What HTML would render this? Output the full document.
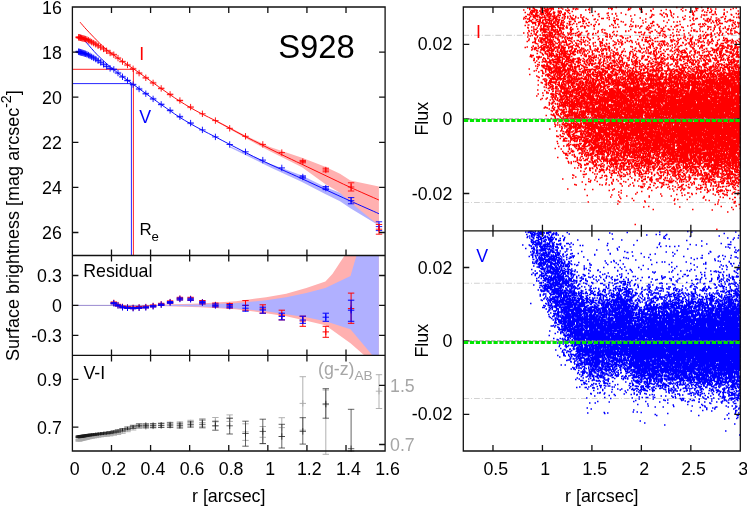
<!DOCTYPE html>
<html><head><meta charset="utf-8"><title>S928</title>
<style>html,body{margin:0;padding:0;background:#fff}svg{display:block;will-change:transform}text{font-family:"Liberation Sans",sans-serif}</style></head>
<body>
<svg width="747" height="506" viewBox="0 0 747 506">
<rect width="747" height="506" fill="#fff"/>
<path d="M463.3 35.35H740.3" stroke="#d2d2d2" stroke-width="1.1" stroke-dasharray="5.8 2 0.9 2" fill="none"/>
<path d="M463.3 202.45H740.3" stroke="#d2d2d2" stroke-width="1.1" stroke-dasharray="5.8 2 0.9 2" fill="none"/>
<path d="M463.3 283.28H740.3" stroke="#d2d2d2" stroke-width="1.1" stroke-dasharray="5.8 2 0.9 2" fill="none"/>
<path d="M463.3 398.52H740.3" stroke="#d2d2d2" stroke-width="1.1" stroke-dasharray="5.8 2 0.9 2" fill="none"/>
<g transform="scale(0.5)"><path d="M1065 15h3m12 0h3m148 0h3m118 0h3m47 0h3M1054 16h3m1 0h3m21 0h3m3 0h3m2 0h3m4 0h8m13 0h3m10 0h3m41 0h3m39 0h3m37 0h3m101 0h3m23 0h3m21 0h4m53 0h3M1058 17h3m4 0h5m11 0h6m1 0h3m7 0h9m9 0h3m26 0h4m2 0h3m62 0h3m4 0h3m30 0h3m19 0h3m110 0h6m17 0h3m48 0h3M1096 18h3m25 0h3m18 0h3m6 0h3m148 0h3m112 0h3m7 0h3M1058 19h3m7 0h3m20 0h5m9 0h3m42 0h3m23 0h3m43 0h3m33 0h3m18 0h3m49 0h3m27 0h3m83 0h3m10 0h3M1046 20h3m19 0h6m7 0h3m6 0h3m2 0h3m3 0h3m26 0h3m3 0h3m31 0h3m5 0h3m74 0h3m24 0h3m85 0h3m18 0h3m11 0h3m39 0h3M1062 21h6m5 0h3m8 0h3m1 0h3m1 0h3m39 0h6m160 0h3m18 0h3m15 0h3m50 0h3m19 0h3m5 0h3M1068 22h3m1 0h3m3 0h4m5 0h3m1 0h3m21 0h3m1 0h3m11 0h3m165 0h3m60 0h3m16 0h3m17 0h3m69 0h3M1060 23h3m27 0h3m1 0h3m2 0h3m15 0h3m1 0h3m19 0h3m43 0h3m196 0h3m38 0h3M1064 24h6m10 0h6m7 0h3m10 0h3m6 0h3m3 0h3m159 0h3m54 0h3m35 0h3m27 0h3m10 0h3m29 0h3M1049 25h3m10 0h3m6 0h6m4 0h6m4 0h3m3 0h3m8 0h3m10 0h3m11 0h3m40 0h3m203 0h3m25 0h3m3 0h3M1059 26h7m16 0h7m16 0h4m8 0h3m8 0h4m83 0h3m23 0h3m82 0h3m12 0h3m85 0h3m15 0h3M1062 27h3m25 0h3m1 0h6m7 0h3m9 0h3m16 0h3m72 0h3m14 0h3m152 0h3m83 0h3m2 0h3M1070 28h5m4 0h6m14 0h5m2 0h3m20 0h3m64 0h3m24 0h3m4 0h3m58 0h3m25 0h3m8 0h4m12 0h3M1054 29h3m1 0h3m1 0h3m5 0h3m12 0h3m10 0h3m14 0h3m6 0h6m65 0h3m52 0h3m50 0h3m16 0h3m59 0h3m36 0h6m2 0h3m12 0h4m11 0h3m11 0h3M1057 30h4m4 0h3m14 0h3m7 0h6m62 0h4m104 0h3m35 0h3m24 0h3m5 0h3m42 0h3m13 0h3m1 0h5m1 0h3m47 0h3M1068 31h11m9 0h3m2 0h3m4 0h3m5 0h3m5 0h6m23 0h3m36 0h3m28 0h3m105 0h3m60 0h3m19 0h3M1072 32h3m13 0h3m2 0h3m3 0h3m3 0h4m5 0h3m10 0h3m9 0h3m90 0h3m25 0h3m39 0h3m37 0h3m24 0h3M1050 33h4m6 0h3m2 0h9m23 0h3m3 0h3m1 0h3m1 0h3m15 0h3m2 0h3m13 0h3m44 0h3m133 0h3m114 0h3M1068 34h3m3 0h3m1 0h3m3 0h3m8 0h6m5 0h3m3 0h3m25 0h3m17 0h3m3 0h3m132 0h3m23 0h3m24 0h3m21 0h3m20 0h3m17 0h3m20 0h3m19 0h3m7 0h3M1047 35h3m8 0h3m5 0h3m9 0h8m1 0h6m16 0h3m5 0h3m4 0h3m23 0h3m64 0h3m79 0h3m43 0h3m16 0h3m74 0h3m28 0h3M1079 36h6m4 0h3m18 0h3m10 0h3m2 0h3m3 0h3m6 0h3m9 0h3m5 0h3m47 0h3m11 0h3m49 0h3m103 0h3m43 0h4m42 0h3M1050 37h3m16 0h3m7 0h3m7 0h3m5 0h6m2 0h6m1 0h3m27 0h3m19 0h3m4 0h3m28 0h6m184 0h4m19 0h3m31 0h3M1046 38h3m5 0h6m45 0h3m2 0h5m12 0h3m8 0h3m4 0h6m38 0h3m40 0h3m27 0h3m25 0h3m75 0h3m13 0h3m3 0h3m13 0h3m4 0h4m3 0h3m13 0h3m9 0h3M1064 39h3m5 0h5m12 0h11m5 0h3m4 0h5m1 0h3m22 0h5m16 0h3m7 0h3m10 0h3m27 0h3m15 0h3m128 0h3m49 0h5m36 0h3M1078 40h4m3 0h4m5 0h3m6 0h4m9 0h4m45 0h3m26 0h3m139 0h3m74 0h3m16 0h5m20 0h3M1058 41h6m7 0h3m10 0h3m9 0h8m6 0h3m9 0h6m98 0h6m52 0h3m92 0h3m4 0h3m20 0h3m18 0h3m5 0h3m21 0h6M1059 42h3m28 0h3m9 0h3m4 0h5m2 0h3m29 0h3m17 0h3m90 0h3m62 0h3m82 0h6m1 0h3m3 0h3m27 0h3m2 0h3M1051 43h3m2 0h3m15 0h8m2 0h3m11 0h3m13 0h5m3 0h3m12 0h6m6 0h3m12 0h6m71 0h3m61 0h3m50 0h3m63 0h3m4 0h3m2 0h3m10 0h3M1062 44h3m12 0h3m13 0h3m10 0h5m16 0h3m29 0h3m29 0h3m34 0h3m14 0h3m17 0h3m22 0h3m11 0h5m37 0h3m4 0h3m59 0h3m34 0h3m14 0h3M1051 45h5m9 0h8m4 0h3m1 0h3m7 0h5m5 0h3m9 0h6m2 0h4m13 0h3m15 0h3m17 0h4m153 0h3m90 0h3m36 0h3m6 0h3M1066 46h3m14 0h6m7 0h4m1 0h3m4 0h4m9 0h3m1 0h3m157 0h3m133 0h3m8 0h3m3 0h3m35 0h4M1064 47h3m2 0h3m4 0h5m9 0h5m4 0h3m4 0h3m5 0h4m15 0h3m10 0h3m16 0h3m3 0h3m55 0h3m68 0h6m102 0h3m27 0h8m21 0h3m5 0h3M1077 48h3m5 0h6m5 0h3m1 0h6m14 0h3m14 0h3m12 0h3m42 0h3m184 0h6m9 0h3m2 0h3m69 0h3M1077 49h3m20 0h3m8 0h3m8 0h3m14 0h3m1 0h3m35 0h3m5 0h3m4 0h3m23 0h3m9 0h3m13 0h3m7 0h3m50 0h3m43 0h3m21 0h3m10 0h3m6 0h3m2 0h3m22 0h3m25 0h3m3 0h3M1055 50h4m11 0h3m3 0h3m8 0h3m12 0h3m5 0h6m9 0h3m9 0h3m109 0h3m62 0h3m116 0h3M1049 51h3m29 0h3m6 0h3m12 0h3m8 0h3m1 0h3m1 0h4m45 0h3m10 0h3m36 0h3m42 0h3m23 0h3m7 0h3m42 0h6m23 0h3m45 0h3m32 0h3M1075 52h3m8 0h3m1 0h8m7 0h5m17 0h3m2 0h3m28 0h3m10 0h3m39 0h3m43 0h3m8 0h3m4 0h3m17 0h3m25 0h3m19 0h3m19 0h3m30 0h3m47 0h3m4 0h3m9 0h3M1087 53h5m5 0h9m1 0h3m4 0h3m35 0h3m5 0h3m4 0h3m17 0h3m68 0h3m1 0h3m5 0h3m7 0h3m34 0h3m21 0h3m55 0h3m1 0h3m8 0h3m22 0h3m29 0h3M1062 54h3m1 0h3m11 0h3m10 0h3m8 0h6m5 0h3m51 0h3m64 0h3m31 0h3m20 0h3m20 0h3m29 0h3m11 0h3m35 0h3m14 0h6m6 0h3m17 0h3m23 0h3M1054 55h3m29 0h3m4 0h3m6 0h5m2 0h3m4 0h6m3 0h3m3 0h5m4 0h4m82 0h3m1 0h3m61 0h3m1 0h3m25 0h3m36 0h3M1055 56h3m15 0h3m19 0h4m3 0h3m17 0h3m7 0h4m32 0h3m107 0h3m19 0h3m79 0h3m42 0h3m7 0h3m9 0h3m17 0h3M1082 57h3m1 0h3m14 0h3m13 0h3m169 0h3m27 0h3m91 0h3m20 0h3m4 0h3m8 0h3m3 0h3m1 0h3M1066 58h3m10 0h14m25 0h3m2 0h6m10 0h3m2 0h3m7 0h3m30 0h3m106 0h3m25 0h3m8 0h3m60 0h3m37 0h3m13 0h3M1069 59h5m13 0h8m1 0h3m2 0h7m1 0h3m1 0h3m25 0h6m57 0h3m53 0h3m30 0h3m40 0h3m6 0h3m5 0h3m58 0h3m3 0h3m4 0h3m23 0h5M1083 60h3m9 0h4m3 0h3m5 0h3m6 0h3m80 0h3m3 0h3m85 0h3m10 0h3m26 0h3m18 0h3m24 0h5m63 0h3m3 0h3M1056 61h3m3 0h3m15 0h3m3 0h7m8 0h3m1 0h8m5 0h3m19 0h3m180 0h3m40 0h3m12 0h3m2 0h3m49 0h3m21 0h3M1066 62h3m5 0h3m3 0h3m23 0h3m1 0h3m1 0h3m4 0h3m17 0h3m29 0h3m19 0h3m52 0h3m3 0h3m62 0h3m57 0h3m3 0h3m9 0h3m23 0h3m12 0h3m17 0h3m5 0h3M1057 63h3m28 0h5m5 0h3m15 0h3m2 0h3m17 0h3m12 0h3m12 0h3m52 0h3m4 0h3m14 0h3m48 0h5m6 0h3m10 0h6m21 0h3m36 0h5m8 0h3M1067 64h3m3 0h3m9 0h6m1 0h3m12 0h3m1 0h5m87 0h3m62 0h3m10 0h3m72 0h3m81 0h3m8 0h3m16 0h4M1072 65h3m13 0h4m5 0h8m9 0h4m7 0h3m11 0h4m10 0h3m6 0h3m29 0h3m27 0h3m43 0h3m3 0h5m7 0h3m6 0h3m19 0h3m88 0h3m60 0h3m3 0h3M1046 66h3m5 0h3m26 0h3m9 0h6m2 0h3m4 0h3m8 0h3m10 0h3m70 0h6m86 0h3m13 0h3m26 0h3m29 0h3m42 0h3m9 0h3m2 0h3m19 0h3m5 0h3M1061 67h3m34 0h5m7 0h3m2 0h3m27 0h4m1 0h3m6 0h3m13 0h4m6 0h3m2 0h3m94 0h3m28 0h3m123 0h3m7 0h3m19 0h3M1067 68h6m26 0h3m16 0h5m1 0h3m9 0h5m1 0h3m15 0h3m48 0h5m109 0h3m39 0h3m58 0h3m25 0h3m2 0h5m12 0h3M1071 69h3m13 0h3m2 0h3m8 0h3m2 0h4m1 0h3m9 0h3m29 0h3m24 0h3m31 0h3m6 0h3m52 0h3m43 0h3m76 0h3m4 0h3m2 0h5m12 0h3M1055 70h3m12 0h4m5 0h3m2 0h8m2 0h7m2 0h3m1 0h3m6 0h4m7 0h3m5 0h3m2 0h3m12 0h3m1 0h3m12 0h3m55 0h3m51 0h3m51 0h3m9 0h3m2 0h3m19 0h3m17 0h3m10 0h6m25 0h3M1063 71h3m19 0h6m2 0h3m4 0h3m47 0h3m1 0h3m161 0h3m8 0h3m14 0h3m3 0h3m24 0h3m31 0h3m6 0h3m12 0h3M1059 72h3m12 0h3m8 0h7m7 0h5m3 0h3m10 0h3m32 0h4m54 0h3m3 0h3m9 0h3m5 0h6m79 0h3m40 0h3m35 0h3m2 0h3M1097 73h3m2 0h3m1 0h3m10 0h3m8 0h3m62 0h3m12 0h4m9 0h3m33 0h3m16 0h3m17 0h3m30 0h3m11 0h3m48 0h3m23 0h3M1054 74h3m35 0h5m4 0h6m3 0h3m2 0h3m5 0h5m1 0h3m24 0h3m14 0h3m37 0h3m2 0h3m22 0h3m13 0h3m107 0h3m12 0h3m13 0h3m17 0h3m7 0h3M1073 75h3m14 0h3m11 0h5m24 0h3m1 0h3m3 0h3m15 0h3m2 0h4m4 0h3m68 0h3m37 0h3m2 0h6m1 0h3m14 0h3m11 0h3m8 0h3m68 0h3m33 0h3M1068 76h3m7 0h8m13 0h3m8 0h3m10 0h3m2 0h3m10 0h3m41 0h3m56 0h3m7 0h3m53 0h3m53 0h3m14 0h3m24 0h3M1087 77h3m2 0h5m16 0h3m20 0h6m34 0h3m18 0h3m21 0h3m26 0h3m47 0h3m5 0h3m43 0h3m3 0h3m11 0h3m3 0h3m14 0h6m3 0h5m35 0h3m1 0h5M1057 78h3m8 0h5m8 0h3m1 0h7m23 0h3m15 0h3m6 0h3m59 0h3m175 0h3m38 0h3m51 0h3M1070 79h3m9 0h4m11 0h5m3 0h3m6 0h3m12 0h3m29 0h3m15 0h3m13 0h3m76 0h3m6 0h3m3 0h5m51 0h3m9 0h3m9 0h3m7 0h3m40 0h3m12 0h3m13 0h3m7 0h3M1076 80h3m1 0h5m2 0h3m4 0h3m4 0h3m11 0h5m45 0h3m10 0h3m31 0h3m19 0h3m3 0h3m60 0h3m34 0h4m46 0h3m1 0h3m18 0h3m30 0h3M1056 81h3m21 0h3m3 0h3m8 0h4m16 0h3m16 0h5m12 0h5m12 0h3m31 0h3m46 0h3m4 0h3m20 0h3m4 0h3m5 0h3m3 0h3m41 0h3m4 0h3m13 0h3m7 0h3m13 0h3m23 0h3m8 0h3m8 0h6m3 0h3m2 0h3m1 0h3m7 0h3M1069 82h3m4 0h3m1 0h3m6 0h3m12 0h3m18 0h3m2 0h4m6 0h3m4 0h3m75 0h3m25 0h3m6 0h3m30 0h3m1 0h3m21 0h3m1 0h3m14 0h3m33 0h3m14 0h3m5 0h3m6 0h3m8 0h3m24 0h3m1 0h3m6 0h3M1053 83h3m13 0h3m9 0h3m8 0h3m2 0h3m1 0h4m3 0h3m6 0h3m3 0h3m3 0h3m10 0h3m13 0h5m3 0h3m5 0h3m21 0h3m34 0h3m5 0h3m11 0h3m29 0h9m11 0h4m1 0h3m2 0h6m1 0h5m10 0h4m7 0h3m24 0h3m39 0h3m29 0h3m13 0h3m4 0h3M1067 84h3m9 0h3m2 0h3m2 0h7m3 0h3m16 0h3m3 0h3m39 0h5m28 0h5m24 0h3m7 0h3m29 0h3m55 0h3m11 0h3m37 0h3m10 0h3m1 0h6m12 0h3m34 0h3m5 0h3M1064 85h3m17 0h3m2 0h3m4 0h3m3 0h5m9 0h3m8 0h7m28 0h3m24 0h3m11 0h3m36 0h3m4 0h3m11 0h3m28 0h3m28 0h3m27 0h3m6 0h3m20 0h3m5 0h3m9 0h3m9 0h3m11 0h3m13 0h3m19 0h3m4 0h3M1069 86h3m10 0h3m6 0h3m1 0h3m1 0h3m8 0h3m8 0h3m19 0h3m4 0h3m8 0h3m13 0h3m5 0h3m12 0h3m28 0h3m7 0h3m32 0h3m24 0h3m27 0h3m29 0h3m7 0h5m2 0h3m28 0h3m1 0h3m31 0h4m6 0h3m1 0h3m3 0h3M1071 87h3m26 0h3m10 0h3m16 0h3m4 0h3m10 0h3m48 0h3m5 0h3m3 0h3m22 0h3m60 0h3m9 0h3m34 0h3m66 0h3m15 0h7M1074 88h3m14 0h3m6 0h3m1 0h5m9 0h3m16 0h3m16 0h3m26 0h3m11 0h3m10 0h3m21 0h3m5 0h3m25 0h3m22 0h3m21 0h3m2 0h4m5 0h3m10 0h3m20 0h3m3 0h3m7 0h3m1 0h3m40 0h3m42 0h3M1086 89h6m5 0h8m32 0h3m21 0h3m4 0h3m41 0h3m12 0h6m43 0h3m23 0h3m17 0h3m6 0h3m19 0h3m27 0h3m30 0h3m12 0h5m35 0h3M1106 90h5m6 0h6m4 0h3m1 0h6m9 0h3m3 0h3m19 0h3m30 0h3m32 0h3m41 0h3m15 0h3m8 0h4m24 0h3m23 0h3m8 0h3m19 0h3m10 0h3m14 0h3m4 0h3m12 0h5M1083 91h4m4 0h3m22 0h3m15 0h3m16 0h3m14 0h3m26 0h3m1 0h3m1 0h3m15 0h3m71 0h3m21 0h3m2 0h3m12 0h3m14 0h5m38 0h3m1 0h3m20 0h3m8 0h6m14 0h4m4 0h5M1065 92h3m7 0h3m3 0h3m9 0h5m1 0h3m1 0h3m16 0h3m18 0h3m4 0h3m1 0h4m20 0h3m5 0h3m1 0h3m15 0h3m67 0h3m38 0h3m12 0h3m2 0h3m8 0h3m26 0h3m5 0h3m5 0h3m3 0h6m24 0h3m4 0h3m5 0h3m5 0h6m10 0h3M1065 93h3m20 0h3m3 0h4m7 0h3m8 0h3m5 0h3m13 0h3m11 0h3m22 0h3m18 0h3m7 0h3m2 0h5m40 0h3m36 0h3m3 0h3m49 0h3m42 0h3m38 0h5m12 0h3M1053 94h3m24 0h3m3 0h6m7 0h3m8 0h10m1 0h7m8 0h10m93 0h3m21 0h3m30 0h3m56 0h3m23 0h3m16 0h3m40 0h3m3 0h3m11 0h3m3 0h3m2 0h6M1049 95h3m10 0h3m5 0h3m4 0h3m1 0h3m7 0h6m4 0h3m3 0h5m4 0h3m3 0h3m1 0h6m25 0h3m68 0h3m48 0h3m10 0h3m16 0h3m7 0h3m24 0h3m33 0h3m48 0h4m13 0h3m13 0h3m1 0h3M1068 96h6m10 0h3m5 0h4m1 0h4m9 0h5m1 0h4m4 0h3m16 0h4m15 0h3m14 0h3m12 0h3m18 0h6m7 0h3m39 0h3m26 0h3m11 0h3m27 0h3m38 0h4m10 0h3m2 0h3m15 0h3m23 0h3m5 0h3m3 0h3m10 0h3M1070 97h3m2 0h3m9 0h3m9 0h3m5 0h3m26 0h3m4 0h3m5 0h3m8 0h3m1 0h3m33 0h3m4 0h3m57 0h3m10 0h3m2 0h3m17 0h3m9 0h3m49 0h3m24 0h3m10 0h4m9 0h3m6 0h4m5 0h6m5 0h3m13 0h3M1064 98h3m2 0h3m10 0h5m1 0h3m6 0h3m2 0h3m2 0h3m11 0h3m3 0h4m17 0h6m8 0h7m10 0h3m7 0h3m3 0h3m8 0h8m3 0h3m13 0h3m11 0h3m32 0h3m7 0h3m24 0h3m13 0h3m15 0h5m14 0h3m10 0h5m22 0h3m20 0h3m1 0h3m18 0h3m3 0h3m4 0h3M1068 99h3m12 0h3m18 0h3m7 0h3m3 0h3m2 0h3m14 0h3m4 0h3m7 0h3m18 0h3m9 0h3m17 0h3m49 0h3m44 0h3m18 0h3m16 0h6m50 0h3m14 0h7m1 0h3m8 0h3m13 0h3m2 0h3m7 0h3M1062 100h3m15 0h5m2 0h3m4 0h5m6 0h3m5 0h3m12 0h3m29 0h3m6 0h3m2 0h3m16 0h3m4 0h3m1 0h3m15 0h3m7 0h3m60 0h3m12 0h3m13 0h3m12 0h3m23 0h3m60 0h6m7 0h3m17 0h3M1072 101h3m11 0h4m6 0h8m1 0h4m5 0h3m4 0h3m3 0h3m10 0h3m5 0h3m3 0h3m30 0h3m15 0h3m3 0h3m3 0h3m48 0h3m5 0h3m30 0h3m36 0h3m6 0h3m4 0h3m23 0h3m10 0h4m16 0h3m8 0h3m5 0h3m5 0h4m11 0h3M1074 102h3m15 0h6m5 0h5m11 0h8m7 0h3m1 0h6m3 0h3m7 0h3m1 0h3m1 0h5m1 0h3m9 0h3m4 0h3m25 0h3m24 0h3m31 0h3m8 0h3m2 0h3m8 0h3m30 0h3m11 0h3m6 0h3m3 0h4m9 0h3m3 0h3m24 0h3m10 0h3m9 0h3m11 0h3m10 0h4m3 0h3M1089 103h3m2 0h4m4 0h4m4 0h3m7 0h3m6 0h6m3 0h3m5 0h6m25 0h3m14 0h3m5 0h3m20 0h3m15 0h3m3 0h3m8 0h4m8 0h3m2 0h3m27 0h3m6 0h3m1 0h3m6 0h3m11 0h4m13 0h3m6 0h3m7 0h3m29 0h3m5 0h3m9 0h3m4 0h6m9 0h3m16 0h3M1079 104h3m7 0h3m10 0h3m9 0h3m10 0h3m3 0h3m8 0h6m3 0h3m2 0h3m5 0h4m7 0h3m17 0h3m27 0h3m13 0h3m18 0h3m12 0h3m4 0h3m12 0h3m7 0h3m42 0h3m29 0h4m2 0h6m7 0h3m6 0h3m20 0h6m6 0h13m8 0h6M1080 105h3m14 0h3m1 0h3m13 0h3m3 0h3m19 0h3m35 0h3m48 0h3m5 0h3m13 0h3m39 0h3m3 0h3m7 0h3m30 0h3m4 0h3m3 0h8m1 0h3m52 0h4m1 0h3m37 0h3M1090 106h3m29 0h5m2 0h3m8 0h3m11 0h3m2 0h3m1 0h3m46 0h3m5 0h3m7 0h4m24 0h3m22 0h3m5 0h3m1 0h5m61 0h3m5 0h3m6 0h3m8 0h3m1 0h3m1 0h3m4 0h3m31 0h4m23 0h3M1073 107h3m7 0h3m3 0h3m9 0h7m14 0h12m8 0h3m29 0h3m25 0h6m17 0h3m31 0h3m35 0h3m12 0h3m8 0h6m88 0h3m13 0h3m5 0h3m15 0h5m9 0h3M1091 108h6m1 0h6m1 0h3m3 0h3m4 0h5m3 0h4m4 0h3m8 0h4m15 0h3m1 0h3m13 0h5m41 0h3m2 0h3m27 0h3m2 0h3m27 0h3m2 0h5m37 0h3m23 0h3m70 0h3m15 0h3m2 0h3M1084 109h3m6 0h3m4 0h3m2 0h3m4 0h4m1 0h3m1 0h3m2 0h5m4 0h7m3 0h7m51 0h3m6 0h3m11 0h3m4 0h3m5 0h3m64 0h3m1 0h3m5 0h3m11 0h3m16 0h6m4 0h3m21 0h4m25 0h3m1 0h3m15 0h3m6 0h5m12 0h3m5 0h7M1060 110h3m22 0h3m12 0h4m9 0h3m6 0h3m5 0h3m14 0h3m21 0h3m9 0h3m11 0h4m2 0h4m12 0h3m12 0h3m21 0h3m8 0h3m49 0h3m12 0h3m4 0h3m36 0h3m12 0h3m14 0h3m6 0h3m14 0h3m2 0h3m19 0h3m3 0h6M1062 111h6m26 0h3m1 0h4m2 0h6m16 0h6m6 0h3m20 0h3m3 0h3m21 0h3m3 0h3m28 0h3m7 0h3m5 0h3m17 0h5m16 0h3m17 0h6m8 0h3m2 0h3m25 0h3m16 0h3m24 0h6m1 0h7m7 0h3m5 0h3m2 0h3m6 0h4m5 0h3m2 0h3m5 0h3M1094 112h3m7 0h3m3 0h6m2 0h3m10 0h3m36 0h3m3 0h6m5 0h3m18 0h3m12 0h5m11 0h3m8 0h3m12 0h3m15 0h3m21 0h6m46 0h5m8 0h3m2 0h4m5 0h3m18 0h4m4 0h3m45 0h3M1059 113h3m15 0h3m17 0h3m1 0h3m8 0h5m8 0h4m4 0h5m4 0h3m24 0h5m4 0h5m17 0h3m5 0h3m1 0h9m50 0h3m12 0h3m5 0h5m19 0h3m7 0h3m10 0h3m1 0h3m14 0h3m2 0h5m40 0h3m15 0h3m6 0h3m2 0h3m14 0h3m8 0h6M1062 114h3m7 0h8m1 0h3m17 0h3m4 0h4m1 0h5m3 0h3m5 0h6m2 0h4m50 0h3m10 0h3m12 0h3m4 0h3m12 0h3m13 0h3m4 0h3m16 0h3m53 0h3m11 0h3m4 0h3m2 0h3m4 0h5m2 0h3m11 0h3m5 0h3m3 0h3m7 0h3m20 0h3m12 0h3m4 0h5m4 0h3m3 0h3M1078 115h3m33 0h12m4 0h8m39 0h3m1 0h12m20 0h3m21 0h3m34 0h3m18 0h3m12 0h3m4 0h3m14 0h3m15 0h3m9 0h7m4 0h3m9 0h3m11 0h3m33 0h3m2 0h3m12 0h3m15 0h3M1086 116h3m5 0h3m17 0h5m13 0h8m15 0h5m35 0h3m13 0h3m2 0h3m1 0h3m5 0h3m11 0h3m8 0h3m1 0h3m7 0h3m14 0h3m13 0h3m11 0h3m4 0h7m17 0h3m62 0h3m11 0h3m4 0h3m21 0h3M1067 117h3m5 0h3m9 0h3m4 0h5m14 0h6m5 0h3m6 0h7m5 0h3m5 0h5m7 0h3m8 0h3m7 0h3m18 0h3m10 0h3m13 0h3m5 0h3m7 0h3m15 0h3m7 0h3m22 0h4m4 0h3m22 0h3m1 0h5m9 0h3m20 0h3m14 0h5m1 0h3m18 0h8m8 0h3m2 0h3m4 0h3m10 0h3M1075 118h3m11 0h3m12 0h3m3 0h3m3 0h4m6 0h4m2 0h3m13 0h4m3 0h3m22 0h3m17 0h3m33 0h3m33 0h3m7 0h3m26 0h3m13 0h3m1 0h6m4 0h3m15 0h3m3 0h3m7 0h3m22 0h3m15 0h3m11 0h3m20 0h3M1084 119h3m21 0h6m3 0h4m12 0h3m4 0h3m1 0h3m10 0h6m4 0h3m4 0h3m5 0h3m22 0h3m26 0h3m23 0h3m25 0h6m7 0h3m3 0h3m9 0h5m18 0h3m3 0h3m1 0h3m11 0h3m9 0h3m23 0h4m2 0h3m4 0h3m23 0h3m6 0h3m6 0h3m1 0h4M1067 120h3m14 0h3m11 0h3m1 0h6m5 0h5m5 0h3m5 0h3m2 0h3m5 0h5m24 0h3m2 0h3m9 0h3m4 0h3m7 0h3m3 0h3m2 0h3m6 0h3m2 0h3m8 0h3m11 0h3m10 0h3m16 0h6m16 0h3m15 0h3m14 0h6m6 0h5m10 0h6m5 0h3m1 0h3m3 0h3m18 0h3m10 0h3m1 0h3m5 0h8m1 0h3m5 0h3m1 0h3m1 0h5M1066 121h3m21 0h3m5 0h5m1 0h3m6 0h9m13 0h6m2 0h5m7 0h3m1 0h3m9 0h4m7 0h6m11 0h3m4 0h4m13 0h8m9 0h3m12 0h3m4 0h3m5 0h4m3 0h3m72 0h3m6 0h3m13 0h3m3 0h5m8 0h3m7 0h6m18 0h3m21 0h3m9 0h3m6 0h3M1072 122h3m16 0h3m4 0h3m4 0h3m9 0h4m2 0h3m4 0h3m8 0h5m18 0h3m10 0h3m18 0h3m6 0h4m27 0h3m2 0h3m21 0h3m9 0h3m16 0h3m19 0h3m3 0h3m17 0h3m41 0h3m8 0h3m12 0h7m11 0h4m1 0h3m18 0h4m4 0h9M1086 123h6m7 0h4m4 0h5m2 0h7m2 0h3m5 0h5m7 0h6m3 0h3m1 0h3m8 0h3m10 0h3m2 0h3m38 0h5m2 0h3m26 0h3m4 0h3m1 0h3m20 0h4m5 0h3m12 0h5m21 0h3m5 0h3m9 0h3m5 0h3m2 0h3m10 0h3m21 0h7m45 0h3m3 0h4M1083 124h3m3 0h9m12 0h5m13 0h3m5 0h3m4 0h3m5 0h5m12 0h3m1 0h3m22 0h3m5 0h3m5 0h4m8 0h3m1 0h3m7 0h3m1 0h3m18 0h3m3 0h6m33 0h8m6 0h3m27 0h4m28 0h3m9 0h3m9 0h3m23 0h3m18 0h3m1 0h10m5 0h3M1069 125h3m5 0h3m15 0h8m2 0h5m2 0h14m11 0h6m16 0h3m12 0h3m2 0h3m14 0h3m2 0h3m16 0h3m13 0h3m5 0h3m1 0h3m13 0h3m10 0h3m29 0h6m3 0h9m27 0h3m21 0h6m6 0h3m40 0h5m9 0h3m6 0h6m1 0h3m1 0h3m3 0h3M1101 126h3m6 0h3m8 0h3m21 0h3m8 0h3m15 0h3m12 0h3m28 0h3m4 0h4m21 0h3m13 0h7m24 0h5m12 0h4m8 0h3m4 0h3m12 0h3m1 0h3m14 0h3m10 0h3m8 0h3m12 0h6m10 0h3m36 0h3M1114 127h3m8 0h5m2 0h4m19 0h3m9 0h3m8 0h8m4 0h3m2 0h7m4 0h3m1 0h3m5 0h7m7 0h3m12 0h3m20 0h5m8 0h3m9 0h3m6 0h3m10 0h3m3 0h7m20 0h3m16 0h3m1 0h3m8 0h3m9 0h3m32 0h3m28 0h3M1092 128h4m3 0h3m10 0h3m7 0h9m3 0h3m4 0h3m4 0h3m19 0h3m10 0h7m47 0h3m6 0h3m16 0h3m2 0h6m2 0h3m20 0h3m9 0h6m8 0h3m3 0h4m6 0h3m5 0h5m11 0h3m12 0h8m16 0h12m20 0h6m7 0h3m3 0h3m11 0h4M1074 129h3m26 0h6m7 0h3m8 0h3m2 0h3m7 0h3m4 0h3m8 0h3m7 0h3m3 0h4m36 0h3m22 0h5m6 0h3m8 0h3m13 0h3m4 0h3m4 0h5m3 0h3m5 0h3m4 0h8m17 0h3m6 0h3m7 0h3m20 0h3m1 0h4m3 0h3m7 0h5m1 0h3m21 0h6m3 0h3m5 0h6m1 0h4m6 0h3M1077 130h3m7 0h3m20 0h3m8 0h3m1 0h3m3 0h3m5 0h4m28 0h4m7 0h3m13 0h3m3 0h4m5 0h3m12 0h3m2 0h3m4 0h3m1 0h3m5 0h8m9 0h3m38 0h3m18 0h3m5 0h3m19 0h6m18 0h3m18 0h3m16 0h3m1 0h3m10 0h3m2 0h3m3 0h5m4 0h3m2 0h3m6 0h3M1082 131h6m5 0h4m14 0h4m9 0h9m3 0h3m15 0h6m2 0h5m10 0h3m3 0h3m31 0h3m2 0h11m34 0h3m13 0h5m28 0h3m3 0h3m7 0h3m35 0h3m1 0h3m18 0h3m7 0h8m29 0h3m1 0h3m21 0h7M1070 132h3m11 0h15m7 0h7m11 0h3m1 0h3m6 0h3m2 0h3m19 0h3m24 0h5m6 0h3m10 0h3m17 0h3m7 0h3m2 0h3m1 0h3m24 0h3m5 0h3m12 0h6m4 0h3m18 0h3m9 0h3m2 0h5m6 0h3m29 0h6m23 0h4m3 0h3m2 0h3m29 0h3m1 0h3M1074 133h3m6 0h6m2 0h3m4 0h3m6 0h3m1 0h3m4 0h3m3 0h5m1 0h3m6 0h3m1 0h3m2 0h5m2 0h3m8 0h3m22 0h3m2 0h3m7 0h5m6 0h3m8 0h3m10 0h3m1 0h3m5 0h3m14 0h6m1 0h3m8 0h3m3 0h4m3 0h3m17 0h3m4 0h3m4 0h3m16 0h5m22 0h3m6 0h3m2 0h6m6 0h3m10 0h6m22 0h8m1 0h3m7 0h3m4 0h3m2 0h3M1093 134h9m11 0h8m3 0h7m10 0h6m1 0h7m2 0h3m6 0h7m14 0h4m2 0h3m2 0h3m12 0h13m10 0h3m1 0h3m27 0h3m5 0h3m1 0h3m5 0h3m6 0h3m10 0h3m36 0h3m9 0h5m9 0h3m11 0h3m7 0h3m13 0h6m3 0h5m3 0h3m14 0h4m3 0h9m2 0h3m3 0h3M1085 135h3m8 0h3m13 0h6m3 0h3m1 0h3m16 0h3m21 0h3m1 0h4m45 0h3m9 0h3m2 0h6m12 0h3m7 0h3m9 0h3m8 0h3m11 0h4m10 0h7m43 0h7m2 0h3m8 0h3m2 0h3m1 0h3m9 0h6m3 0h8m5 0h3m6 0h6m2 0h9m7 0h3m3 0h3m1 0h3m2 0h4M1087 136h3m11 0h11m5 0h3m1 0h3m10 0h3m2 0h3m2 0h3m2 0h4m38 0h3m3 0h3m10 0h3m25 0h3m8 0h3m8 0h3m3 0h3m20 0h6m16 0h4m2 0h3m3 0h3m9 0h4m18 0h3m3 0h3m29 0h3m3 0h3m17 0h3m10 0h3m19 0h4m2 0h3m5 0h3m3 0h3M1073 137h3m13 0h5m4 0h4m8 0h3m6 0h4m2 0h6m3 0h6m8 0h4m10 0h3m26 0h4m1 0h4m1 0h3m7 0h7m4 0h3m1 0h3m11 0h3m22 0h3m22 0h5m10 0h3m5 0h3m5 0h3m10 0h3m28 0h6m8 0h3m1 0h3m27 0h3m15 0h4m4 0h3m2 0h3m7 0h3m5 0h6m2 0h3m4 0h3M1057 138h3m30 0h8m14 0h5m2 0h3m3 0h3m12 0h3m1 0h3m3 0h3m4 0h3m7 0h3m13 0h3m8 0h3m6 0h6m9 0h3m4 0h6m22 0h3m7 0h3m4 0h3m4 0h3m5 0h3m7 0h4m12 0h3m2 0h3m4 0h3m12 0h3m5 0h3m9 0h6m10 0h3m6 0h4m4 0h3m24 0h5m4 0h3m16 0h3m6 0h5m6 0h3M1097 139h3m2 0h3m6 0h3m1 0h6m6 0h5m8 0h3m1 0h3m3 0h3m4 0h5m5 0h18m1 0h6m9 0h3m12 0h4m7 0h5m5 0h8m25 0h3m8 0h3m3 0h3m4 0h3m9 0h3m3 0h3m1 0h3m16 0h3m6 0h3m5 0h3m2 0h3m7 0h3m17 0h3m3 0h6m8 0h4m3 0h6m9 0h3m13 0h5m7 0h3m11 0h3m1 0h4M1095 140h3m1 0h4m4 0h7m3 0h3m4 0h4m4 0h12m2 0h3m31 0h3m4 0h6m38 0h3m23 0h3m20 0h3m4 0h3m4 0h3m3 0h6m1 0h3m14 0h3m10 0h3m1 0h3m6 0h6m3 0h3m19 0h3m9 0h3m1 0h3m1 0h3m5 0h3m14 0h3m6 0h3m1 0h3m3 0h3m1 0h3m3 0h6m5 0h3m7 0h3M1071 141h3m7 0h5m4 0h3m8 0h3m15 0h3m3 0h9m7 0h3m1 0h3m24 0h3m13 0h4m12 0h8m12 0h5m5 0h3m6 0h5m1 0h3m7 0h3m2 0h3m4 0h3m7 0h3m2 0h3m15 0h9m2 0h5m1 0h4m9 0h3m4 0h4m3 0h4m8 0h10m23 0h4m3 0h6m4 0h3m5 0h3m2 0h3m6 0h9m21 0h3m11 0h3M1067 142h3m27 0h3m6 0h3m1 0h11m1 0h3m4 0h3m13 0h8m11 0h8m5 0h5m14 0h3m9 0h3m2 0h3m8 0h3m10 0h6m2 0h3m6 0h3m1 0h5m2 0h3m4 0h3m23 0h3m4 0h5m2 0h3m3 0h4m6 0h8m4 0h3m20 0h3m10 0h3m5 0h5m9 0h7m1 0h6m1 0h4m2 0h6m6 0h3m1 0h6m3 0h3m9 0h6m2 0h6m6 0h3M1102 143h12m2 0h3m3 0h5m2 0h6m1 0h3m5 0h11m3 0h3m8 0h3m2 0h3m1 0h3m8 0h3m6 0h3m3 0h3m4 0h3m8 0h6m21 0h3m4 0h3m10 0h3m7 0h3m12 0h3m3 0h3m6 0h3m4 0h3m20 0h4m2 0h6m1 0h6m11 0h3m3 0h5m6 0h3m3 0h5m5 0h4m1 0h4m8 0h3m5 0h5m3 0h4m31 0h10M1076 144h3m5 0h3m3 0h3m14 0h3m4 0h3m1 0h8m12 0h3m9 0h4m7 0h7m10 0h4m3 0h3m6 0h3m2 0h3m1 0h5m12 0h3m6 0h4m9 0h3m1 0h3m15 0h3m1 0h3m1 0h7m13 0h3m46 0h3m13 0h3m2 0h6m12 0h3m6 0h7m25 0h3m22 0h5m7 0h3m3 0h4m1 0h4m3 0h3M1098 145h7m7 0h6m1 0h3m6 0h5m2 0h3m9 0h3m3 0h4m6 0h4m2 0h3m2 0h3m7 0h3m2 0h5m5 0h8m2 0h7m14 0h3m4 0h3m2 0h4m1 0h3m1 0h5m6 0h5m4 0h8m8 0h9m8 0h3m9 0h3m3 0h3m6 0h3m21 0h3m1 0h6m4 0h4m16 0h3m2 0h3m2 0h9m1 0h3m9 0h3m2 0h3m4 0h3m5 0h3m5 0h4m10 0h3m1 0h10M1105 146h3m3 0h8m17 0h3m27 0h3m1 0h3m12 0h3m9 0h3m9 0h3m10 0h4m5 0h3m13 0h3m4 0h3m1 0h7m15 0h3m1 0h3m2 0h3m2 0h5m12 0h4m25 0h5m3 0h3m13 0h3m6 0h3m13 0h3m4 0h7m14 0h5m17 0h3m3 0h3m8 0h10m4 0h11M1084 147h5m12 0h3m5 0h3m2 0h3m3 0h3m4 0h3m4 0h4m6 0h7m4 0h4m16 0h3m16 0h3m1 0h4m6 0h5m11 0h3m2 0h3m2 0h3m6 0h3m2 0h3m16 0h3m6 0h3m3 0h3m1 0h3m23 0h3m6 0h8m1 0h3m4 0h5m5 0h3m7 0h8m10 0h3m5 0h3m3 0h5m1 0h4m11 0h4m1 0h6m1 0h6m20 0h3m1 0h5m1 0h3m6 0h14M1095 148h3m21 0h11m3 0h3m1 0h3m11 0h6m4 0h3m2 0h3m12 0h6m12 0h6m4 0h3m4 0h3m13 0h4m10 0h3m4 0h3m4 0h10m7 0h6m13 0h9m9 0h3m8 0h3m3 0h3m9 0h5m8 0h3m1 0h3m3 0h3m7 0h3m4 0h5m7 0h3m2 0h6m7 0h3m5 0h3m3 0h3m3 0h6m2 0h6m9 0h3m1 0h9m5 0h3m1 0h3M1058 149h3m30 0h6m1 0h3m8 0h3m2 0h3m1 0h3m2 0h3m1 0h3m2 0h3m3 0h3m2 0h3m1 0h3m3 0h8m11 0h9m4 0h12m1 0h8m9 0h7m6 0h5m1 0h3m2 0h3m4 0h4m8 0h3m4 0h3m2 0h3m2 0h5m4 0h3m8 0h7m2 0h3m3 0h6m6 0h3m8 0h3m16 0h6m2 0h4m1 0h5m2 0h3m4 0h4m12 0h3m9 0h3m2 0h6m3 0h6m1 0h3m3 0h7m5 0h3m4 0h5m4 0h11m2 0h3M1094 150h3m9 0h3m4 0h6m4 0h3m2 0h3m28 0h5m12 0h6m2 0h3m5 0h3m7 0h8m5 0h9m1 0h3m1 0h7m9 0h3m1 0h3m4 0h4m1 0h5m13 0h3m18 0h3m1 0h5m4 0h4m3 0h3m14 0h6m7 0h3m2 0h3m9 0h5m5 0h15m3 0h3m18 0h3m1 0h3m6 0h3m1 0h3m2 0h3m4 0h3m5 0h3m1 0h3M1090 151h3m4 0h3m7 0h3m7 0h3m2 0h3m10 0h7m16 0h3m11 0h6m16 0h3m1 0h5m11 0h4m1 0h3m5 0h3m1 0h3m20 0h3m8 0h3m4 0h5m5 0h3m1 0h3m5 0h3m5 0h3m3 0h5m10 0h4m13 0h6m3 0h4m4 0h6m4 0h3m3 0h3m10 0h3m5 0h3m3 0h4m2 0h3m16 0h3m9 0h13m1 0h14m2 0h3m1 0h10M1072 152h3m8 0h3m8 0h3m3 0h3m5 0h3m8 0h5m6 0h3m9 0h3m7 0h5m8 0h3m10 0h3m5 0h3m4 0h5m1 0h3m14 0h3m4 0h3m27 0h3m2 0h3m2 0h3m3 0h3m8 0h6m3 0h3m4 0h11m1 0h9m3 0h3m1 0h3m4 0h3m9 0h3m2 0h4m3 0h3m8 0h3m7 0h3m9 0h3m3 0h3m4 0h4m4 0h3m2 0h4m2 0h3m1 0h3m2 0h5m7 0h3m6 0h3m5 0h3m1 0h3m5 0h4M1095 153h3m5 0h3m6 0h3m12 0h6m3 0h6m4 0h3m20 0h4m6 0h4m6 0h9m3 0h4m4 0h3m3 0h5m1 0h3m19 0h3m5 0h3m3 0h6m6 0h3m8 0h3m3 0h3m12 0h3m3 0h5m8 0h5m12 0h5m1 0h6m1 0h4m6 0h3m7 0h3m2 0h7m1 0h5m8 0h7m1 0h3m1 0h4m9 0h5m2 0h3m5 0h8m1 0h4m1 0h4m11 0h3m7 0h3M1075 154h3m25 0h4m1 0h3m2 0h3m2 0h3m5 0h3m5 0h3m1 0h3m6 0h7m21 0h3m21 0h7m14 0h4m7 0h3m2 0h3m1 0h7m8 0h3m7 0h6m1 0h3m3 0h4m13 0h3m7 0h3m5 0h7m4 0h10m15 0h6m1 0h4m2 0h3m4 0h5m1 0h3m1 0h7m3 0h3m1 0h6m1 0h3m3 0h7m2 0h4m3 0h13m10 0h8m4 0h11m2 0h5m1 0h3M1077 155h3m23 0h6m7 0h6m14 0h3m1 0h5m2 0h3m12 0h3m6 0h3m18 0h3m19 0h9m9 0h3m14 0h3m6 0h3m16 0h6m12 0h5m1 0h3m12 0h3m6 0h3m10 0h3m17 0h9m3 0h4m1 0h3m1 0h6m1 0h3m7 0h4m5 0h3m5 0h3m1 0h3m12 0h3m5 0h3m1 0h10m2 0h3m8 0h7m2 0h3M1097 156h3m7 0h3m9 0h3m6 0h3m2 0h6m3 0h4m1 0h3m2 0h3m1 0h3m2 0h3m4 0h6m2 0h3m1 0h4m9 0h3m6 0h6m2 0h4m2 0h3m12 0h3m5 0h3m3 0h7m3 0h3m1 0h5m3 0h8m6 0h7m3 0h6m8 0h3m3 0h3m6 0h3m7 0h3m2 0h14m4 0h6m3 0h3m2 0h5m3 0h5m5 0h3m1 0h3m2 0h11m3 0h3m7 0h5m16 0h8m1 0h3m2 0h5m3 0h7m6 0h8M1100 157h12m2 0h3m5 0h8m13 0h4m1 0h3m1 0h3m2 0h10m1 0h3m5 0h3m4 0h5m3 0h3m6 0h5m1 0h3m2 0h3m9 0h4m4 0h3m1 0h3m1 0h3m7 0h3m2 0h14m2 0h4m3 0h8m1 0h3m7 0h5m14 0h11m12 0h3m7 0h11m9 0h3m7 0h13m1 0h3m2 0h5m6 0h3m1 0h3m3 0h3m4 0h3m7 0h11m4 0h3m2 0h3m4 0h3m2 0h3m5 0h3M1087 158h6m7 0h5m1 0h3m1 0h3m4 0h3m7 0h5m5 0h3m1 0h7m1 0h9m2 0h3m4 0h3m1 0h3m1 0h3m5 0h3m7 0h3m7 0h3m4 0h3m2 0h7m20 0h3m2 0h3m5 0h3m7 0h3m4 0h6m5 0h3m8 0h3m3 0h6m1 0h3m4 0h4m5 0h3m3 0h5m5 0h6m6 0h3m6 0h4m10 0h7m5 0h3m5 0h3m5 0h3m12 0h3m8 0h6m4 0h3m3 0h6m11 0h7m3 0h7M1085 159h4m16 0h3m1 0h3m1 0h3m3 0h6m1 0h6m19 0h9m6 0h10m9 0h6m6 0h3m6 0h3m1 0h3m2 0h3m4 0h3m13 0h3m4 0h3m2 0h3m3 0h3m3 0h7m1 0h3m1 0h7m1 0h3m5 0h3m2 0h3m4 0h11m4 0h6m4 0h3m4 0h5m8 0h5m2 0h3m6 0h3m17 0h3m1 0h6m3 0h3m2 0h5m5 0h7m2 0h9m6 0h14m1 0h8m2 0h3m1 0h3m4 0h4m1 0h5M1092 160h3m6 0h3m7 0h6m2 0h3m12 0h3m7 0h3m1 0h5m26 0h3m4 0h3m5 0h5m2 0h3m9 0h3m7 0h3m1 0h10m5 0h3m8 0h4m3 0h4m4 0h8m2 0h3m1 0h4m4 0h14m1 0h6m1 0h6m10 0h3m8 0h5m9 0h9m1 0h6m7 0h3m24 0h3m5 0h5m8 0h8m3 0h4m7 0h3m1 0h3m4 0h3m3 0h4m1 0h6m3 0h3M1075 161h3m20 0h3m32 0h11m10 0h3m15 0h6m5 0h5m2 0h9m1 0h3m6 0h3m2 0h3m4 0h8m5 0h6m38 0h3m10 0h3m8 0h6m4 0h3m2 0h3m7 0h7m2 0h6m5 0h4m2 0h4m1 0h3m3 0h3m1 0h5m5 0h5m6 0h4m13 0h3m1 0h3m1 0h6m1 0h4m3 0h3m2 0h3m7 0h8m2 0h3m3 0h5m1 0h6m2 0h3M1088 162h6m4 0h6m20 0h4m4 0h3m1 0h6m4 0h3m11 0h5m14 0h3m30 0h7m2 0h3m1 0h6m7 0h3m7 0h4m10 0h8m2 0h3m6 0h6m5 0h6m4 0h6m2 0h3m4 0h3m19 0h3m1 0h3m6 0h3m3 0h4m15 0h3m2 0h3m2 0h3m7 0h3m3 0h18m2 0h5m4 0h4m2 0h4m3 0h3m1 0h4m1 0h14m6 0h3M1090 163h3m6 0h3m9 0h3m12 0h7m1 0h3m1 0h6m1 0h3m3 0h6m2 0h3m1 0h3m4 0h6m1 0h3m3 0h6m1 0h4m8 0h7m2 0h3m9 0h4m2 0h4m1 0h6m6 0h4m4 0h6m15 0h3m2 0h3m9 0h3m5 0h4m1 0h3m1 0h5m6 0h3m7 0h5m7 0h6m5 0h3m4 0h3m11 0h3m4 0h7m2 0h9m4 0h5m1 0h6m4 0h7m2 0h3m9 0h3m1 0h5m1 0h12m5 0h3m4 0h5M1099 164h3m2 0h10m3 0h3m4 0h4m2 0h3m7 0h3m5 0h3m7 0h3m9 0h6m2 0h3m2 0h5m9 0h3m3 0h6m3 0h6m3 0h6m4 0h6m1 0h5m3 0h4m1 0h3m7 0h4m1 0h5m5 0h3m2 0h4m2 0h3m10 0h3m8 0h4m11 0h3m9 0h3m4 0h9m3 0h3m6 0h5m2 0h3m2 0h4m5 0h3m3 0h3m3 0h3m10 0h3m6 0h3m2 0h9m3 0h6m8 0h5m3 0h3m4 0h3m3 0h3M1081 165h3m12 0h3m3 0h7m6 0h3m17 0h3m1 0h3m2 0h3m19 0h3m1 0h6m4 0h3m3 0h3m17 0h4m1 0h3m3 0h3m3 0h6m1 0h3m4 0h9m15 0h5m2 0h8m5 0h3m22 0h3m3 0h10m5 0h4m2 0h7m1 0h11m12 0h3m1 0h3m4 0h3m4 0h4m2 0h3m4 0h3m2 0h3m1 0h24m3 0h5m1 0h3m5 0h14m6 0h7m4 0h4M1083 166h3m5 0h3m1 0h7m5 0h4m6 0h3m2 0h3m7 0h3m2 0h3m1 0h3m2 0h3m8 0h12m1 0h9m1 0h4m3 0h6m5 0h3m1 0h3m2 0h3m11 0h3m9 0h5m3 0h6m1 0h4m6 0h11m6 0h3m5 0h3m3 0h3m2 0h3m6 0h3m5 0h9m2 0h5m3 0h5m1 0h7m9 0h4m3 0h6m4 0h4m2 0h3m7 0h13m1 0h3m2 0h6m3 0h4m2 0h3m9 0h17m1 0h3m5 0h10m3 0h5m1 0h3M1095 167h4m11 0h3m4 0h3m6 0h3m16 0h5m1 0h3m25 0h6m3 0h3m6 0h6m2 0h4m7 0h6m4 0h6m2 0h5m12 0h3m3 0h7m3 0h5m2 0h4m3 0h12m6 0h7m2 0h6m3 0h4m2 0h3m4 0h9m3 0h3m2 0h7m1 0h6m2 0h3m2 0h8m1 0h3m6 0h3m1 0h3m2 0h7m4 0h3m6 0h12m1 0h7m6 0h3m2 0h7m3 0h6m2 0h4m1 0h3M1127 168h5m3 0h3m5 0h6m5 0h3m3 0h3m1 0h5m2 0h3m2 0h3m6 0h6m4 0h4m6 0h4m10 0h3m2 0h3m5 0h8m5 0h3m3 0h6m2 0h3m1 0h6m1 0h3m6 0h9m1 0h11m5 0h14m1 0h10m3 0h7m7 0h3m1 0h3m7 0h8m2 0h7m3 0h4m1 0h6m10 0h7m3 0h3m7 0h10m3 0h5m1 0h3m1 0h3m2 0h6m2 0h3m1 0h11m4 0h3M1089 169h5m1 0h3m2 0h3m7 0h3m1 0h5m3 0h5m2 0h4m2 0h3m3 0h6m4 0h8m1 0h3m3 0h3m3 0h3m6 0h3m1 0h3m1 0h3m2 0h3m2 0h3m6 0h3m4 0h4m6 0h3m8 0h6m1 0h9m1 0h3m3 0h4m2 0h3m7 0h3m8 0h7m3 0h8m11 0h8m8 0h3m2 0h3m7 0h3m1 0h9m1 0h6m3 0h3m3 0h4m4 0h15m3 0h3m4 0h6m14 0h8m3 0h3m1 0h3m1 0h3m1 0h8m2 0h3m3 0h3m6 0h3M1075 170h3m25 0h3m12 0h3m7 0h4m20 0h3m2 0h3m5 0h3m1 0h6m6 0h4m2 0h4m3 0h4m10 0h3m1 0h3m6 0h4m4 0h3m2 0h3m4 0h3m1 0h6m2 0h4m2 0h3m10 0h3m2 0h4m1 0h3m3 0h4m4 0h3m1 0h3m3 0h3m7 0h5m2 0h6m2 0h3m4 0h10m7 0h3m8 0h3m4 0h3m2 0h10m8 0h9m1 0h3m1 0h4m3 0h6m1 0h3m4 0h7m5 0h4m3 0h3m5 0h8m2 0h9M1091 171h3m3 0h3m3 0h3m10 0h5m3 0h3m15 0h4m9 0h5m3 0h3m7 0h3m1 0h4m5 0h5m2 0h3m1 0h4m6 0h3m1 0h3m14 0h9m1 0h3m1 0h3m4 0h4m13 0h3m3 0h3m1 0h3m19 0h18m3 0h5m14 0h8m5 0h7m6 0h3m3 0h6m5 0h11m1 0h3m9 0h3m1 0h7m6 0h5m6 0h8m3 0h5m4 0h3m1 0h5m6 0h3m1 0h8M1103 172h5m10 0h9m2 0h4m3 0h3m5 0h5m7 0h3m2 0h3m5 0h3m6 0h3m2 0h8m1 0h4m5 0h3m6 0h3m15 0h10m5 0h5m6 0h3m10 0h6m1 0h6m5 0h3m10 0h5m9 0h3m3 0h5m10 0h3m6 0h5m3 0h3m2 0h3m2 0h8m3 0h9m23 0h3m3 0h4m1 0h8m2 0h3m1 0h3m1 0h7m2 0h6m6 0h7m1 0h3m1 0h3m2 0h3m3 0h6M1100 173h4m7 0h3m8 0h6m11 0h3m7 0h3m3 0h4m9 0h5m2 0h5m2 0h6m7 0h4m1 0h3m2 0h3m6 0h6m6 0h3m5 0h4m7 0h6m7 0h3m5 0h3m7 0h3m7 0h3m4 0h16m1 0h3m4 0h3m2 0h6m1 0h3m4 0h5m5 0h8m11 0h13m6 0h4m5 0h3m1 0h3m10 0h20m6 0h3m1 0h4m2 0h4m1 0h14m2 0h15M1087 174h3m9 0h4m7 0h6m3 0h3m4 0h4m6 0h3m8 0h3m9 0h6m4 0h3m10 0h3m5 0h8m2 0h11m3 0h4m16 0h3m9 0h8m2 0h6m3 0h13m13 0h3m1 0h3m3 0h8m1 0h3m1 0h4m5 0h3m14 0h4m2 0h5m3 0h4m8 0h6m5 0h3m7 0h8m3 0h5m5 0h4m1 0h6m6 0h17m4 0h3m2 0h3m4 0h21M1091 175h3m5 0h3m2 0h3m4 0h3m6 0h6m1 0h4m5 0h3m5 0h3m7 0h8m3 0h6m1 0h3m1 0h10m1 0h3m3 0h3m5 0h3m3 0h3m4 0h3m28 0h3m1 0h15m4 0h9m9 0h5m6 0h7m14 0h3m7 0h6m8 0h3m2 0h3m11 0h7m2 0h7m6 0h6m1 0h3m4 0h8m1 0h4m1 0h3m2 0h3m13 0h16m4 0h5m5 0h7m3 0h10M1097 176h4m9 0h3m7 0h5m2 0h11m2 0h3m11 0h6m1 0h8m11 0h3m1 0h9m20 0h3m11 0h11m11 0h4m3 0h3m2 0h7m5 0h3m2 0h5m1 0h10m1 0h11m1 0h3m4 0h4m6 0h4m1 0h4m9 0h3m8 0h4m1 0h3m2 0h4m1 0h3m1 0h6m6 0h16m1 0h4m1 0h3m3 0h3m3 0h8m5 0h6m5 0h5m4 0h8m6 0h5m1 0h3m2 0h3M1095 177h3m5 0h6m1 0h3m13 0h6m4 0h3m10 0h4m3 0h6m6 0h3m1 0h3m4 0h5m2 0h6m2 0h3m2 0h3m4 0h3m13 0h5m3 0h8m2 0h3m7 0h8m1 0h5m1 0h8m2 0h4m2 0h19m4 0h3m8 0h8m5 0h3m6 0h6m2 0h4m4 0h8m3 0h3m3 0h3m1 0h6m3 0h5m5 0h6m8 0h3m2 0h7m10 0h4m3 0h9m1 0h12m3 0h11m1 0h6M1105 178h3m3 0h7m3 0h15m1 0h4m5 0h6m1 0h7m4 0h5m3 0h7m9 0h5m16 0h3m5 0h8m6 0h3m1 0h3m1 0h3m8 0h3m1 0h5m2 0h6m4 0h25m9 0h3m2 0h6m1 0h4m1 0h8m9 0h5m6 0h8m1 0h3m1 0h5m6 0h4m4 0h3m3 0h3m4 0h29m2 0h3m6 0h3m1 0h3m8 0h6m1 0h3m1 0h15m3 0h3M1102 179h3m51 0h5m3 0h6m1 0h3m1 0h3m1 0h5m2 0h3m4 0h3m1 0h3m16 0h7m1 0h3m5 0h4m1 0h4m13 0h3m1 0h4m3 0h11m1 0h3m4 0h5m2 0h4m23 0h4m3 0h7m10 0h14m3 0h4m2 0h3m8 0h3m8 0h3m4 0h10m1 0h3m4 0h7m1 0h6m6 0h6m5 0h9m11 0h6m8 0h5M1074 180h3m44 0h3m4 0h3m1 0h3m8 0h5m4 0h4m5 0h4m4 0h3m5 0h12m1 0h3m4 0h4m1 0h6m12 0h9m3 0h5m2 0h3m3 0h12m11 0h4m3 0h3m2 0h3m1 0h8m3 0h3m11 0h3m2 0h10m3 0h3m5 0h3m1 0h11m2 0h3m7 0h3m2 0h3m13 0h5m10 0h6m1 0h4m2 0h3m2 0h7m2 0h3m5 0h3m1 0h3m3 0h3m4 0h3m4 0h3m2 0h9m1 0h9M1088 181h3m6 0h3m27 0h4m1 0h5m5 0h10m2 0h4m3 0h10m12 0h7m1 0h3m6 0h4m6 0h5m5 0h10m14 0h7m4 0h3m1 0h6m8 0h3m7 0h6m2 0h6m1 0h4m8 0h3m11 0h4m1 0h3m1 0h7m1 0h5m4 0h5m3 0h3m5 0h7m2 0h3m3 0h3m1 0h7m1 0h3m6 0h9m3 0h3m1 0h9m6 0h10m5 0h7m1 0h4m3 0h6m1 0h10M1105 182h3m2 0h12m7 0h4m1 0h6m3 0h7m2 0h5m10 0h5m1 0h9m2 0h7m1 0h4m3 0h6m4 0h3m1 0h3m2 0h9m3 0h3m3 0h6m6 0h5m1 0h7m3 0h11m1 0h3m3 0h14m4 0h5m2 0h6m2 0h15m1 0h9m2 0h11m2 0h5m1 0h8m3 0h6m1 0h6m2 0h6m3 0h3m1 0h3m2 0h8m2 0h6m4 0h7m2 0h4m2 0h13m5 0h3m2 0h4m1 0h3m4 0h3M1104 183h3m3 0h3m8 0h3m7 0h3m5 0h3m3 0h3m3 0h3m4 0h3m1 0h3m2 0h3m10 0h3m9 0h3m2 0h5m5 0h3m1 0h3m4 0h3m3 0h3m1 0h3m3 0h3m2 0h3m1 0h8m8 0h5m1 0h3m3 0h3m7 0h13m9 0h4m2 0h3m7 0h3m3 0h8m3 0h8m1 0h12m3 0h3m5 0h7m6 0h7m2 0h3m2 0h22m5 0h8m13 0h3m2 0h7m3 0h3m1 0h19M1092 184h3m25 0h4m3 0h6m1 0h4m3 0h8m2 0h4m3 0h7m12 0h10m1 0h3m5 0h3m3 0h5m5 0h3m4 0h9m3 0h3m2 0h3m1 0h3m10 0h5m3 0h3m5 0h5m3 0h9m11 0h6m3 0h7m2 0h7m4 0h3m1 0h3m3 0h7m1 0h5m2 0h10m1 0h3m2 0h3m4 0h3m2 0h6m1 0h8m5 0h4m2 0h4m2 0h3m3 0h3m8 0h10m5 0h3m1 0h17m1 0h9m1 0h5M1124 185h3m2 0h3m5 0h3m12 0h3m1 0h4m7 0h7m6 0h8m1 0h5m1 0h6m6 0h12m1 0h6m2 0h3m2 0h3m3 0h3m3 0h3m2 0h6m2 0h7m3 0h13m4 0h6m5 0h3m5 0h4m1 0h3m1 0h3m1 0h8m1 0h3m5 0h6m5 0h6m6 0h7m4 0h3m11 0h8m4 0h12m2 0h20m1 0h3m1 0h6m4 0h4m2 0h3m2 0h3m2 0h22M1084 186h3m5 0h6m12 0h3m4 0h3m7 0h3m1 0h6m3 0h3m5 0h8m1 0h3m1 0h4m2 0h3m5 0h3m10 0h8m9 0h16m1 0h6m1 0h3m4 0h8m4 0h5m4 0h9m3 0h3m13 0h6m2 0h16m5 0h4m7 0h3m1 0h3m2 0h7m2 0h4m6 0h4m6 0h6m3 0h3m1 0h3m1 0h10m2 0h8m2 0h3m2 0h7m5 0h3m1 0h6m5 0h3m2 0h6m1 0h5m1 0h3m7 0h3m4 0h3m4 0h4M1102 187h3m6 0h5m8 0h3m2 0h10m5 0h3m8 0h4m7 0h17m2 0h3m3 0h3m3 0h3m5 0h3m1 0h3m1 0h6m1 0h3m1 0h6m1 0h5m4 0h7m19 0h3m1 0h3m3 0h3m1 0h3m10 0h9m9 0h3m1 0h4m2 0h3m1 0h5m2 0h8m1 0h3m2 0h4m1 0h3m2 0h3m1 0h8m1 0h8m4 0h3m1 0h10m1 0h8m4 0h9m6 0h3m1 0h3m1 0h5m1 0h8m1 0h4m1 0h9m5 0h5m4 0h7M1075 188h3m22 0h9m10 0h3m14 0h3m14 0h3m7 0h9m1 0h5m9 0h3m1 0h3m1 0h3m8 0h5m2 0h12m1 0h3m2 0h9m4 0h3m4 0h4m10 0h3m2 0h5m1 0h9m10 0h4m14 0h3m2 0h5m3 0h5m1 0h4m4 0h6m1 0h7m6 0h5m5 0h11m6 0h4m2 0h8m3 0h3m2 0h6m3 0h4m2 0h4m1 0h3m1 0h11m1 0h21m8 0h3M1102 189h3m11 0h3m8 0h3m2 0h3m3 0h8m5 0h3m1 0h5m2 0h6m5 0h8m3 0h3m13 0h15m2 0h3m3 0h3m5 0h3m6 0h5m1 0h3m2 0h3m3 0h12m6 0h3m1 0h6m2 0h3m1 0h4m4 0h3m5 0h4m2 0h12m23 0h3m3 0h6m3 0h3m4 0h8m1 0h17m1 0h6m2 0h3m6 0h6m1 0h3m1 0h6m1 0h3m1 0h3m2 0h10m5 0h4m2 0h8M1103 190h3m3 0h3m8 0h3m5 0h3m44 0h7m9 0h3m16 0h5m1 0h22m1 0h8m1 0h3m2 0h7m1 0h5m3 0h6m4 0h6m2 0h15m2 0h3m1 0h3m6 0h4m1 0h10m10 0h5m6 0h3m3 0h8m7 0h15m1 0h5m1 0h7m3 0h5m1 0h9m3 0h10m7 0h8m1 0h6m2 0h3m1 0h6m1 0h4m1 0h5M1085 191h3m15 0h5m2 0h4m5 0h3m4 0h8m4 0h3m3 0h3m8 0h18m5 0h5m1 0h3m4 0h7m5 0h3m1 0h3m8 0h9m6 0h3m6 0h10m2 0h8m2 0h7m2 0h5m1 0h4m2 0h3m2 0h4m2 0h7m1 0h6m2 0h6m1 0h3m4 0h3m3 0h3m1 0h5m1 0h3m3 0h6m3 0h3m9 0h4m1 0h3m1 0h5m2 0h3m2 0h6m2 0h18m15 0h3m2 0h3m2 0h6m6 0h4m12 0h10M1072 192h3m34 0h3m10 0h6m3 0h3m6 0h13m7 0h3m6 0h19m1 0h4m2 0h6m14 0h16m2 0h10m11 0h11m1 0h3m1 0h3m2 0h6m6 0h4m1 0h8m3 0h10m2 0h3m2 0h10m1 0h6m1 0h4m3 0h10m4 0h6m2 0h4m2 0h8m1 0h9m1 0h11m1 0h3m1 0h13m1 0h3m8 0h3m6 0h6m3 0h3m4 0h16m1 0h3M1120 193h3m3 0h3m1 0h6m2 0h8m4 0h7m3 0h7m6 0h9m11 0h7m5 0h3m5 0h3m5 0h3m2 0h8m3 0h3m2 0h10m1 0h3m3 0h12m3 0h5m6 0h4m1 0h3m2 0h3m1 0h6m6 0h3m3 0h6m4 0h4m1 0h5m3 0h3m5 0h4m3 0h19m4 0h17m2 0h5m7 0h6m1 0h6m5 0h7m6 0h4m1 0h3m1 0h11m4 0h3m2 0h3m5 0h5M1101 194h4m1 0h3m2 0h3m5 0h7m4 0h8m4 0h3m5 0h4m11 0h3m3 0h4m2 0h10m6 0h3m5 0h3m1 0h5m5 0h3m1 0h4m1 0h13m5 0h3m1 0h7m5 0h3m1 0h4m1 0h3m3 0h8m3 0h3m12 0h3m2 0h7m4 0h12m5 0h6m2 0h15m1 0h3m8 0h5m1 0h4m2 0h3m4 0h13m1 0h11m5 0h4m1 0h3m3 0h3m4 0h12m1 0h6m6 0h6m4 0h8m1 0h4M1104 195h3m41 0h3m6 0h3m7 0h3m4 0h6m3 0h5m9 0h5m1 0h9m1 0h3m1 0h3m1 0h12m1 0h8m2 0h4m13 0h3m22 0h6m5 0h10m2 0h4m1 0h6m3 0h6m3 0h9m6 0h3m3 0h3m1 0h3m3 0h17m3 0h4m2 0h16m1 0h3m1 0h6m2 0h11m7 0h8m2 0h3m2 0h5m2 0h3m2 0h3m4 0h10M1093 196h3m12 0h4m2 0h3m5 0h3m2 0h3m3 0h4m1 0h3m5 0h3m11 0h10m5 0h3m3 0h3m14 0h5m3 0h3m1 0h6m8 0h3m7 0h11m1 0h8m5 0h3m4 0h5m1 0h6m5 0h3m4 0h6m1 0h3m1 0h4m8 0h3m1 0h6m1 0h4m1 0h4m1 0h17m7 0h3m2 0h3m2 0h3m3 0h3m4 0h18m1 0h3m1 0h11m11 0h10m1 0h3m3 0h12m3 0h8m1 0h6m1 0h6M1083 197h3m23 0h3m9 0h3m4 0h3m1 0h3m11 0h11m1 0h3m1 0h4m9 0h3m1 0h3m3 0h6m2 0h3m3 0h7m1 0h5m2 0h4m1 0h4m1 0h9m9 0h16m4 0h11m3 0h3m3 0h13m12 0h3m4 0h11m1 0h5m5 0h3m1 0h3m4 0h5m5 0h3m2 0h3m2 0h3m4 0h3m3 0h12m3 0h3m10 0h8m7 0h3m4 0h3m1 0h32m3 0h9m1 0h3M1091 198h3m9 0h3m8 0h3m3 0h7m7 0h3m4 0h3m6 0h3m1 0h3m1 0h3m6 0h6m1 0h17m1 0h4m6 0h10m1 0h3m5 0h6m4 0h6m2 0h3m2 0h10m6 0h4m12 0h3m5 0h3m3 0h6m6 0h5m1 0h21m2 0h3m1 0h3m2 0h3m1 0h3m17 0h17m1 0h22m5 0h6m5 0h8m1 0h6m2 0h5m1 0h15m1 0h7m8 0h7M1080 199h3m26 0h4m5 0h3m2 0h5m4 0h7m5 0h3m9 0h5m4 0h4m4 0h3m1 0h7m3 0h4m2 0h4m1 0h23m2 0h4m5 0h4m5 0h3m5 0h6m7 0h3m3 0h6m4 0h7m1 0h11m4 0h12m1 0h3m2 0h5m6 0h4m8 0h29m3 0h3m2 0h13m2 0h23m6 0h9m5 0h3m2 0h21m3 0h13M1099 200h3m3 0h3m12 0h3m6 0h3m1 0h3m1 0h3m3 0h3m5 0h3m4 0h3m12 0h3m2 0h6m5 0h3m4 0h8m1 0h7m5 0h3m10 0h3m1 0h3m1 0h3m7 0h17m3 0h11m1 0h8m2 0h11m1 0h7m1 0h3m5 0h5m2 0h3m3 0h30m4 0h3m1 0h8m4 0h3m1 0h5m1 0h12m1 0h8m2 0h6m1 0h7m2 0h4m7 0h3m1 0h3m2 0h11m1 0h3m1 0h8m1 0h3M1113 201h3m19 0h5m1 0h3m3 0h3m2 0h7m3 0h8m10 0h3m1 0h5m2 0h3m1 0h6m1 0h7m2 0h3m5 0h14m2 0h9m1 0h3m5 0h5m1 0h8m3 0h5m3 0h9m3 0h7m1 0h3m1 0h5m1 0h11m4 0h11m3 0h11m2 0h7m3 0h6m1 0h9m1 0h12m2 0h13m2 0h3m2 0h6m6 0h12m1 0h8m1 0h4m3 0h8m3 0h8m1 0h5m2 0h3M1116 202h5m2 0h3m15 0h3m4 0h5m3 0h3m5 0h3m1 0h6m15 0h3m5 0h3m1 0h6m4 0h16m2 0h3m4 0h4m2 0h4m2 0h7m4 0h3m1 0h6m2 0h3m4 0h3m1 0h39m2 0h3m3 0h5m1 0h3m4 0h12m6 0h12m1 0h4m3 0h9m6 0h9m1 0h31m1 0h20m1 0h8m1 0h3m3 0h3m1 0h5M1107 203h3m13 0h3m2 0h8m2 0h3m1 0h4m8 0h3m4 0h3m2 0h3m2 0h3m6 0h7m2 0h13m2 0h8m16 0h10m4 0h5m1 0h14m4 0h3m2 0h3m1 0h6m4 0h6m15 0h12m1 0h14m3 0h3m1 0h8m4 0h8m1 0h3m5 0h4m5 0h3m1 0h3m2 0h5m1 0h5m8 0h3m1 0h4m1 0h3m1 0h6m3 0h3m1 0h3m8 0h5m2 0h7m2 0h3m4 0h4m4 0h3M1105 204h3m11 0h3m1 0h3m3 0h6m3 0h12m2 0h15m7 0h6m1 0h5m4 0h3m2 0h12m1 0h3m1 0h6m5 0h3m1 0h4m4 0h6m3 0h7m6 0h5m3 0h3m3 0h3m5 0h8m2 0h3m1 0h4m3 0h4m8 0h13m4 0h3m3 0h14m5 0h9m1 0h15m6 0h7m3 0h6m5 0h15m4 0h14m3 0h3m2 0h27M1097 205h3m3 0h3m13 0h12m1 0h7m3 0h3m2 0h3m4 0h3m1 0h6m4 0h3m3 0h10m1 0h5m9 0h3m6 0h3m1 0h4m6 0h12m5 0h5m4 0h6m5 0h7m4 0h3m3 0h3m7 0h4m14 0h8m1 0h3m1 0h3m2 0h3m4 0h8m1 0h3m3 0h11m1 0h3m1 0h9m1 0h3m3 0h6m4 0h5m7 0h9m1 0h3m1 0h4m4 0h3m3 0h15m7 0h5m6 0h5m3 0h5m2 0h8M1097 206h3m33 0h3m1 0h3m2 0h3m8 0h12m3 0h9m1 0h3m7 0h8m2 0h3m10 0h6m12 0h7m2 0h9m2 0h3m1 0h3m5 0h3m2 0h3m1 0h4m13 0h11m1 0h3m3 0h7m2 0h6m4 0h3m4 0h6m3 0h3m3 0h3m2 0h8m1 0h5m1 0h12m1 0h9m6 0h3m1 0h3m3 0h12m1 0h7m1 0h8m4 0h18m1 0h8m1 0h17M1098 207h3m3 0h3m2 0h3m2 0h3m5 0h3m1 0h3m1 0h3m3 0h5m1 0h11m3 0h9m1 0h3m1 0h3m3 0h3m1 0h7m3 0h12m2 0h3m3 0h3m19 0h3m1 0h8m2 0h3m1 0h4m5 0h3m14 0h3m1 0h3m1 0h4m2 0h6m1 0h15m1 0h6m2 0h3m5 0h3m4 0h4m2 0h6m2 0h8m1 0h5m3 0h9m1 0h8m2 0h5m3 0h31m1 0h7m2 0h3m1 0h23m1 0h6m1 0h3m4 0h4M1102 208h3m5 0h3m5 0h3m1 0h3m3 0h3m2 0h6m4 0h3m4 0h3m9 0h6m1 0h3m3 0h3m13 0h5m4 0h5m3 0h4m2 0h3m10 0h3m4 0h4m6 0h6m3 0h6m1 0h5m1 0h13m2 0h5m1 0h9m2 0h3m1 0h7m1 0h6m8 0h3m2 0h3m5 0h9m2 0h4m4 0h8m3 0h13m3 0h18m6 0h13m3 0h10m6 0h5m1 0h7m1 0h15m5 0h5M1114 209h3m1 0h3m1 0h7m11 0h11m2 0h9m10 0h3m6 0h3m1 0h3m1 0h6m3 0h3m7 0h5m1 0h10m2 0h7m2 0h3m4 0h3m7 0h6m1 0h5m2 0h4m3 0h11m8 0h14m1 0h7m2 0h6m7 0h7m4 0h14m3 0h16m3 0h6m1 0h4m6 0h3m4 0h3m3 0h3m2 0h15m3 0h16m2 0h13m1 0h4m3 0h9M1097 210h3m24 0h3m2 0h3m1 0h3m2 0h3m3 0h3m4 0h3m6 0h3m5 0h3m7 0h11m8 0h12m7 0h3m1 0h8m1 0h3m1 0h13m5 0h3m4 0h3m2 0h10m12 0h3m6 0h6m2 0h17m6 0h4m5 0h7m1 0h4m4 0h4m1 0h6m3 0h9m1 0h16m3 0h17m2 0h8m2 0h3m4 0h12m2 0h17m1 0h12M1121 211h4m1 0h3m3 0h3m3 0h3m2 0h3m7 0h3m1 0h3m2 0h3m8 0h3m2 0h3m5 0h5m8 0h9m7 0h3m1 0h3m3 0h4m1 0h6m1 0h6m1 0h3m1 0h3m2 0h4m1 0h4m3 0h7m1 0h9m1 0h5m1 0h6m2 0h3m3 0h4m3 0h12m3 0h4m1 0h15m1 0h8m1 0h3m2 0h4m1 0h6m1 0h3m3 0h3m3 0h16m2 0h3m1 0h5m5 0h3m3 0h7m1 0h4m6 0h8m1 0h3m6 0h3m3 0h3m6 0h8M1105 212h3m9 0h15m2 0h9m4 0h4m7 0h3m3 0h3m4 0h10m15 0h9m1 0h6m2 0h16m2 0h6m5 0h3m11 0h3m1 0h6m7 0h15m1 0h3m1 0h5m5 0h3m1 0h4m5 0h3m1 0h3m1 0h12m5 0h6m2 0h8m2 0h12m2 0h3m4 0h7m1 0h7m1 0h16m1 0h19m1 0h23m2 0h4m3 0h3m8 0h4M1104 213h3m7 0h3m10 0h3m9 0h3m1 0h10m1 0h3m1 0h9m3 0h9m4 0h7m6 0h6m1 0h8m2 0h7m3 0h4m2 0h9m2 0h3m10 0h3m3 0h4m2 0h3m8 0h3m2 0h6m3 0h3m1 0h9m1 0h5m1 0h6m3 0h4m3 0h5m1 0h7m1 0h12m2 0h3m1 0h6m9 0h6m3 0h4m1 0h6m5 0h48m2 0h10m1 0h10m3 0h6m1 0h3M1089 214h3m24 0h3m6 0h3m13 0h4m4 0h3m5 0h8m2 0h10m6 0h7m2 0h3m1 0h3m4 0h3m1 0h9m1 0h9m4 0h4m3 0h3m1 0h6m1 0h6m1 0h10m1 0h5m1 0h11m1 0h6m2 0h13m3 0h3m5 0h7m1 0h6m2 0h3m1 0h3m3 0h10m6 0h16m5 0h29m2 0h18m5 0h11m1 0h6m5 0h4m4 0h4m3 0h6m1 0h3M1090 215h3m15 0h3m14 0h3m1 0h3m5 0h3m5 0h6m1 0h3m15 0h3m20 0h3m11 0h6m5 0h6m7 0h3m2 0h5m4 0h10m1 0h4m1 0h3m2 0h10m2 0h4m3 0h18m1 0h3m6 0h3m8 0h5m2 0h4m2 0h4m2 0h3m4 0h11m2 0h3m1 0h17m2 0h6m1 0h6m1 0h12m1 0h3m1 0h11m1 0h6m3 0h3m8 0h7m8 0h10m2 0h6M1087 216h3m3 0h3m7 0h3m9 0h4m11 0h3m11 0h7m9 0h3m3 0h6m1 0h17m3 0h10m1 0h10m9 0h3m1 0h3m1 0h3m2 0h3m2 0h3m1 0h4m2 0h8m1 0h4m7 0h6m4 0h3m5 0h3m2 0h7m1 0h3m2 0h5m1 0h13m2 0h4m2 0h3m2 0h3m2 0h13m1 0h13m1 0h3m10 0h3m6 0h6m1 0h11m2 0h6m2 0h5m3 0h25m1 0h7m1 0h8m2 0h5M1105 217h4m7 0h3m24 0h3m1 0h4m10 0h4m7 0h3m6 0h5m4 0h9m1 0h10m3 0h5m3 0h7m1 0h12m4 0h8m3 0h7m2 0h3m3 0h6m3 0h6m4 0h5m2 0h6m4 0h6m1 0h7m2 0h10m1 0h10m3 0h14m3 0h8m2 0h8m5 0h4m1 0h11m2 0h3m1 0h8m3 0h6m2 0h11m3 0h14m1 0h9m3 0h13M1097 218h3m37 0h3m1 0h5m1 0h3m4 0h3m18 0h10m6 0h10m7 0h7m7 0h10m3 0h4m3 0h7m4 0h5m2 0h8m1 0h4m1 0h3m1 0h3m8 0h6m13 0h4m3 0h3m2 0h8m2 0h10m5 0h9m1 0h3m1 0h6m2 0h12m4 0h3m2 0h12m1 0h7m1 0h10m1 0h23m1 0h16m1 0h7m1 0h3m1 0h3m3 0h3M1107 219h3m8 0h3m1 0h3m1 0h4m1 0h3m5 0h3m1 0h11m2 0h3m1 0h3m8 0h3m1 0h5m4 0h9m2 0h3m11 0h5m1 0h3m2 0h3m2 0h12m1 0h3m4 0h6m5 0h8m2 0h8m3 0h8m5 0h5m2 0h5m5 0h3m1 0h3m1 0h6m4 0h3m3 0h18m2 0h24m1 0h4m2 0h10m4 0h5m3 0h8m1 0h17m1 0h3m2 0h5m1 0h6m3 0h11m2 0h14M1106 220h3m5 0h3m3 0h3m16 0h7m24 0h5m2 0h3m3 0h3m1 0h3m7 0h11m2 0h3m4 0h4m2 0h4m8 0h4m3 0h5m1 0h9m5 0h7m3 0h3m1 0h6m1 0h6m4 0h6m11 0h3m8 0h4m3 0h6m4 0h10m3 0h3m3 0h11m7 0h3m1 0h4m2 0h6m11 0h14m1 0h19m1 0h8m3 0h31M1101 221h3m7 0h5m7 0h6m8 0h3m14 0h3m9 0h3m4 0h4m8 0h14m2 0h4m2 0h3m1 0h8m5 0h10m7 0h8m3 0h13m5 0h6m1 0h5m2 0h5m2 0h6m1 0h6m5 0h6m5 0h7m2 0h7m5 0h17m3 0h12m1 0h5m2 0h5m5 0h6m3 0h9m4 0h3m1 0h6m2 0h9m2 0h8m4 0h12m5 0h6m1 0h10M1103 222h3m18 0h3m11 0h8m8 0h3m4 0h8m7 0h9m1 0h3m4 0h3m7 0h3m2 0h12m1 0h3m7 0h7m1 0h4m1 0h3m5 0h14m6 0h13m11 0h3m1 0h12m2 0h8m8 0h6m1 0h13m1 0h9m3 0h4m7 0h3m1 0h16m1 0h3m5 0h3m2 0h7m1 0h6m2 0h3m2 0h24m2 0h7m1 0h15M1103 223h3m7 0h4m6 0h6m3 0h3m1 0h10m13 0h3m6 0h9m6 0h8m1 0h7m4 0h4m3 0h3m1 0h3m4 0h3m6 0h8m1 0h3m2 0h3m2 0h3m3 0h15m5 0h5m1 0h3m1 0h6m2 0h5m8 0h12m3 0h3m1 0h15m1 0h3m1 0h3m3 0h25m1 0h13m1 0h3m2 0h3m1 0h5m4 0h14m1 0h18m1 0h10m1 0h8m1 0h10m1 0h3m2 0h3M1111 224h5m12 0h6m2 0h5m7 0h3m2 0h4m1 0h11m1 0h3m2 0h5m8 0h5m6 0h3m4 0h3m1 0h12m3 0h3m2 0h4m1 0h10m4 0h6m9 0h13m1 0h6m4 0h4m2 0h3m3 0h3m5 0h3m2 0h3m4 0h12m1 0h5m1 0h6m2 0h5m1 0h6m4 0h8m1 0h6m1 0h6m4 0h9m1 0h26m2 0h14m1 0h3m4 0h12m14 0h4M1110 225h5m7 0h3m1 0h4m13 0h7m3 0h3m7 0h3m8 0h3m1 0h6m4 0h3m4 0h7m1 0h6m3 0h5m4 0h3m7 0h3m5 0h6m2 0h6m1 0h10m5 0h5m1 0h10m4 0h3m1 0h3m10 0h13m1 0h4m2 0h24m2 0h5m4 0h9m5 0h3m3 0h3m1 0h9m1 0h4m4 0h3m4 0h6m1 0h3m1 0h16m1 0h3m9 0h5m1 0h9m3 0h11M1111 226h3m11 0h3m9 0h6m6 0h8m10 0h6m3 0h3m2 0h8m4 0h4m1 0h3m4 0h4m4 0h6m1 0h10m3 0h3m5 0h11m5 0h8m1 0h10m1 0h16m1 0h7m1 0h9m4 0h7m3 0h3m3 0h4m1 0h5m2 0h4m3 0h10m3 0h23m3 0h10m2 0h4m1 0h6m2 0h3m2 0h5m6 0h18m3 0h4m1 0h10m6 0h9M1120 227h3m3 0h5m11 0h4m8 0h3m1 0h3m1 0h6m17 0h3m17 0h7m1 0h11m2 0h6m3 0h5m2 0h4m2 0h3m3 0h7m3 0h14m5 0h4m3 0h7m4 0h14m2 0h4m1 0h4m2 0h7m4 0h6m1 0h6m1 0h3m3 0h4m2 0h5m1 0h5m4 0h9m1 0h3m8 0h18m5 0h4m1 0h8m4 0h5m4 0h3m1 0h3m3 0h14m4 0h4M1106 228h3m6 0h3m2 0h3m2 0h3m9 0h3m6 0h3m3 0h3m13 0h4m4 0h3m5 0h3m8 0h6m1 0h3m9 0h3m3 0h3m7 0h9m2 0h5m4 0h3m11 0h5m3 0h3m2 0h6m1 0h3m5 0h3m2 0h3m3 0h3m1 0h24m1 0h4m1 0h3m2 0h5m6 0h10m5 0h4m2 0h12m1 0h7m2 0h9m2 0h3m6 0h15m1 0h3m4 0h3m2 0h8m8 0h3m8 0h4m1 0h6M1101 229h3m8 0h3m6 0h3m5 0h3m2 0h3m4 0h3m5 0h6m1 0h8m2 0h5m3 0h5m2 0h3m4 0h5m1 0h6m1 0h3m6 0h4m4 0h3m1 0h14m2 0h6m1 0h3m4 0h6m7 0h12m2 0h4m1 0h3m5 0h4m5 0h8m8 0h17m2 0h8m2 0h6m1 0h3m1 0h3m2 0h25m1 0h4m1 0h6m3 0h3m4 0h18m1 0h6m4 0h4m1 0h6m2 0h11m1 0h9m3 0h3M1103 230h3m9 0h3m14 0h9m3 0h3m12 0h7m1 0h3m14 0h6m5 0h6m6 0h10m5 0h6m3 0h7m10 0h3m5 0h15m3 0h4m2 0h7m2 0h12m2 0h13m6 0h3m2 0h9m3 0h3m1 0h11m2 0h5m4 0h9m1 0h4m1 0h17m2 0h16m1 0h5m1 0h10m1 0h6m2 0h7m2 0h3m1 0h4m1 0h9m4 0h5m1 0h3M1091 231h3m11 0h6m4 0h3m9 0h3m6 0h3m9 0h12m2 0h8m18 0h3m2 0h4m3 0h13m1 0h10m1 0h3m2 0h3m1 0h10m4 0h4m1 0h3m2 0h6m4 0h3m2 0h7m1 0h5m2 0h3m6 0h6m2 0h5m3 0h7m10 0h3m2 0h7m2 0h6m2 0h3m2 0h19m1 0h17m2 0h11m3 0h3m1 0h8m1 0h15m1 0h8m2 0h3m2 0h3m3 0h20M1118 232h3m6 0h5m4 0h10m1 0h7m1 0h6m2 0h5m2 0h3m9 0h4m2 0h5m3 0h3m8 0h5m3 0h3m6 0h7m1 0h3m2 0h7m5 0h7m9 0h3m1 0h3m3 0h10m8 0h3m2 0h5m2 0h4m2 0h9m1 0h4m1 0h3m2 0h3m1 0h7m1 0h8m2 0h3m1 0h4m5 0h8m1 0h5m2 0h8m5 0h20m2 0h4m1 0h9m3 0h11m2 0h10m3 0h7m1 0h9m2 0h3M1108 233h3m19 0h8m9 0h4m1 0h8m2 0h5m3 0h4m14 0h7m3 0h7m2 0h5m4 0h4m1 0h17m1 0h8m4 0h6m2 0h4m1 0h15m3 0h3m4 0h4m1 0h3m1 0h4m1 0h20m2 0h3m11 0h3m1 0h12m1 0h16m2 0h36m3 0h20m1 0h9m2 0h8m2 0h14m4 0h4m2 0h3M1109 234h3m7 0h3m3 0h3m21 0h3m4 0h3m6 0h4m6 0h3m8 0h3m2 0h3m1 0h6m3 0h10m3 0h9m3 0h3m6 0h4m6 0h4m4 0h9m4 0h3m2 0h7m2 0h3m5 0h7m4 0h7m1 0h3m6 0h3m4 0h3m2 0h3m2 0h3m4 0h14m3 0h20m2 0h6m1 0h3m3 0h8m2 0h3m1 0h13m2 0h12m4 0h3m2 0h3m1 0h26m1 0h5M1120 235h3m2 0h3m30 0h4m3 0h8m6 0h3m3 0h8m5 0h5m11 0h5m1 0h15m2 0h3m6 0h12m3 0h3m3 0h3m1 0h8m2 0h5m3 0h3m1 0h3m1 0h5m3 0h3m2 0h6m1 0h4m1 0h18m1 0h9m1 0h21m3 0h5m3 0h9m2 0h13m3 0h3m1 0h18m3 0h17m3 0h4m3 0h6m2 0h11M1126 236h3m4 0h3m1 0h9m2 0h14m1 0h9m1 0h3m7 0h9m6 0h7m8 0h6m2 0h3m5 0h7m6 0h6m6 0h19m9 0h5m2 0h14m1 0h3m6 0h10m9 0h4m1 0h3m1 0h3m1 0h8m4 0h12m2 0h6m1 0h13m2 0h8m2 0h5m4 0h3m4 0h19m2 0h10m5 0h15m2 0h9M1101 237h3m5 0h3m10 0h6m2 0h4m11 0h5m7 0h3m1 0h6m15 0h3m1 0h9m1 0h3m2 0h10m8 0h8m1 0h4m5 0h7m6 0h6m2 0h3m4 0h15m4 0h3m5 0h10m3 0h3m11 0h14m4 0h11m1 0h9m1 0h8m2 0h3m2 0h6m2 0h11m1 0h15m5 0h3m2 0h4m2 0h12m1 0h8m1 0h4m11 0h8m1 0h8M1114 238h3m8 0h6m2 0h4m3 0h4m2 0h3m1 0h3m4 0h3m4 0h6m7 0h3m11 0h7m1 0h6m8 0h5m3 0h3m6 0h4m1 0h4m1 0h3m2 0h5m1 0h12m1 0h4m2 0h3m2 0h7m4 0h3m4 0h7m2 0h3m2 0h7m2 0h3m1 0h8m1 0h6m7 0h3m2 0h41m2 0h3m4 0h3m1 0h6m9 0h29m3 0h17m5 0h3m4 0h3M1095 239h3m12 0h4m1 0h3m10 0h3m15 0h10m4 0h6m6 0h3m6 0h10m1 0h3m1 0h8m2 0h6m4 0h3m3 0h3m1 0h3m7 0h3m4 0h13m2 0h11m4 0h3m1 0h7m1 0h11m2 0h9m1 0h9m3 0h13m1 0h9m3 0h13m2 0h7m1 0h3m1 0h3m6 0h3m2 0h4m1 0h33m1 0h4m5 0h8m2 0h11m1 0h8m2 0h4m4 0h7M1111 240h3m20 0h5m8 0h3m4 0h3m10 0h9m2 0h5m2 0h5m1 0h6m7 0h3m2 0h4m6 0h3m9 0h10m10 0h18m2 0h16m1 0h5m4 0h5m5 0h3m4 0h3m3 0h3m1 0h3m6 0h3m2 0h4m1 0h4m3 0h15m1 0h4m2 0h4m8 0h9m7 0h3m1 0h23m1 0h3m2 0h7m4 0h12m1 0h24M1112 241h3m9 0h3m1 0h4m11 0h3m16 0h6m3 0h3m8 0h3m1 0h4m2 0h5m14 0h7m3 0h10m6 0h8m1 0h3m2 0h8m7 0h3m2 0h3m5 0h10m1 0h3m1 0h15m1 0h3m5 0h3m1 0h5m2 0h11m1 0h3m1 0h14m2 0h8m9 0h4m1 0h3m3 0h3m2 0h5m5 0h5m7 0h5m5 0h4m3 0h10m2 0h4m2 0h6m10 0h3m1 0h11M1131 242h5m1 0h3m3 0h3m1 0h3m10 0h3m3 0h5m1 0h3m7 0h4m1 0h6m1 0h3m4 0h3m2 0h4m2 0h3m1 0h8m3 0h6m4 0h3m4 0h6m6 0h3m1 0h21m2 0h6m5 0h7m1 0h8m2 0h8m3 0h5m1 0h11m2 0h5m6 0h7m3 0h3m6 0h5m2 0h6m5 0h10m1 0h7m4 0h24m2 0h6m4 0h4m3 0h8m2 0h8m1 0h6M1117 243h3m1 0h3m11 0h3m8 0h7m6 0h3m2 0h3m1 0h4m3 0h9m1 0h15m1 0h6m1 0h3m12 0h13m3 0h3m4 0h3m6 0h3m1 0h3m10 0h5m1 0h3m6 0h21m1 0h3m1 0h13m1 0h3m1 0h9m3 0h3m1 0h7m1 0h17m3 0h5m1 0h4m5 0h16m4 0h16m1 0h22m4 0h6m2 0h7m2 0h7m1 0h3M1108 244h3m30 0h3m8 0h3m12 0h5m6 0h26m1 0h3m2 0h3m9 0h3m3 0h10m5 0h3m5 0h3m2 0h4m1 0h3m6 0h3m4 0h6m3 0h10m4 0h22m2 0h3m1 0h7m1 0h11m4 0h14m4 0h8m2 0h7m1 0h3m2 0h19m2 0h12m2 0h6m6 0h4m6 0h6m5 0h21M1125 245h3m17 0h3m4 0h3m15 0h3m2 0h9m6 0h4m5 0h9m1 0h3m5 0h6m6 0h3m2 0h3m4 0h5m7 0h14m2 0h7m4 0h3m1 0h3m1 0h9m1 0h3m2 0h5m6 0h8m9 0h9m3 0h6m2 0h3m1 0h11m3 0h5m1 0h3m2 0h20m2 0h3m1 0h5m3 0h3m1 0h15m1 0h10m2 0h5m10 0h19M1114 246h3m13 0h4m11 0h4m12 0h3m1 0h3m2 0h5m21 0h9m1 0h6m3 0h7m1 0h6m3 0h9m1 0h3m5 0h9m2 0h3m6 0h8m1 0h3m4 0h3m3 0h7m7 0h6m1 0h13m4 0h8m1 0h4m1 0h10m3 0h4m2 0h10m1 0h7m2 0h8m3 0h14m2 0h6m8 0h3m1 0h15m2 0h4m1 0h4m2 0h17m6 0h3M1131 247h6m5 0h6m1 0h3m1 0h5m1 0h3m5 0h11m4 0h5m8 0h16m2 0h7m1 0h3m4 0h3m3 0h6m3 0h5m6 0h4m5 0h4m1 0h6m2 0h9m1 0h12m4 0h7m1 0h4m3 0h3m9 0h14m6 0h12m1 0h6m4 0h8m4 0h22m1 0h30m2 0h20m1 0h4m2 0h6m1 0h7M1108 248h3m12 0h4m1 0h3m5 0h6m5 0h3m5 0h3m2 0h3m3 0h3m1 0h3m5 0h4m1 0h6m1 0h6m1 0h4m6 0h4m5 0h9m2 0h7m1 0h3m2 0h3m1 0h7m1 0h3m5 0h11m3 0h3m4 0h9m1 0h6m2 0h3m1 0h14m2 0h3m4 0h14m1 0h4m4 0h11m5 0h14m1 0h4m1 0h3m3 0h4m1 0h18m4 0h5m4 0h9m7 0h3m3 0h7m1 0h5m2 0h6m2 0h9M1124 249h5m9 0h4m9 0h3m7 0h3m11 0h3m4 0h8m2 0h3m2 0h3m6 0h3m1 0h8m2 0h14m1 0h3m4 0h12m5 0h7m1 0h7m2 0h6m3 0h8m4 0h5m1 0h5m5 0h3m3 0h4m2 0h16m2 0h3m7 0h5m3 0h7m1 0h15m1 0h8m1 0h24m2 0h4m1 0h10m1 0h9m1 0h11m1 0h11m1 0h5m3 0h3M1110 250h3m1 0h3m1 0h3m13 0h4m2 0h3m3 0h3m1 0h3m1 0h9m9 0h3m8 0h3m1 0h5m1 0h3m3 0h3m6 0h7m1 0h5m1 0h5m2 0h6m4 0h11m1 0h21m1 0h3m3 0h21m1 0h5m1 0h7m4 0h6m1 0h10m1 0h3m9 0h8m4 0h3m2 0h14m2 0h11m1 0h4m1 0h17m2 0h27m7 0h9m5 0h7m1 0h9M1129 251h7m1 0h7m2 0h3m20 0h6m3 0h18m9 0h3m7 0h5m9 0h6m6 0h8m2 0h6m3 0h7m5 0h22m1 0h5m1 0h3m11 0h5m9 0h3m1 0h9m1 0h3m1 0h4m3 0h5m4 0h27m1 0h3m2 0h5m4 0h9m6 0h7m1 0h5m1 0h11m1 0h10m1 0h7m1 0h4m2 0h10M1127 252h3m2 0h3m5 0h4m5 0h6m1 0h3m3 0h5m2 0h3m3 0h4m2 0h3m2 0h6m10 0h3m7 0h3m1 0h6m1 0h7m3 0h9m5 0h3m1 0h6m3 0h3m1 0h6m7 0h3m1 0h3m4 0h17m1 0h4m2 0h5m4 0h3m1 0h7m1 0h13m1 0h3m6 0h3m1 0h3m2 0h6m1 0h3m1 0h8m1 0h11m1 0h3m2 0h8m3 0h40m4 0h3m1 0h20M1109 253h3m10 0h3m5 0h3m4 0h9m1 0h5m5 0h10m12 0h10m2 0h7m2 0h5m3 0h3m1 0h3m3 0h5m1 0h3m1 0h3m1 0h3m2 0h8m12 0h4m4 0h6m2 0h3m1 0h31m2 0h14m1 0h5m3 0h9m4 0h3m1 0h7m3 0h3m14 0h10m1 0h11m1 0h6m1 0h5m1 0h4m2 0h3m5 0h3m1 0h9m1 0h3m3 0h6m1 0h3m5 0h20M1118 254h3m11 0h3m8 0h6m3 0h3m2 0h3m4 0h7m3 0h3m5 0h4m3 0h3m1 0h9m5 0h3m6 0h10m2 0h3m1 0h5m4 0h3m1 0h10m1 0h5m1 0h3m4 0h5m2 0h6m2 0h3m1 0h6m6 0h25m6 0h5m2 0h4m1 0h7m6 0h15m2 0h4m2 0h3m1 0h13m1 0h3m5 0h5m2 0h3m3 0h14m6 0h4m6 0h8m1 0h3m1 0h8m1 0h11M1137 255h4m5 0h5m3 0h5m10 0h11m3 0h7m6 0h3m3 0h5m2 0h6m7 0h3m4 0h6m5 0h3m4 0h3m2 0h6m2 0h7m1 0h3m1 0h3m12 0h9m2 0h11m1 0h4m8 0h12m4 0h4m1 0h5m1 0h7m1 0h14m3 0h11m2 0h15m1 0h19m5 0h11m3 0h3m1 0h3m4 0h3m3 0h7m5 0h7m2 0h3M1123 256h3m2 0h3m9 0h4m1 0h3m1 0h3m5 0h6m2 0h3m1 0h3m1 0h3m1 0h3m9 0h18m8 0h11m8 0h13m2 0h3m1 0h8m7 0h3m2 0h8m2 0h3m5 0h6m5 0h3m1 0h3m1 0h3m2 0h3m12 0h8m4 0h8m2 0h3m3 0h3m6 0h8m2 0h15m3 0h25m4 0h6m11 0h3m2 0h19m1 0h8m2 0h6M1135 257h9m5 0h4m1 0h7m10 0h6m3 0h9m3 0h6m4 0h3m1 0h3m2 0h9m9 0h3m12 0h11m9 0h9m1 0h6m1 0h3m2 0h3m4 0h7m4 0h10m1 0h4m1 0h7m4 0h7m4 0h3m1 0h8m1 0h6m2 0h4m3 0h10m1 0h3m4 0h16m1 0h5m2 0h13m9 0h9m10 0h28M1098 258h3m21 0h3m13 0h5m9 0h3m20 0h5m1 0h3m4 0h3m7 0h5m7 0h3m6 0h12m2 0h8m4 0h6m1 0h3m6 0h3m1 0h12m2 0h6m1 0h19m4 0h3m7 0h4m1 0h10m3 0h17m1 0h3m3 0h9m3 0h9m5 0h20m1 0h3m2 0h15m1 0h9m1 0h3m1 0h3m1 0h9m4 0h3m1 0h7m2 0h9M1133 259h3m1 0h3m9 0h3m1 0h3m12 0h5m2 0h3m1 0h3m3 0h4m6 0h6m2 0h4m2 0h3m3 0h5m1 0h9m3 0h3m1 0h3m2 0h3m5 0h9m4 0h3m2 0h5m2 0h17m2 0h11m3 0h12m2 0h14m4 0h3m4 0h9m2 0h4m1 0h3m5 0h7m4 0h7m4 0h3m1 0h12m4 0h12m1 0h3m1 0h5m1 0h6m4 0h7m1 0h17m5 0h5M1139 260h3m19 0h3m14 0h7m3 0h4m3 0h3m1 0h10m3 0h3m1 0h3m6 0h3m1 0h3m2 0h4m7 0h4m1 0h5m4 0h5m2 0h3m1 0h7m1 0h5m5 0h6m4 0h3m1 0h5m8 0h3m4 0h3m1 0h6m1 0h3m1 0h3m3 0h5m3 0h8m5 0h11m2 0h4m3 0h11m5 0h3m1 0h6m2 0h3m3 0h10m1 0h10m3 0h29m1 0h5M1122 261h3m7 0h3m3 0h3m8 0h4m15 0h3m2 0h3m5 0h6m12 0h3m3 0h6m1 0h3m2 0h3m5 0h4m1 0h3m1 0h4m5 0h3m1 0h3m6 0h5m1 0h6m7 0h12m4 0h3m3 0h10m2 0h4m4 0h4m4 0h28m1 0h14m2 0h5m6 0h6m1 0h5m1 0h7m1 0h6m1 0h3m5 0h9m1 0h31m1 0h4m6 0h8m1 0h3M1112 262h3m5 0h3m9 0h9m4 0h3m1 0h6m3 0h5m1 0h3m7 0h4m4 0h5m9 0h10m3 0h5m4 0h3m2 0h4m4 0h5m4 0h3m5 0h5m7 0h3m3 0h9m1 0h8m8 0h3m2 0h3m4 0h4m8 0h3m5 0h8m4 0h3m3 0h4m3 0h3m1 0h9m2 0h8m1 0h3m6 0h3m1 0h5m1 0h11m3 0h3m1 0h3m3 0h14m1 0h14m3 0h18m2 0h11M1125 263h3m8 0h3m14 0h10m2 0h7m3 0h3m5 0h9m6 0h3m3 0h3m11 0h4m2 0h6m5 0h11m2 0h7m6 0h8m1 0h3m8 0h7m1 0h4m6 0h17m1 0h3m1 0h3m3 0h10m1 0h4m6 0h17m2 0h23m1 0h12m3 0h12m10 0h8m1 0h9m1 0h6m1 0h7m3 0h10m2 0h3M1129 264h3m2 0h5m2 0h5m15 0h3m6 0h5m15 0h3m7 0h4m1 0h6m10 0h3m5 0h3m11 0h3m1 0h6m8 0h8m5 0h10m4 0h6m1 0h5m1 0h13m2 0h3m2 0h3m3 0h14m9 0h3m2 0h5m1 0h3m8 0h10m1 0h4m2 0h15m1 0h3m4 0h16m2 0h24m2 0h19m3 0h3M1131 265h3m3 0h3m10 0h5m10 0h3m4 0h8m1 0h3m1 0h3m2 0h3m2 0h3m4 0h8m1 0h5m1 0h3m10 0h7m2 0h7m1 0h5m1 0h4m2 0h16m6 0h5m2 0h4m1 0h3m3 0h15m3 0h6m2 0h3m2 0h6m2 0h3m2 0h6m1 0h6m3 0h8m2 0h12m1 0h3m1 0h7m1 0h14m4 0h3m3 0h5m7 0h7m5 0h8m4 0h3m5 0h13m2 0h3M1138 266h3m7 0h3m15 0h3m4 0h5m1 0h3m5 0h5m1 0h4m1 0h3m5 0h3m2 0h3m1 0h3m5 0h4m2 0h6m4 0h3m5 0h3m6 0h3m1 0h3m1 0h5m1 0h9m1 0h5m6 0h8m1 0h3m1 0h3m2 0h3m2 0h7m2 0h4m2 0h8m3 0h5m1 0h6m1 0h5m6 0h10m1 0h6m4 0h23m1 0h3m3 0h3m8 0h5m5 0h9m3 0h3m2 0h15m4 0h10M1124 267h3m9 0h3m7 0h4m10 0h4m2 0h3m3 0h3m4 0h3m10 0h6m1 0h3m8 0h3m8 0h3m6 0h8m4 0h6m1 0h10m11 0h6m2 0h7m1 0h21m1 0h3m1 0h3m12 0h4m2 0h6m2 0h3m1 0h7m1 0h6m2 0h7m5 0h4m1 0h15m3 0h4m1 0h3m2 0h7m1 0h13m2 0h12m4 0h22m3 0h11M1127 268h3m3 0h8m19 0h6m2 0h5m3 0h11m3 0h6m11 0h3m2 0h11m2 0h9m1 0h10m1 0h10m2 0h3m1 0h14m4 0h9m5 0h5m13 0h12m12 0h4m5 0h5m4 0h23m2 0h6m1 0h11m1 0h4m2 0h3m2 0h8m6 0h9m1 0h25m2 0h3m3 0h10m2 0h3M1138 269h3m2 0h6m11 0h5m4 0h3m19 0h14m3 0h4m7 0h9m10 0h3m1 0h3m1 0h5m7 0h6m1 0h10m3 0h4m1 0h3m1 0h3m1 0h9m2 0h7m8 0h25m1 0h10m3 0h10m3 0h3m1 0h3m1 0h3m1 0h3m3 0h6m1 0h10m2 0h23m1 0h12m1 0h22m2 0h6m2 0h7M1119 270h3m12 0h6m6 0h3m12 0h6m2 0h3m2 0h10m1 0h3m1 0h3m7 0h5m2 0h5m2 0h8m6 0h17m2 0h3m1 0h3m3 0h5m2 0h6m11 0h5m11 0h9m4 0h4m1 0h3m1 0h3m5 0h11m2 0h13m1 0h18m7 0h4m2 0h5m3 0h10m1 0h6m4 0h14m4 0h8m3 0h3m1 0h5m3 0h12m6 0h8M1119 271h3m23 0h3m3 0h3m10 0h3m20 0h10m1 0h3m9 0h3m2 0h5m6 0h3m5 0h3m2 0h15m1 0h3m1 0h4m1 0h15m4 0h6m7 0h26m1 0h3m9 0h3m1 0h21m1 0h3m2 0h7m7 0h9m1 0h3m1 0h15m1 0h15m7 0h8m2 0h10m2 0h3m1 0h6m2 0h9M1112 272h3m24 0h3m6 0h3m3 0h3m7 0h3m2 0h5m1 0h3m1 0h3m1 0h6m1 0h3m2 0h6m1 0h4m4 0h6m1 0h3m3 0h3m2 0h6m2 0h5m10 0h12m1 0h3m4 0h6m2 0h6m5 0h3m1 0h3m3 0h4m3 0h7m1 0h6m4 0h3m5 0h3m5 0h5m4 0h19m1 0h10m1 0h14m1 0h7m2 0h6m3 0h12m2 0h3m1 0h8m2 0h3m1 0h4m6 0h4m2 0h5m1 0h12M1113 273h5m3 0h7m8 0h5m3 0h7m6 0h4m2 0h4m2 0h3m1 0h9m2 0h7m2 0h4m2 0h3m1 0h5m2 0h10m19 0h9m6 0h8m10 0h17m6 0h3m2 0h6m2 0h10m9 0h3m1 0h3m5 0h19m2 0h3m3 0h4m6 0h17m3 0h3m2 0h3m11 0h3m1 0h3m1 0h6m2 0h5m4 0h20m1 0h7m7 0h3M1140 274h3m18 0h3m5 0h4m5 0h4m7 0h6m3 0h3m2 0h3m4 0h9m3 0h4m9 0h3m8 0h5m4 0h3m2 0h3m9 0h17m1 0h13m1 0h7m2 0h5m2 0h3m1 0h9m3 0h4m2 0h16m4 0h5m3 0h11m2 0h5m1 0h3m3 0h6m6 0h6m2 0h12m4 0h6m2 0h3m7 0h9m1 0h8m1 0h3m1 0h8M1139 275h5m3 0h7m1 0h16m9 0h3m1 0h4m3 0h3m6 0h6m1 0h3m7 0h6m2 0h4m3 0h3m2 0h3m6 0h14m3 0h6m1 0h8m4 0h4m2 0h3m2 0h3m1 0h6m6 0h7m1 0h10m4 0h3m6 0h14m2 0h11m5 0h3m1 0h6m3 0h8m1 0h11m1 0h3m1 0h8m3 0h6m3 0h12m1 0h6m3 0h7m6 0h14M1129 276h3m16 0h10m9 0h3m15 0h3m1 0h9m1 0h3m22 0h4m2 0h3m1 0h3m3 0h13m1 0h10m2 0h3m3 0h3m2 0h3m5 0h10m5 0h4m8 0h10m12 0h5m8 0h3m1 0h3m3 0h4m3 0h10m2 0h3m7 0h5m2 0h9m6 0h5m7 0h11m3 0h4m2 0h13m2 0h3m2 0h3m4 0h11m1 0h3M1119 277h3m7 0h6m8 0h5m3 0h3m7 0h3m3 0h3m2 0h6m5 0h3m3 0h21m2 0h3m3 0h5m2 0h3m3 0h3m4 0h15m6 0h3m1 0h3m4 0h3m2 0h9m1 0h3m12 0h3m1 0h3m2 0h4m8 0h4m4 0h9m4 0h4m1 0h3m2 0h3m1 0h3m2 0h22m7 0h5m1 0h11m2 0h17m3 0h18m1 0h14m5 0h3m1 0h8M1126 278h3m11 0h6m3 0h3m1 0h4m12 0h3m1 0h4m5 0h3m2 0h6m11 0h3m1 0h3m2 0h3m4 0h7m2 0h18m5 0h3m3 0h3m1 0h4m1 0h3m2 0h8m3 0h14m5 0h3m1 0h4m1 0h3m3 0h6m2 0h3m7 0h7m1 0h7m3 0h20m7 0h6m2 0h5m1 0h6m2 0h3m4 0h5m1 0h9m4 0h3m2 0h3m3 0h4m1 0h3m1 0h9m1 0h9m6 0h8M1127 279h3m17 0h3m8 0h6m7 0h3m13 0h5m4 0h4m3 0h3m6 0h4m2 0h4m1 0h3m4 0h3m6 0h6m8 0h6m3 0h3m2 0h3m18 0h3m6 0h3m1 0h3m10 0h3m4 0h10m2 0h3m2 0h3m14 0h4m1 0h3m1 0h3m2 0h11m2 0h12m1 0h3m1 0h7m1 0h6m1 0h9m3 0h13m5 0h19m1 0h3m4 0h5m2 0h3M1141 280h3m21 0h3m2 0h3m1 0h3m1 0h8m3 0h12m1 0h7m1 0h5m1 0h3m5 0h4m1 0h3m6 0h3m4 0h5m3 0h6m8 0h3m10 0h11m2 0h3m1 0h3m5 0h11m1 0h13m3 0h4m2 0h5m1 0h7m6 0h7m6 0h22m4 0h17m1 0h4m1 0h5m6 0h10m1 0h4m2 0h10m2 0h7m4 0h6M1126 281h3m16 0h5m3 0h3m2 0h3m7 0h6m12 0h5m6 0h3m7 0h3m2 0h7m5 0h12m14 0h3m5 0h5m7 0h9m1 0h3m1 0h3m2 0h20m1 0h4m4 0h9m4 0h17m4 0h8m5 0h4m1 0h5m1 0h9m1 0h3m1 0h12m8 0h8m1 0h7m2 0h16m3 0h4m1 0h3m1 0h7m1 0h9m1 0h8M1125 282h9m1 0h3m1 0h3m8 0h3m10 0h3m1 0h3m5 0h4m2 0h3m1 0h3m19 0h3m18 0h3m6 0h12m2 0h6m6 0h10m7 0h6m2 0h10m9 0h7m2 0h4m5 0h3m1 0h6m1 0h8m10 0h8m1 0h6m2 0h3m3 0h6m1 0h3m2 0h6m7 0h4m1 0h6m3 0h3m3 0h4m2 0h6m4 0h8m2 0h4m4 0h13m3 0h6M1113 283h3m32 0h3m1 0h3m3 0h3m4 0h16m7 0h9m9 0h3m3 0h9m3 0h3m1 0h5m3 0h21m10 0h5m5 0h3m4 0h4m2 0h7m2 0h4m2 0h3m4 0h4m1 0h23m1 0h6m2 0h6m7 0h3m1 0h6m3 0h3m8 0h6m3 0h4m4 0h4m2 0h5m6 0h17m2 0h8m2 0h3m2 0h3m2 0h3m2 0h6m2 0h3m1 0h6M1139 284h3m35 0h6m4 0h3m2 0h3m7 0h5m6 0h9m3 0h3m3 0h3m4 0h3m2 0h4m5 0h4m6 0h3m11 0h4m6 0h3m3 0h12m2 0h10m1 0h6m1 0h9m1 0h5m1 0h3m3 0h4m1 0h3m1 0h17m2 0h5m3 0h3m4 0h5m1 0h12m1 0h5m1 0h15m3 0h10m3 0h7m2 0h4m4 0h7m1 0h12M1170 285h7m5 0h8m10 0h5m2 0h4m1 0h3m2 0h3m9 0h5m1 0h5m4 0h7m4 0h3m1 0h3m13 0h5m4 0h5m1 0h4m1 0h3m3 0h3m1 0h6m3 0h4m1 0h7m1 0h5m4 0h7m1 0h3m1 0h3m3 0h13m8 0h3m1 0h5m3 0h7m2 0h3m8 0h3m1 0h8m3 0h3m1 0h3m2 0h3m9 0h11m2 0h3m1 0h4m4 0h14M1168 286h3m12 0h10m2 0h5m5 0h6m6 0h6m6 0h3m3 0h14m3 0h5m3 0h3m2 0h4m1 0h5m4 0h3m2 0h3m6 0h7m1 0h7m8 0h6m1 0h3m4 0h3m6 0h3m1 0h3m1 0h14m9 0h18m1 0h10m1 0h6m2 0h3m5 0h18m3 0h18m4 0h13m2 0h7M1114 287h3m19 0h3m19 0h6m7 0h3m3 0h3m4 0h7m4 0h3m3 0h3m4 0h6m10 0h5m13 0h3m1 0h3m1 0h4m12 0h3m2 0h5m2 0h16m1 0h7m3 0h12m4 0h5m2 0h9m7 0h6m3 0h3m1 0h26m1 0h7m2 0h4m7 0h9m2 0h16m4 0h4m3 0h15m1 0h3m1 0h6m7 0h3M1136 288h3m28 0h3m9 0h3m5 0h5m1 0h4m4 0h6m5 0h9m4 0h3m2 0h6m1 0h6m1 0h5m4 0h5m5 0h3m1 0h5m3 0h14m4 0h3m1 0h5m5 0h3m1 0h6m1 0h4m1 0h14m10 0h3m3 0h7m2 0h9m3 0h6m2 0h6m19 0h7m3 0h18m2 0h12m6 0h3m1 0h8m1 0h4m1 0h3m2 0h3M1133 289h3m4 0h3m4 0h3m1 0h7m1 0h3m4 0h6m5 0h5m4 0h4m1 0h3m9 0h3m8 0h3m3 0h3m3 0h8m1 0h4m14 0h3m1 0h3m1 0h3m1 0h11m1 0h3m6 0h10m8 0h3m7 0h3m3 0h8m1 0h3m3 0h9m2 0h3m5 0h6m5 0h15m1 0h4m2 0h6m2 0h8m3 0h12m4 0h7m2 0h16m4 0h3m1 0h4m2 0h16M1133 290h3m8 0h3m2 0h3m16 0h3m5 0h3m2 0h3m6 0h8m1 0h4m4 0h5m2 0h3m4 0h7m13 0h3m1 0h3m2 0h11m1 0h14m4 0h5m5 0h5m4 0h5m1 0h3m2 0h6m6 0h7m15 0h3m7 0h5m5 0h19m1 0h3m1 0h5m1 0h6m2 0h21m1 0h5m1 0h9m2 0h12m1 0h3m1 0h3m4 0h13M1137 291h3m6 0h3m3 0h3m10 0h3m8 0h4m2 0h3m4 0h3m1 0h4m1 0h3m8 0h3m1 0h7m1 0h5m5 0h7m8 0h3m12 0h6m11 0h6m2 0h6m1 0h8m3 0h3m1 0h3m4 0h11m1 0h8m2 0h6m3 0h4m1 0h5m3 0h4m2 0h5m1 0h17m1 0h13m5 0h10m1 0h8m5 0h3m1 0h16m2 0h4m2 0h3m1 0h3m4 0h7M1126 292h3m3 0h3m1 0h3m9 0h3m5 0h4m3 0h6m5 0h3m6 0h3m8 0h5m1 0h5m1 0h3m14 0h3m3 0h5m2 0h4m5 0h5m5 0h3m3 0h6m1 0h4m7 0h3m3 0h5m1 0h9m6 0h9m6 0h3m3 0h3m2 0h5m3 0h3m2 0h5m1 0h3m1 0h6m2 0h5m1 0h8m5 0h6m1 0h6m4 0h17m1 0h3m7 0h17m4 0h10m1 0h21M1116 293h3m29 0h3m1 0h3m2 0h3m3 0h5m1 0h6m8 0h3m2 0h21m5 0h3m5 0h3m2 0h3m8 0h3m7 0h8m4 0h5m1 0h7m4 0h5m3 0h4m3 0h11m4 0h5m2 0h6m6 0h9m26 0h7m9 0h3m4 0h4m7 0h3m3 0h7m3 0h24m1 0h3m6 0h6m3 0h4m2 0h3m2 0h8m2 0h6M1149 294h3m29 0h6m2 0h5m5 0h6m3 0h6m5 0h3m3 0h3m3 0h3m4 0h3m2 0h5m5 0h3m3 0h3m2 0h3m4 0h3m1 0h3m1 0h3m1 0h5m6 0h3m2 0h3m4 0h3m1 0h5m3 0h3m3 0h9m3 0h5m3 0h6m5 0h7m5 0h3m2 0h3m2 0h3m1 0h3m6 0h3m9 0h3m1 0h3m2 0h11m1 0h6m3 0h7m3 0h6m3 0h7m4 0h3m2 0h3m2 0h8M1167 295h4m8 0h11m5 0h4m1 0h3m5 0h3m3 0h3m1 0h4m3 0h3m3 0h5m8 0h7m1 0h6m1 0h4m6 0h10m6 0h15m3 0h3m2 0h12m6 0h3m1 0h3m1 0h3m4 0h4m9 0h3m5 0h12m1 0h4m3 0h5m2 0h8m10 0h4m3 0h8m1 0h8m3 0h6m1 0h3m1 0h3m3 0h3m2 0h3m1 0h3m4 0h8m2 0h4M1137 296h3m17 0h7m3 0h3m9 0h3m3 0h5m2 0h3m3 0h4m4 0h6m2 0h10m3 0h3m1 0h10m5 0h3m1 0h8m15 0h3m1 0h3m1 0h4m2 0h3m2 0h12m1 0h10m1 0h3m2 0h6m4 0h3m2 0h6m1 0h3m1 0h3m5 0h14m5 0h4m4 0h3m1 0h7m5 0h4m2 0h4m4 0h7m1 0h3m1 0h3m1 0h9m4 0h6m2 0h3m1 0h3m1 0h10m2 0h7m1 0h5M1109 297h3m39 0h4m1 0h12m12 0h6m4 0h3m3 0h3m2 0h6m8 0h4m1 0h3m10 0h3m6 0h6m1 0h3m1 0h5m8 0h4m1 0h3m4 0h5m1 0h3m1 0h4m1 0h5m3 0h6m4 0h3m1 0h5m8 0h13m1 0h7m5 0h3m1 0h3m2 0h3m1 0h5m1 0h8m2 0h18m3 0h8m3 0h5m4 0h3m1 0h7m1 0h6m1 0h10m5 0h4m2 0h9M1121 298h3m17 0h3m12 0h3m4 0h6m1 0h3m4 0h5m4 0h4m12 0h3m7 0h3m9 0h4m7 0h3m12 0h3m1 0h4m1 0h7m7 0h3m2 0h4m2 0h4m4 0h8m3 0h6m4 0h5m4 0h4m8 0h3m2 0h5m9 0h3m3 0h20m1 0h6m2 0h3m1 0h3m6 0h5m2 0h9m1 0h9m16 0h6m2 0h3m1 0h6m1 0h11m2 0h3M1137 299h3m15 0h3m1 0h6m17 0h6m8 0h6m7 0h3m1 0h9m6 0h5m1 0h3m8 0h3m4 0h5m1 0h4m3 0h3m7 0h10m1 0h5m2 0h7m3 0h3m1 0h11m1 0h3m6 0h4m1 0h3m2 0h17m2 0h7m3 0h6m8 0h5m5 0h7m13 0h4m7 0h10m8 0h6m3 0h3m2 0h11m3 0h10M1162 300h3m16 0h10m5 0h5m2 0h4m6 0h4m2 0h4m4 0h3m8 0h4m2 0h3m1 0h4m2 0h7m7 0h6m4 0h3m2 0h5m3 0h10m1 0h4m6 0h3m3 0h5m2 0h5m6 0h8m1 0h3m5 0h16m1 0h10m4 0h4m5 0h11m1 0h3m3 0h9m3 0h3m1 0h10m2 0h7m2 0h8m7 0h6m2 0h10M1144 301h3m7 0h3m5 0h3m3 0h3m2 0h3m9 0h3m4 0h6m4 0h8m7 0h3m9 0h3m4 0h9m6 0h7m1 0h3m3 0h5m7 0h9m6 0h6m3 0h4m1 0h6m6 0h3m6 0h4m11 0h8m7 0h6m5 0h9m1 0h8m3 0h5m3 0h3m3 0h7m4 0h3m1 0h4m3 0h14m5 0h3m1 0h8m1 0h11m4 0h4m2 0h4M1141 302h6m18 0h3m10 0h3m5 0h3m6 0h6m8 0h5m2 0h3m6 0h3m1 0h3m6 0h3m1 0h3m6 0h5m4 0h7m2 0h12m5 0h3m5 0h3m12 0h3m5 0h3m5 0h5m2 0h8m1 0h9m3 0h7m1 0h5m3 0h6m1 0h6m4 0h3m2 0h3m1 0h3m3 0h4m14 0h3m1 0h5m1 0h3m4 0h3m1 0h15m4 0h15m4 0h3M1124 303h3m8 0h3m4 0h3m1 0h3m19 0h3m20 0h4m4 0h12m4 0h3m2 0h5m5 0h3m9 0h3m2 0h9m1 0h5m5 0h3m12 0h3m1 0h6m1 0h5m2 0h6m2 0h3m1 0h8m6 0h5m2 0h6m2 0h4m2 0h9m1 0h3m7 0h3m2 0h10m1 0h7m4 0h3m1 0h3m13 0h3m6 0h3m5 0h16m4 0h4m1 0h3m4 0h3m13 0h3M1144 304h3m16 0h3m18 0h5m2 0h6m1 0h5m8 0h3m9 0h3m5 0h6m5 0h6m4 0h3m9 0h10m2 0h9m2 0h3m6 0h4m7 0h8m3 0h3m13 0h14m9 0h3m2 0h6m7 0h4m1 0h8m2 0h8m2 0h3m8 0h3m3 0h6m3 0h5m2 0h7m12 0h3m3 0h3m1 0h3m1 0h6m5 0h3M1172 305h5m9 0h3m5 0h4m4 0h4m1 0h3m2 0h3m4 0h3m2 0h6m5 0h3m3 0h3m4 0h5m2 0h9m1 0h6m3 0h3m14 0h3m3 0h3m3 0h8m2 0h3m2 0h3m1 0h16m2 0h4m1 0h8m1 0h5m1 0h4m6 0h4m3 0h6m4 0h6m6 0h3m3 0h15m1 0h5m1 0h13m1 0h3m3 0h3m4 0h3m1 0h5m2 0h3m1 0h13M1126 306h3m10 0h3m16 0h5m2 0h3m1 0h3m4 0h3m4 0h3m13 0h3m11 0h5m1 0h3m5 0h3m4 0h3m2 0h3m4 0h6m1 0h6m2 0h6m14 0h3m14 0h4m17 0h3m1 0h3m3 0h3m5 0h8m1 0h4m5 0h15m2 0h7m3 0h5m3 0h9m3 0h3m9 0h3m2 0h9m3 0h3m3 0h3m6 0h4m2 0h5m3 0h8m3 0h10M1129 307h6m2 0h3m17 0h3m15 0h3m2 0h3m3 0h3m5 0h3m5 0h5m7 0h3m2 0h3m2 0h3m5 0h13m10 0h5m11 0h3m1 0h3m6 0h9m3 0h3m9 0h3m3 0h6m13 0h8m3 0h5m1 0h5m12 0h8m19 0h9m4 0h12m6 0h5m7 0h6m1 0h6m3 0h3m2 0h4m1 0h8m2 0h8M1163 308h3m4 0h3m2 0h3m3 0h7m9 0h3m1 0h3m2 0h3m5 0h4m5 0h3m2 0h3m5 0h3m1 0h4m11 0h3m1 0h3m5 0h3m7 0h5m7 0h11m11 0h3m2 0h4m3 0h9m8 0h4m8 0h5m6 0h3m4 0h7m2 0h5m1 0h3m3 0h6m4 0h3m1 0h8m9 0h9m4 0h3m1 0h8m2 0h4m3 0h4m3 0h4m2 0h3m2 0h4m1 0h3M1147 309h3m12 0h3m3 0h3m3 0h3m2 0h3m8 0h5m3 0h3m1 0h5m10 0h3m26 0h6m12 0h8m17 0h3m6 0h4m5 0h3m5 0h3m5 0h6m1 0h4m4 0h3m2 0h3m8 0h3m3 0h17m10 0h7m4 0h7m2 0h6m2 0h7m6 0h3m1 0h4m3 0h5m1 0h3m1 0h5m6 0h10m5 0h4M1130 310h5m8 0h3m26 0h3m2 0h3m2 0h3m6 0h6m8 0h5m15 0h5m1 0h8m1 0h3m4 0h6m3 0h3m5 0h3m3 0h6m2 0h4m3 0h3m10 0h3m4 0h3m6 0h3m5 0h11m2 0h3m1 0h5m1 0h16m5 0h10m2 0h5m8 0h3m4 0h3m5 0h3m2 0h7m5 0h3m2 0h7m5 0h9m1 0h3m1 0h3m2 0h3m13 0h6M1134 311h3m31 0h3m8 0h4m5 0h3m23 0h3m4 0h4m8 0h6m7 0h14m7 0h7m1 0h3m1 0h3m12 0h9m7 0h9m6 0h3m1 0h3m11 0h11m1 0h3m1 0h6m2 0h3m1 0h5m4 0h4m1 0h3m2 0h3m5 0h3m6 0h10m4 0h3m1 0h3m2 0h3m2 0h5m7 0h7m3 0h14M1147 312h3m25 0h3m11 0h3m21 0h5m15 0h3m2 0h7m2 0h3m3 0h3m2 0h3m1 0h3m19 0h3m3 0h7m8 0h3m4 0h6m6 0h6m3 0h3m4 0h8m1 0h4m4 0h4m1 0h6m1 0h3m2 0h3m3 0h6m2 0h3m2 0h6m1 0h3m4 0h3m1 0h4m2 0h6m5 0h7m11 0h3m2 0h3m3 0h3m1 0h8m1 0h4m1 0h3M1149 313h3m9 0h5m5 0h3m10 0h3m7 0h3m6 0h3m15 0h4m7 0h3m7 0h3m2 0h3m8 0h3m1 0h3m2 0h3m4 0h5m2 0h3m3 0h8m1 0h4m5 0h3m15 0h6m9 0h4m2 0h4m4 0h8m5 0h4m3 0h3m6 0h3m2 0h6m1 0h3m3 0h4m1 0h3m25 0h14m10 0h5m2 0h3m2 0h3m5 0h5M1148 314h3m31 0h3m8 0h3m1 0h3m5 0h6m1 0h3m12 0h9m6 0h7m10 0h3m1 0h8m6 0h3m3 0h3m14 0h3m2 0h4m6 0h8m22 0h4m10 0h7m3 0h8m2 0h3m2 0h3m6 0h6m3 0h4m2 0h5m3 0h3m2 0h3m2 0h8m7 0h3m5 0h11m1 0h12m4 0h4M1114 315h3m36 0h3m26 0h3m46 0h4m1 0h3m2 0h4m1 0h3m4 0h3m5 0h6m4 0h17m1 0h3m6 0h3m1 0h3m10 0h3m2 0h3m2 0h3m1 0h4m2 0h4m9 0h3m1 0h3m5 0h7m13 0h11m2 0h4m3 0h5m1 0h6m7 0h5m1 0h3m5 0h6m3 0h3m2 0h16m1 0h5m1 0h7M1131 316h3m25 0h3m13 0h3m3 0h5m16 0h7m13 0h5m1 0h3m5 0h3m38 0h3m1 0h3m2 0h3m4 0h3m6 0h8m1 0h3m1 0h3m16 0h5m1 0h3m1 0h8m10 0h7m2 0h3m6 0h3m6 0h3m6 0h4m12 0h3m1 0h3m3 0h3m3 0h3m1 0h6m4 0h3m5 0h3m2 0h5m2 0h5m4 0h3M1133 317h3m17 0h3m9 0h3m16 0h3m7 0h4m14 0h3m7 0h3m5 0h3m12 0h6m17 0h4m9 0h8m2 0h6m1 0h3m3 0h4m2 0h3m1 0h4m2 0h3m7 0h3m1 0h3m2 0h4m7 0h6m1 0h3m1 0h4m4 0h9m3 0h5m1 0h5m4 0h4m5 0h3m1 0h3m1 0h3m3 0h10m2 0h4m4 0h4m1 0h19m1 0h7m2 0h4M1173 318h3m6 0h3m9 0h6m2 0h3m4 0h3m2 0h3m2 0h5m1 0h3m7 0h3m8 0h3m1 0h4m19 0h3m5 0h3m2 0h3m2 0h5m28 0h3m4 0h5m1 0h3m3 0h3m1 0h3m8 0h6m2 0h6m7 0h3m5 0h7m1 0h9m2 0h3m14 0h3m10 0h17m1 0h3m5 0h6m3 0h5m1 0h4M1153 319h3m14 0h3m8 0h3m14 0h3m4 0h6m3 0h3m7 0h3m1 0h3m4 0h7m3 0h4m16 0h3m5 0h3m5 0h3m1 0h8m3 0h5m13 0h3m21 0h3m2 0h6m1 0h3m1 0h3m1 0h3m1 0h3m1 0h4m3 0h12m1 0h3m2 0h3m6 0h4m1 0h7m2 0h28m3 0h6m6 0h3m5 0h7m1 0h3m1 0h3M1157 320h3m1 0h3m9 0h3m5 0h3m7 0h3m15 0h6m16 0h3m1 0h3m5 0h5m5 0h12m12 0h3m7 0h5m2 0h3m5 0h3m5 0h4m8 0h3m2 0h4m10 0h3m6 0h6m5 0h3m5 0h13m6 0h7m17 0h4m5 0h6m7 0h3m4 0h4m2 0h5m2 0h3m5 0h7m2 0h7M1153 321h3m4 0h3m4 0h5m11 0h3m2 0h3m8 0h3m5 0h6m5 0h8m1 0h6m1 0h3m1 0h7m4 0h3m2 0h4m9 0h6m11 0h7m2 0h3m17 0h3m1 0h3m6 0h3m1 0h3m5 0h3m1 0h3m2 0h3m13 0h6m1 0h6m1 0h6m8 0h3m3 0h3m1 0h3m4 0h4m3 0h3m2 0h9m1 0h3m2 0h7m6 0h3m4 0h6m5 0h10M1193 322h3m10 0h3m1 0h7m9 0h8m14 0h3m6 0h3m6 0h3m7 0h3m2 0h3m6 0h5m1 0h9m11 0h4m8 0h3m4 0h3m2 0h3m14 0h6m2 0h8m2 0h3m1 0h5m2 0h16m2 0h3m3 0h6m1 0h7m2 0h12m2 0h3m7 0h5m7 0h12M1135 323h3m8 0h3m1 0h3m24 0h3m7 0h3m11 0h3m2 0h3m8 0h6m11 0h3m17 0h3m7 0h3m5 0h6m5 0h4m1 0h3m2 0h3m1 0h5m7 0h3m7 0h3m6 0h3m2 0h14m1 0h5m1 0h3m5 0h3m4 0h8m10 0h5m1 0h3m3 0h3m6 0h9m11 0h3m4 0h3m4 0h7m2 0h4m8 0h3m5 0h3m1 0h3M1141 324h3m34 0h5m1 0h3m1 0h4m2 0h3m34 0h3m19 0h3m4 0h3m2 0h3m12 0h5m18 0h3m7 0h6m1 0h5m8 0h4m10 0h9m1 0h5m4 0h3m10 0h3m15 0h5m4 0h3m11 0h3m5 0h10m1 0h3m1 0h3m3 0h4m1 0h3m1 0h4m1 0h6m2 0h3m4 0h3M1136 325h3m15 0h3m28 0h3m25 0h3m2 0h3m1 0h3m4 0h4m9 0h7m6 0h3m1 0h3m7 0h3m18 0h3m1 0h3m1 0h3m4 0h4m3 0h3m7 0h3m11 0h3m5 0h3m15 0h4m3 0h3m6 0h3m1 0h5m3 0h5m23 0h6m8 0h3m2 0h9m1 0h6m3 0h3m4 0h17M1136 326h3m44 0h3m27 0h3m12 0h7m8 0h6m1 0h3m17 0h3m6 0h5m1 0h3m4 0h3m1 0h3m2 0h3m13 0h3m25 0h4m7 0h5m7 0h3m5 0h6m13 0h3m6 0h3m9 0h3m8 0h5m20 0h12m3 0h3m1 0h3m2 0h4M1141 327h3m12 0h3m13 0h6m13 0h3m10 0h3m6 0h3m2 0h3m15 0h3m1 0h3m1 0h10m2 0h9m3 0h3m3 0h8m1 0h3m3 0h8m5 0h9m4 0h3m6 0h3m3 0h5m1 0h3m2 0h8m16 0h3m4 0h3m5 0h5m13 0h6m5 0h9m9 0h10m5 0h5m1 0h3m1 0h7m1 0h3m3 0h6m3 0h7M1159 328h3m11 0h3m9 0h3m13 0h3m18 0h8m4 0h3m8 0h4m22 0h4m19 0h3m1 0h3m9 0h3m1 0h5m5 0h3m1 0h3m3 0h13m6 0h3m9 0h3m2 0h3m3 0h4m4 0h4m1 0h4m1 0h5m9 0h13m7 0h4m3 0h3m4 0h8m6 0h6m2 0h3m8 0h3M1160 329h3m5 0h3m3 0h3m9 0h3m1 0h3m28 0h6m2 0h6m21 0h4m17 0h3m1 0h3m6 0h3m3 0h3m2 0h3m17 0h6m3 0h3m2 0h3m4 0h3m6 0h3m2 0h3m6 0h3m4 0h4m11 0h3m6 0h6m6 0h6m1 0h6m1 0h4m3 0h5m2 0h6m18 0h3m6 0h5m1 0h3M1168 330h5m17 0h5m2 0h3m7 0h3m10 0h3m16 0h3m4 0h5m11 0h3m2 0h3m3 0h3m11 0h3m7 0h4m8 0h3m3 0h3m5 0h3m27 0h5m3 0h3m1 0h3m3 0h3m10 0h3m12 0h3m15 0h3m6 0h5m3 0h3m1 0h3m1 0h3m4 0h3m1 0h6m1 0h3m2 0h3m2 0h4m3 0h5M1156 331h3m2 0h3m24 0h3m5 0h3m1 0h3m22 0h3m11 0h5m4 0h3m19 0h3m4 0h3m1 0h7m2 0h3m34 0h3m6 0h3m18 0h3m5 0h3m5 0h3m2 0h3m1 0h3m22 0h3m3 0h6m4 0h6m2 0h6m4 0h3m6 0h3m3 0h9m5 0h5m1 0h3M1190 332h3m11 0h3m8 0h3m15 0h3m5 0h9m12 0h5m2 0h11m3 0h3m9 0h3m7 0h6m2 0h3m9 0h3m23 0h3m2 0h3m11 0h6m2 0h3m2 0h3m12 0h3m10 0h6m2 0h6m2 0h3m3 0h9m6 0h7m1 0h3m5 0h3m1 0h3M1187 333h3m10 0h5m13 0h3m1 0h3m5 0h3m7 0h3m9 0h5m1 0h3m3 0h3m4 0h4m12 0h4m2 0h3m8 0h3m11 0h3m12 0h3m4 0h3m3 0h3m16 0h18m1 0h8m1 0h5m4 0h3m1 0h3m1 0h3m1 0h3m2 0h5m2 0h6m7 0h3m5 0h6m5 0h3m3 0h3m7 0h4m1 0h3M1160 334h3m37 0h3m3 0h3m17 0h3m1 0h3m5 0h6m1 0h3m7 0h5m3 0h5m28 0h7m9 0h3m8 0h3m7 0h3m2 0h3m11 0h4m2 0h3m5 0h3m4 0h4m3 0h3m8 0h3m1 0h3m11 0h3m5 0h4m12 0h3m6 0h7m10 0h3m3 0h3m3 0h3m1 0h3M1161 335h3m28 0h3m18 0h3m3 0h3m9 0h3m20 0h3m20 0h3m1 0h3m3 0h3m14 0h5m18 0h3m4 0h6m4 0h6m2 0h3m3 0h4m5 0h3m5 0h3m6 0h9m2 0h4m4 0h5m6 0h3m7 0h13m5 0h3m2 0h3m4 0h3m7 0h3m3 0h6M1148 336h3m3 0h3m14 0h3m4 0h3m2 0h3m46 0h5m5 0h3m1 0h3m13 0h3m2 0h3m5 0h3m14 0h3m14 0h3m6 0h3m8 0h3m24 0h3m9 0h8m6 0h3m2 0h3m25 0h3m4 0h3m1 0h5m21 0h6m2 0h6m11 0h4M1179 337h3m2 0h3m6 0h3m16 0h3m16 0h3m20 0h3m15 0h3m5 0h3m13 0h3m6 0h3m8 0h10m16 0h9m2 0h3m9 0h3m10 0h6m14 0h3m3 0h3m16 0h5m3 0h10m6 0h3m7 0h3m2 0h7M1169 338h3m6 0h3m21 0h3m8 0h3m11 0h3m7 0h6m3 0h3m3 0h5m1 0h3m6 0h5m4 0h3m13 0h4m9 0h5m14 0h5m14 0h4m7 0h3m13 0h5m14 0h5m19 0h5m5 0h10m6 0h6m3 0h4m4 0h3m5 0h8m1 0h3M1198 339h3m4 0h3m9 0h3m22 0h3m3 0h3m4 0h3m1 0h3m13 0h3m16 0h3m3 0h3m13 0h7m9 0h3m11 0h3m1 0h3m7 0h3m8 0h3m15 0h3m15 0h3m14 0h6m1 0h3m1 0h4m4 0h3m22 0h7M1178 340h3m9 0h3m7 0h3m3 0h3m2 0h3m17 0h3m4 0h3m5 0h7m31 0h3m8 0h4m15 0h3m22 0h3m6 0h4m8 0h5m11 0h3m1 0h8m3 0h6m9 0h3m10 0h9m1 0h4m18 0h5m2 0h3m7 0h3m5 0h3M1179 341h3m20 0h6m10 0h3m3 0h3m46 0h6m16 0h3m8 0h3m20 0h3m1 0h3m1 0h3m18 0h6m9 0h3m5 0h3m7 0h6m3 0h3m15 0h5m1 0h3m8 0h3m10 0h3m6 0h3m12 0h6M1160 342h3m27 0h3m30 0h3m1 0h3m9 0h3m16 0h3m6 0h5m7 0h3m4 0h3m2 0h6m43 0h5m5 0h3m1 0h3m2 0h3m4 0h3m17 0h3m12 0h3m13 0h6m7 0h3m10 0h6m4 0h9m16 0h3M1167 343h3m27 0h5m33 0h3m31 0h3m5 0h5m9 0h3m25 0h3m12 0h3m4 0h3m1 0h6m6 0h3m14 0h3m3 0h3m11 0h3m22 0h5m10 0h5m5 0h3m3 0h5m4 0h7m2 0h4M1197 344h3m7 0h3m25 0h3m27 0h3m10 0h3m9 0h3m4 0h4m21 0h8m17 0h3m23 0h3m3 0h4m8 0h3m25 0h10m29 0h6m5 0h7M1184 345h3m20 0h3m8 0h3m5 0h4m11 0h4m7 0h3m4 0h3m16 0h6m18 0h3m8 0h3m5 0h3m5 0h3m18 0h3m2 0h6m2 0h3m14 0h8m1 0h3m3 0h3m3 0h3m3 0h5m14 0h8m29 0h3m5 0h9M1227 346h7m34 0h3m2 0h3m37 0h4m3 0h3m10 0h5m5 0h4m1 0h4m3 0h3m13 0h3m10 0h3m1 0h4m9 0h3m3 0h3m1 0h4m18 0h6m4 0h3m6 0h3m3 0h3m1 0h3m13 0h3M1222 347h4m10 0h3m48 0h7m1 0h3m37 0h3m28 0h3m19 0h4m24 0h3m4 0h3m2 0h3m3 0h3m3 0h3m3 0h3m7 0h3m4 0h3M1171 348h3m14 0h3m2 0h3m25 0h3m22 0h3m5 0h3m1 0h3m7 0h3m5 0h4m2 0h3m17 0h3m10 0h3m8 0h3m17 0h5m15 0h4m24 0h8m6 0h3m11 0h3m4 0h5m19 0h3m3 0h3m1 0h6m9 0h3M1165 349h6m82 0h4m24 0h6m21 0h3m23 0h3m1 0h3m13 0h8m24 0h3m4 0h3m7 0h3m6 0h5m7 0h7m3 0h3m8 0h3m1 0h19m1 0h3m3 0h3M1144 350h3m91 0h3m8 0h3m26 0h3m63 0h3m2 0h4m16 0h3m5 0h3m4 0h3m6 0h3m1 0h6m6 0h5m3 0h3m6 0h5m4 0h3m4 0h3m4 0h3m14 0h5M1146 351h3m54 0h3m4 0h4m8 0h3m9 0h3m5 0h3m24 0h3m35 0h3m7 0h3m1 0h3m1 0h3m5 0h3m8 0h3m4 0h3m14 0h3m12 0h4m2 0h3m11 0h3m4 0h6m9 0h3m19 0h3m4 0h6m9 0h6m2 0h3M1208 352h3m28 0h3m7 0h3m25 0h4m39 0h3m23 0h3m7 0h3m2 0h3m1 0h3m26 0h3m7 0h6m10 0h4m8 0h3m20 0h6M1191 353h3m18 0h3m27 0h3m1 0h3m10 0h3m22 0h3m2 0h3m57 0h3m5 0h3m4 0h3m11 0h3m44 0h3m6 0h3m7 0h3m6 0h3m23 0h3M1150 354h3m13 0h3m70 0h3m39 0h3m11 0h3m4 0h3m16 0h3m16 0h3m21 0h3m3 0h3m2 0h4m32 0h5m1 0h3m1 0h3m4 0h3m3 0h7m1 0h3m9 0h4m1 0h3m2 0h3m1 0h3m5 0h3M1202 355h3m15 0h4m70 0h3m32 0h3m25 0h3m19 0h4m28 0h5m2 0h6m17 0h3m16 0h3m1 0h3m6 0h3M1144 356h3m43 0h3m6 0h3m60 0h3m17 0h3m14 0h3m16 0h3m12 0h3m15 0h3m5 0h3m7 0h3m29 0h8m1 0h3m29 0h3m3 0h5m2 0h4m2 0h4m4 0h6M1289 357h3m9 0h3m16 0h3m6 0h3m23 0h3m19 0h3m7 0h5m22 0h3m28 0h4m2 0h4m2 0h5m7 0h7M1124 358h3m49 0h3m33 0h3m26 0h3m33 0h3m22 0h3m7 0h7m19 0h3m1 0h3m15 0h3m5 0h3m8 0h3m10 0h3m4 0h3m1 0h5m3 0h3m3 0h3m4 0h5m23 0h5m3 0h3m10 0h5M1225 359h3m4 0h3m20 0h3m10 0h3m15 0h6m6 0h3m10 0h3m12 0h3m24 0h3m3 0h10m8 0h3m8 0h3m16 0h4m4 0h3m2 0h3m3 0h5m9 0h3m26 0h3m5 0h3M1188 360h3m20 0h3m54 0h3m29 0h6m65 0h3m29 0h3m15 0h6m18 0h6m27 0h4M1180 361h3m85 0h3m11 0h4m13 0h3m26 0h3m1 0h5m8 0h4m28 0h3m35 0h5m1 0h3m22 0h3m11 0h3m1 0h3m3 0h3m3 0h3M1225 362h3m7 0h3m36 0h3m5 0h3m16 0h3m9 0h5m17 0h9m14 0h3m1 0h3m43 0h3m4 0h3m25 0h3m8 0h3m9 0h4m9 0h3M1176 363h3m14 0h3m50 0h3m35 0h3m57 0h3m3 0h3m13 0h3m5 0h3m25 0h7m7 0h3m6 0h3m2 0h3m7 0h4m3 0h3m3 0h3m4 0h3m1 0h5m3 0h3M1163 364h3m13 0h3m68 0h3m39 0h3m7 0h3m53 0h3m1 0h3m6 0h3m12 0h3m22 0h3m1 0h6m6 0h4m4 0h7m13 0h3m8 0h4m9 0h3M1222 365h3m93 0h3m5 0h3m8 0h8m35 0h3m4 0h3m16 0h3m36 0h3m8 0h3m17 0h3M1211 366h3m8 0h3m39 0h3m40 0h3m11 0h6m26 0h3m54 0h3m8 0h3m4 0h5m10 0h3m16 0h3m4 0h9M1239 367h3m67 0h3m71 0h3m56 0h6m4 0h7m5 0h3M1223 368h3m15 0h3m41 0h6m32 0h3m61 0h3m19 0h3m24 0h3m20 0h7m3 0h3m4 0h3M1148 369h3m19 0h3m25 0h3m9 0h3m46 0h3m37 0h3m24 0h3m2 0h3m1 0h3m27 0h3m8 0h3m26 0h3m1 0h3m9 0h3m37 0h3m1 0h3M1151 370h3m49 0h3m11 0h3m106 0h3m26 0h3m5 0h3m16 0h3m11 0h3m12 0h3m18 0h3m1 0h3m29 0h3M1266 371h3m37 0h3m53 0h3m6 0h3m26 0h3m54 0h3m7 0h3m3 0h3M1243 372h3m10 0h3m7 0h3m7 0h3m8 0h3m33 0h3m18 0h3m73 0h3m2 0h3m1 0h5m2 0h3m16 0h3M1280 373h6m36 0h3m12 0h3m20 0h3m81 0h5m2 0h3m10 0h3m8 0h3M1297 374h3m14 0h3m32 0h3m6 0h3m1 0h3m10 0h3m33 0h3m21 0h3m1 0h3m1 0h3M1281 375h6m9 0h6m19 0h3m10 0h3m18 0h6m17 0h3m10 0h3m6 0h6m3 0h3m22 0h3m28 0h3m1 0h3M1311 376h3m63 0h3M1364 377h3m27 0h3m28 0h3M1134 378h3m90 0h3m64 0h3m41 0h3m3 0h3m15 0h3m3 0h3m26 0h6m10 0h3m16 0h3m15 0h3m14 0h3M1168 379h3m13 0h3m166 0h3m36 0h3m75 0h3M1224 380h3m139 0h3m39 0h3m8 0h3m3 0h3m12 0h5m7 0h3M1217 381h3m21 0h3m58 0h3m55 0h3m51 0h3m19 0h3m4 0h3m6 0h6m1 0h3m13 0h4M1346 382h3m66 0h3m15 0h3m2 0h3m1 0h3m2 0h3M1282 383h3m131 0h3m20 0h3M1236 384h3m161 0h3m29 0h3m33 0h3M1273 385h3m137 0h3m19 0h3m15 0h3m9 0h3M1241 386h3m118 0h3m9 0h5m96 0h3M1382 387h3m6 0h3m50 0h4m28 0h3M1270 388h3m47 0h3m102 0h3m18 0h3m14 0h3M1352 389h3m28 0h3m50 0h3m12 0h4m19 0h3M1222 390h3m11 0h3m129 0h3m58 0h3m16 0h3M1173 391h3m187 0h3m87 0h3M1252 392h3m42 0h3m22 0h3m16 0h3M1407 393h3M1220 394h3m15 0h3m56 0h3m78 0h3m58 0h3M1406 395h3m36 0h3m20 0h4M1405 396h3m71 0h3M1240 397h3m20 0h3m192 0h3M1348 398h3M1354 399h3m16 0h3m88 0h3M1410 400h3m23 0h3M1266 401h3m78 0h3m67 0h3M1235 402h3m50 0h3M1469 403h3M1175 404h3m60 0h3m48 0h3m143 0h3m29 0h3M1467 406h4M1234 408h3m111 0h3m83 0h3M1429 409h3m45 0h3M1471 412h3M1296 413h3m142 0h3M1286 414h3m69 0h3M1462 415h3M1479 417h3M1305 419h3m76 0h3m78 0h3M1423 420h3M1454 424h3M1269 449h3" stroke="#f00" stroke-width="3" fill="none"/></g>
<g transform="scale(0.5)"><path d="M1057 463h8m4 0h3m4 0h3m1 0h3m1 0h3m12 0h3m272 0h3M1050 464h3m2 0h6m4 0h3m7 0h3m4 0h5m9 0h3m1 0h3m215 0h3m61 0h3m85 0h3M1055 465h4m6 0h3m10 0h3m4 0h3m4 0h10m9 0h3m19 0h3m117 0h3M1060 466h3m5 0h3m10 0h9m16 0h3m109 0h3M1060 467h6m2 0h3m2 0h4m5 0h3m7 0h6m14 0h3m332 0h3M1069 468h4m3 0h5m22 0h3m3 0h3m25 0h3m83 0h3M1052 469h3m10 0h6m4 0h3m2 0h6m19 0h3m203 0h3m4 0h3m11 0h3M1062 470h9m14 0h3m9 0h3m11 0h3m1 0h3m174 0h3M1073 471h6m23 0h3m225 0h3m143 0h3M1058 472h3m6 0h3m7 0h3m9 0h3m32 0h3m310 0h3M1054 473h3m5 0h3m11 0h4m13 0h3m5 0h3m223 0h3m49 0h3M1063 474h3m11 0h6m5 0h3m2 0h3M1053 475h3m9 0h3m4 0h5m9 0h6m3 0h4m1 0h6m1 0h3m18 0h3M1058 476h3m4 0h4m12 0h3m242 0h3m125 0h3m10 0h3m5 0h3M1066 477h3m6 0h3m2 0h3m1 0h4m7 0h5m19 0h3m207 0h3M1096 478h7m2 0h3m2 0h4m13 0h3m94 0h3m110 0h3M1061 479h3m12 0h8m5 0h4m7 0h6m4 0h4m12 0h3m67 0h3m266 0h3M1064 480h3m24 0h3m2 0h6m1 0h3m48 0h3m85 0h3M1062 481h3m7 0h4m6 0h3m2 0h3m9 0h6m11 0h6m4 0h3m144 0h3m96 0h3M1070 482h3m2 0h3m4 0h3m14 0h3m14 0h3m283 0h3M1061 483h3m1 0h3m1 0h3m14 0h6m9 0h4M1067 484h3m5 0h5m9 0h3m6 0h3m359 0h3M1062 485h5m2 0h3m6 0h3m1 0h3m22 0h3M1065 486h3m3 0h4m6 0h4m8 0h3m2 0h3m2 0h3m35 0h3m174 0h3M1065 487h3m4 0h12m11 0h5m5 0h3m12 0h3m9 0h6m76 0h3m224 0h3M1081 488h3m5 0h3m4 0h3m5 0h3m5 0h3m3 0h5m289 0h3M1064 489h3m1 0h4m2 0h8m5 0h3m2 0h4m1 0h3m6 0h3m3 0h6m20 0h3m4 0h3m169 0h3m59 0h3m73 0h8M1044 490h3m10 0h3m12 0h5m2 0h3m3 0h6m28 0h3m144 0h3m122 0h3M1058 491h3m9 0h3m16 0h3m2 0h3m2 0h3m1 0h3m53 0h3m2 0h3m46 0h3M1061 492h3m6 0h3m7 0h3m2 0h3m5 0h3m8 0h5m19 0h3m200 0h3m22 0h3m43 0h3M1061 493h3m14 0h8m2 0h7m1 0h3m5 0h3m6 0h3m6 0h3m195 0h3m15 0h3m7 0h3M1066 494h3m4 0h3m6 0h4m1 0h4m2 0h3m3 0h5m6 0h4m25 0h4m94 0h3m210 0h3m2 0h3M1065 495h3m12 0h3m22 0h3m3 0h5m197 0h3m152 0h3M1072 496h3m8 0h3m29 0h3m4 0h4m332 0h3M1050 497h3m9 0h8m11 0h3m1 0h9m3 0h3m3 0h3m16 0h5m106 0h3M1081 498h3m2 0h4m3 0h3m2 0h3m5 0h3m23 0h5m237 0h3M1066 499h3m14 0h3m2 0h3m4 0h6m12 0h3M1068 500h3m1 0h5m1 0h6m3 0h5m4 0h3m1 0h5m5 0h3m28 0h3m48 0h3m20 0h3m16 0h3m233 0h3m3 0h3M1073 501h3m7 0h9m11 0h3m6 0h3m238 0h3M1064 502h3m5 0h5m2 0h6m5 0h3m7 0h9m4 0h3m3 0h3m10 0h3m339 0h3M1064 503h3m39 0h3m53 0h3m83 0h3m168 0h3M1060 504h3m2 0h5m2 0h3m20 0h8m1 0h3m22 0h3m131 0h3m65 0h3m86 0h3m45 0h3M1073 505h3m9 0h3m1 0h5m1 0h6m3 0h6m3 0h5m135 0h4m87 0h3m124 0h3M1072 506h5m2 0h3m5 0h3m6 0h3m11 0h3m5 0h3M1066 507h3m2 0h4m2 0h3m9 0h4m4 0h4m15 0h3m24 0h3m9 0h3m61 0h3m59 0h3m132 0h3M1063 508h3m16 0h7m3 0h3m2 0h3m14 0h3m8 0h3m12 0h3m76 0h3m87 0h3m36 0h3M1094 509h3m13 0h3m2 0h5m13 0h3m52 0h3m108 0h3M1061 510h6m7 0h3m2 0h6m1 0h5m5 0h3m2 0h3m1 0h3m3 0h4m9 0h3m61 0h3M1069 511h3m1 0h3m6 0h5m3 0h7m18 0h3m13 0h3m269 0h3m38 0h3m14 0h3M1081 512h3m3 0h4m1 0h4m5 0h13m5 0h3m21 0h7m114 0h3m78 0h3m89 0h3M1057 513h3m4 0h3m3 0h3m4 0h3m12 0h7m3 0h3m1 0h6m14 0h3m237 0h3m80 0h3M1081 514h3m9 0h3m2 0h6m18 0h3m14 0h3m24 0h3m118 0h3m145 0h3m31 0h5M1064 515h3m13 0h5m3 0h4m9 0h3m1 0h5m1 0h8m13 0h3m6 0h3m1 0h3m98 0h3m47 0h3M1071 516h3m2 0h10m12 0h6m2 0h3m7 0h4m19 0h3m109 0h3m127 0h3m17 0h5m54 0h3m11 0h3M1078 517h3m6 0h4m5 0h4m2 0h3m14 0h3m15 0h3m115 0h3m135 0h3M1078 518h11m7 0h3m1 0h3m1 0h3m2 0h5m3 0h8m303 0h3m15 0h3M1065 519h4m4 0h3m1 0h4m6 0h15m3 0h5m8 0h3m11 0h3m252 0h3M1078 520h10m2 0h3m1 0h3m5 0h3m3 0h3m3 0h3m1 0h3m1 0h3m1 0h3m45 0h3m93 0h3m27 0h3M1071 521h3m8 0h6m3 0h10m2 0h9m1 0h6m107 0h3m10 0h3m187 0h3M1074 522h3m3 0h3m8 0h5m10 0h4m4 0h5m3 0h3m16 0h3m65 0h3m223 0h3M1090 523h3m1 0h7m8 0h3m2 0h3m3 0h4m4 0h3m5 0h3m88 0h3m209 0h3m15 0h3M1064 524h3m2 0h6m11 0h8m1 0h9m12 0h4m1 0h4m12 0h3m81 0h3m99 0h3m2 0h3m40 0h3m83 0h3M1078 525h6m1 0h6m4 0h6m1 0h3m11 0h3m5 0h3m29 0h3m153 0h3m27 0h3m65 0h3M1064 526h3m17 0h3m1 0h4m11 0h3m4 0h6m12 0h3m7 0h3m70 0h3m17 0h3m244 0h3M1067 527h3m1 0h3m1 0h4m1 0h3m5 0h3m10 0h9m1 0h3m3 0h3m1 0h10m4 0h3m40 0h3m199 0h3m77 0h3m3 0h3M1078 528h14m1 0h3m4 0h8m1 0h3m29 0h3m101 0h3m158 0h3m1 0h3m48 0h3M1075 529h3m1 0h3m4 0h3m12 0h3m2 0h3m4 0h5m8 0h3m4 0h6m3 0h3m3 0h3m63 0h3m18 0h3m64 0h3m32 0h3M1081 530h3m3 0h3m2 0h5m18 0h3m2 0h3m7 0h4m20 0h3m22 0h5m203 0h3m51 0h3M1077 531h3m19 0h3m6 0h3m4 0h3m4 0h3m1 0h3m8 0h3m12 0h3m130 0h3m163 0h3m22 0h3M1066 532h3m11 0h3m1 0h3m9 0h8m6 0h4m19 0h3m31 0h3m275 0h3m15 0h3M1077 533h3m3 0h3m6 0h3m1 0h3m4 0h3m11 0h5m1 0h6m1 0h5m2 0h3m212 0h3M1073 534h4m14 0h14m30 0h3m110 0h3m91 0h3m48 0h3m42 0h3m12 0h3M1077 535h3m19 0h3m3 0h3m1 0h8m5 0h3m10 0h3m41 0h3m24 0h3m19 0h3m8 0h3m34 0h3m196 0h3M1083 536h6m11 0h3m2 0h3m5 0h4m1 0h3m46 0h3M1080 537h3m7 0h3m1 0h3m5 0h3m3 0h3m11 0h3m2 0h3m37 0h3m1 0h3m174 0h3m59 0h3M1082 538h3m2 0h3m4 0h3m2 0h3m6 0h3m1 0h9m13 0h3m5 0h3m97 0h3m50 0h3m145 0h3m28 0h6M1062 539h3m17 0h9m8 0h3m1 0h9m2 0h5m11 0h3m2 0h5m27 0h3m89 0h3m19 0h3m97 0h3m68 0h3m18 0h3M1088 540h3m2 0h3m15 0h7m4 0h3m15 0h3m6 0h3m24 0h3m16 0h3m190 0h3m82 0h3M1095 541h7m3 0h3m3 0h7m2 0h3m2 0h5m64 0h3m37 0h3m14 0h3m7 0h3m80 0h3m26 0h3M1069 542h3m6 0h3m6 0h3m8 0h3m4 0h11m7 0h3m9 0h3m3 0h6m32 0h3m52 0h3m123 0h3m15 0h3m39 0h3m7 0h3m34 0h3M1087 543h3m1 0h13m1 0h14m5 0h3m3 0h9m9 0h3m276 0h3m5 0h3m30 0h3M1081 544h3m10 0h6m1 0h7m10 0h4m7 0h3m2 0h3m4 0h3m9 0h3m43 0h3m61 0h3m38 0h3m2 0h3m25 0h3m2 0h3m86 0h3m12 0h3M1082 545h3m8 0h9m2 0h4m1 0h7m8 0h6m6 0h3m261 0h3m5 0h3m26 0h6m28 0h3M1065 546h3m5 0h3m6 0h3m4 0h3m1 0h5m2 0h3m2 0h3m5 0h3m1 0h3m14 0h3m3 0h3m72 0h3m89 0h3M1072 547h3m7 0h6m3 0h3m8 0h3m1 0h5m1 0h6m3 0h4m3 0h3m3 0h3m5 0h3m31 0h3m76 0h3m216 0h3M1069 548h3m31 0h11m2 0h3m6 0h7m3 0h3m1 0h3m1 0h4m61 0h3m31 0h3M1062 549h3m24 0h3m17 0h3m4 0h3m2 0h3m18 0h3m3 0h3m14 0h3m36 0h3m31 0h3m113 0h3m10 0h5m30 0h3m16 0h3m20 0h3m10 0h3M1079 550h6m5 0h3m20 0h3m3 0h3m24 0h3m18 0h3m238 0h3m25 0h3M1069 551h3m14 0h3m3 0h3m7 0h3m4 0h3m1 0h3m3 0h4m2 0h3m3 0h3m22 0h3m10 0h3m13 0h3m187 0h3m74 0h3m2 0h3M1078 552h3m2 0h7m3 0h3m1 0h3m1 0h3m3 0h4m5 0h6m2 0h3m6 0h4m4 0h3m1 0h3m19 0h3m28 0h3m11 0h3m18 0h3m6 0h3m77 0h3m48 0h3m15 0h3m14 0h3m34 0h3m24 0h3M1082 553h6m9 0h3m8 0h3m7 0h7m5 0h3m2 0h3m14 0h3m62 0h3m45 0h3m1 0h3m92 0h3m70 0h3m23 0h3m9 0h3M1099 554h5m2 0h3m2 0h18m6 0h3m24 0h3m11 0h3m4 0h3m5 0h3m29 0h3m71 0h3m22 0h3m2 0h5m13 0h3m109 0h3m6 0h3m2 0h6M1076 555h3m11 0h3m3 0h6m5 0h8m3 0h3m5 0h3m15 0h3m32 0h3m18 0h3m8 0h3m26 0h4m7 0h3m29 0h3m10 0h3m103 0h3m29 0h3M1086 556h3m2 0h3m6 0h9m1 0h3m1 0h14m9 0h3m2 0h4m6 0h3m4 0h5m47 0h3m7 0h3m100 0h5m107 0h3m7 0h3m11 0h3m1 0h3M1072 557h3m6 0h3m3 0h4m2 0h5m3 0h3m1 0h6m5 0h3m2 0h3m1 0h3m12 0h3m22 0h3m106 0h3m61 0h3m16 0h4m49 0h3m9 0h3m40 0h3M1089 558h3m3 0h3m2 0h9m6 0h3m1 0h4m3 0h4m1 0h3m2 0h8m19 0h5m2 0h3m13 0h3m66 0h3m45 0h3m17 0h3m15 0h3m48 0h3m5 0h3m31 0h3m5 0h3m8 0h3M1088 559h3m1 0h9m10 0h3m2 0h3m1 0h3m1 0h3m10 0h3m66 0h3m14 0h3m2 0h3m3 0h3m9 0h3m64 0h3m74 0h3m1 0h3m25 0h3m9 0h3m4 0h3m12 0h3m5 0h3M1093 560h7m1 0h7m1 0h6m7 0h6m2 0h5m6 0h3m2 0h3m42 0h3m2 0h3m32 0h4m35 0h3m37 0h3m41 0h3m42 0h3m43 0h3m19 0h3M1072 561h3m10 0h7m10 0h3m4 0h6m1 0h4m3 0h3m12 0h3m7 0h3m1 0h3m6 0h3m6 0h3m55 0h3m24 0h3m4 0h3m15 0h3m58 0h3m38 0h3m53 0h3m11 0h3m2 0h3m18 0h3M1072 562h3m1 0h3m10 0h3m8 0h3m2 0h3m2 0h7m2 0h3m2 0h6m3 0h6m1 0h3m4 0h8m4 0h3m11 0h3m32 0h3m17 0h3m120 0h3m67 0h3M1095 563h3m1 0h3m3 0h3m3 0h3m4 0h3m6 0h6m1 0h3m6 0h4m12 0h3m11 0h3m17 0h3m42 0h3m2 0h9m166 0h3m20 0h3m9 0h3M1093 564h3m1 0h3m13 0h4m10 0h3m1 0h6m15 0h3m84 0h5m15 0h3m39 0h3m49 0h3m43 0h3m35 0h3m8 0h3m16 0h4M1081 565h3m1 0h3m5 0h8m4 0h7m4 0h4m3 0h9m4 0h3m43 0h3m32 0h4m33 0h5m113 0h3M1078 566h6m13 0h3m3 0h4m1 0h8m7 0h3m6 0h3m12 0h3m1 0h3m12 0h3m15 0h3m36 0h3m8 0h3m4 0h3m5 0h3m69 0h3m70 0h3m74 0h3m4 0h3M1081 567h3m13 0h5m4 0h3m8 0h3m6 0h7m1 0h4m3 0h3m26 0h3m11 0h3m13 0h6m25 0h3m12 0h3m69 0h3m2 0h3m57 0h3m22 0h3m46 0h3m2 0h3m4 0h3M1089 568h3m10 0h4m6 0h6m2 0h3m1 0h4m1 0h3m9 0h6m11 0h3m11 0h3m53 0h3m14 0h3m10 0h3m8 0h3m60 0h3m9 0h3m45 0h3m11 0h3m18 0h3m11 0h3m5 0h3m7 0h3m3 0h3M1093 569h3m14 0h3m3 0h4m2 0h3m6 0h3m2 0h3m5 0h3m9 0h3m57 0h3m27 0h6m1 0h3m12 0h3m25 0h3m46 0h3m38 0h3m40 0h3m36 0h3m3 0h3M1066 570h3m21 0h4m1 0h3m1 0h3m1 0h13m3 0h5m6 0h3m4 0h6m63 0h5m34 0h5m4 0h3m17 0h3m21 0h3m3 0h3m41 0h3m78 0h3m4 0h3m17 0h3M1079 571h6m1 0h6m9 0h3m1 0h3m4 0h4m4 0h3m8 0h3m1 0h3m17 0h3m18 0h3m46 0h3m39 0h3m112 0h3m58 0h3M1087 572h6m6 0h4m2 0h7m2 0h3m3 0h9m5 0h12m1 0h3m4 0h3m24 0h3m32 0h3m20 0h3m17 0h3m31 0h4m26 0h3m38 0h3m13 0h3m55 0h3m1 0h3m24 0h3m4 0h3M1083 573h3m6 0h9m7 0h3m4 0h4m2 0h6m14 0h3m1 0h3m14 0h3m46 0h3m18 0h3m2 0h3m12 0h3m20 0h3m110 0h3m18 0h3m4 0h3m21 0h3m1 0h6m9 0h3m10 0h3M1088 574h4m2 0h3m1 0h8m11 0h5m12 0h5m8 0h5m16 0h3m8 0h3m48 0h3m64 0h5m10 0h3m21 0h6m37 0h4m8 0h3m38 0h3m10 0h3M1078 575h3m12 0h3m2 0h3m3 0h3m1 0h3m6 0h4m4 0h3m13 0h3m2 0h3m62 0h3m30 0h4m5 0h3m19 0h3m5 0h3m11 0h3m49 0h3m64 0h4m31 0h3M1085 576h3m1 0h3m5 0h3m18 0h6m6 0h3m10 0h3m6 0h3m3 0h3m29 0h3m23 0h3m29 0h3m44 0h3m17 0h3m1 0h7m44 0h3m20 0h3m10 0h5m5 0h3m10 0h5m25 0h3m14 0h3M1087 577h7m1 0h9m7 0h9m11 0h3m16 0h3m4 0h3m21 0h3m2 0h3m7 0h3m15 0h3m9 0h7m1 0h3m2 0h3m9 0h3m57 0h3m9 0h3m6 0h3m11 0h4m70 0h3m22 0h3m24 0h3M1090 578h6m12 0h3m3 0h4m1 0h3m10 0h3m3 0h3m1 0h3m2 0h3m4 0h3m22 0h3m54 0h3m17 0h9m17 0h3m12 0h3m25 0h3m7 0h5m11 0h6m6 0h3m20 0h6m12 0h3m5 0h3m31 0h3m22 0h6M1092 579h4m4 0h9m4 0h5m1 0h3m1 0h3m6 0h3m5 0h3m4 0h3m20 0h3m23 0h3m7 0h6m18 0h3m3 0h3m5 0h3m1 0h3m6 0h3m11 0h3m16 0h3m20 0h3m91 0h3m3 0h3m35 0h3m7 0h3m5 0h4M1075 580h3m2 0h5m2 0h6m8 0h4m3 0h7m9 0h3m4 0h5m3 0h3m35 0h5m37 0h3m8 0h3m7 0h6m5 0h3m33 0h3m4 0h3m2 0h3m7 0h3m34 0h3m9 0h3m12 0h3m13 0h3m7 0h3m60 0h3m4 0h3m2 0h3M1093 581h3m8 0h8m1 0h14m1 0h5m1 0h3m24 0h3m15 0h3m23 0h3m1 0h3m8 0h3m2 0h3m8 0h7m11 0h3m7 0h3m54 0h3m26 0h4m4 0h3m1 0h3m37 0h6m1 0h3m22 0h3m21 0h3m3 0h3m8 0h3M1081 582h6m1 0h3m5 0h3m5 0h21m10 0h4m2 0h9m13 0h4m15 0h4m12 0h3m16 0h3m17 0h7m7 0h4m1 0h3m43 0h3m12 0h6m2 0h3m24 0h3m3 0h3m43 0h3m4 0h3m18 0h3m9 0h6m5 0h3m8 0h3m1 0h3m2 0h4M1082 583h3m1 0h3m4 0h3m11 0h3m4 0h3m10 0h6m5 0h3m40 0h3m4 0h3m13 0h3m19 0h3m20 0h6m3 0h3m22 0h3m12 0h3m55 0h3m30 0h3m48 0h9m4 0h3m5 0h3m5 0h4M1096 584h3m3 0h17m1 0h5m3 0h4m5 0h5m3 0h6m5 0h3m3 0h3m6 0h3m22 0h3m9 0h3m37 0h10m1 0h3m1 0h3m16 0h3m11 0h3m34 0h3m20 0h3m22 0h4m60 0h3m8 0h4m12 0h3m2 0h3M1107 585h3m2 0h6m6 0h5m3 0h3m6 0h3m12 0h3m1 0h3m17 0h3m2 0h3m21 0h3m21 0h3m1 0h3m6 0h3m20 0h3m26 0h3m6 0h3m26 0h3m8 0h3m14 0h3m22 0h4m58 0h3m3 0h3m12 0h3M1108 586h8m2 0h4m2 0h12m2 0h5m1 0h5m1 0h4m8 0h3m5 0h3m21 0h5m18 0h3m1 0h3m28 0h3m1 0h3m12 0h3m7 0h3m17 0h3m6 0h8m44 0h3m4 0h3m46 0h3m4 0h3m3 0h7m11 0h3m17 0h3m1 0h3M1098 587h5m2 0h4m2 0h6m1 0h10m2 0h3m3 0h3m4 0h3m2 0h3m1 0h3m1 0h5m4 0h3m1 0h3m1 0h3m5 0h7m12 0h3m22 0h3m4 0h3m1 0h3m4 0h3m5 0h3m2 0h4m2 0h3m8 0h3m30 0h3m2 0h3m22 0h3m4 0h6m4 0h3m19 0h3m4 0h6m1 0h3m16 0h3m22 0h3m30 0h6m2 0h3M1086 588h7m14 0h3m1 0h8m6 0h3m2 0h4m12 0h3m2 0h3m61 0h3m19 0h3m13 0h3m4 0h3m7 0h3m6 0h3m10 0h3m8 0h3m9 0h3m1 0h3m34 0h6m3 0h3m3 0h3m12 0h3m23 0h3m2 0h3m8 0h3m2 0h3m1 0h3m18 0h3m11 0h6M1079 589h3m18 0h9m6 0h9m7 0h3m1 0h3m8 0h3m7 0h3m2 0h3m14 0h4m4 0h6m3 0h11m5 0h3m8 0h4m1 0h3m3 0h3m11 0h3m33 0h3m9 0h3m37 0h9m2 0h3m1 0h3m25 0h3m11 0h3m3 0h3m21 0h3m17 0h3m10 0h9m14 0h3M1085 590h3m30 0h5m5 0h3m4 0h3m3 0h9m11 0h3m39 0h4m14 0h3m2 0h6m4 0h7m3 0h8m1 0h3m4 0h3m1 0h3m1 0h3m10 0h3m14 0h6m25 0h3m13 0h3m5 0h3m17 0h3m5 0h3m35 0h3m27 0h3m7 0h3m5 0h3M1100 591h3m13 0h6m4 0h3m9 0h3m3 0h3m1 0h5m4 0h6m11 0h3m11 0h3m2 0h9m4 0h4m1 0h3m7 0h3m1 0h3m3 0h6m31 0h3m58 0h3m14 0h6m4 0h3m8 0h3m3 0h3m10 0h3m5 0h3m21 0h8m10 0h3m3 0h3m27 0h6M1079 592h3m8 0h3m17 0h3m7 0h4m3 0h12m14 0h3m1 0h3m1 0h3m7 0h3m44 0h3m5 0h3m3 0h6m2 0h3m8 0h8m6 0h3m8 0h3m16 0h3m12 0h3m5 0h3m14 0h6m12 0h4m24 0h3m1 0h5m8 0h3m12 0h3m5 0h6m11 0h3m7 0h3m14 0h6m1 0h4m1 0h3M1090 593h3m17 0h10m12 0h4m4 0h3m17 0h6m43 0h3m10 0h6m7 0h3m3 0h3m8 0h3m1 0h3m7 0h3m15 0h3m20 0h3m30 0h5m2 0h3m9 0h5m21 0h3m14 0h3m5 0h3m12 0h5m8 0h7m8 0h3m1 0h3m1 0h3m2 0h3M1098 594h3m3 0h7m1 0h6m8 0h9m2 0h3m6 0h3m16 0h3m32 0h3m2 0h3m16 0h3m8 0h5m2 0h3m4 0h3m3 0h3m1 0h7m44 0h3m8 0h9m3 0h3m2 0h3m16 0h3m9 0h3m4 0h3m4 0h8m13 0h3m3 0h3m9 0h4m14 0h3m11 0h3m2 0h3m3 0h4m8 0h3M1110 595h8m3 0h3m5 0h7m7 0h3m1 0h6m7 0h5m7 0h4m2 0h3m31 0h3m8 0h3m1 0h3m4 0h3m1 0h6m19 0h4m12 0h3m26 0h3m7 0h6m24 0h7m14 0h3m21 0h3m9 0h3m12 0h3m8 0h3m13 0h13m3 0h3m7 0h3m2 0h3M1088 596h3m2 0h3m9 0h6m1 0h3m4 0h3m2 0h5m15 0h3m3 0h3m2 0h3m26 0h3m1 0h3m2 0h3m2 0h5m2 0h3m24 0h10m6 0h3m37 0h3m3 0h6m5 0h3m5 0h4m11 0h5m15 0h3m4 0h3m6 0h5m42 0h4m5 0h6m16 0h3m5 0h9M1094 597h3m2 0h10m5 0h3m8 0h3m7 0h7m12 0h10m5 0h3m28 0h3m15 0h3m12 0h12m4 0h3m7 0h6m9 0h3m5 0h3m9 0h3m6 0h6m1 0h3m41 0h4m24 0h3m28 0h8m6 0h3m16 0h3m6 0h3m13 0h3m3 0h3M1086 598h3m11 0h3m1 0h6m18 0h3m2 0h7m3 0h3m2 0h3m5 0h6m1 0h3m6 0h7m6 0h3m10 0h3m30 0h6m1 0h9m7 0h3m5 0h3m23 0h3m10 0h3m11 0h3m3 0h5m6 0h3m4 0h3m10 0h3m1 0h3m17 0h3m5 0h9m4 0h3m3 0h4m28 0h3m20 0h7M1092 599h3m4 0h3m1 0h8m3 0h3m3 0h10m2 0h10m5 0h3m12 0h6m29 0h6m2 0h3m4 0h4m2 0h3m3 0h3m3 0h3m3 0h5m1 0h6m4 0h4m1 0h5m52 0h3m32 0h6m1 0h4m4 0h3m3 0h4m8 0h6m11 0h5m4 0h3m1 0h3m3 0h10m17 0h3m2 0h3m3 0h6m2 0h3m1 0h6M1081 600h3m12 0h3m1 0h3m8 0h3m26 0h5m1 0h8m9 0h4m4 0h3m4 0h4m1 0h4m10 0h3m1 0h3m2 0h3m1 0h4m2 0h3m4 0h10m1 0h3m6 0h8m2 0h5m13 0h3m1 0h5m5 0h6m6 0h7m10 0h3m10 0h3m16 0h3m1 0h3m5 0h3m22 0h3m10 0h3m5 0h3m10 0h6m9 0h5m1 0h3m7 0h3m2 0h6m1 0h5m7 0h5m2 0h3M1083 601h3m14 0h4m3 0h8m2 0h8m3 0h7m2 0h3m3 0h3m2 0h3m3 0h6m7 0h3m2 0h4m3 0h3m4 0h3m1 0h5m19 0h5m3 0h6m1 0h6m4 0h3m2 0h3m5 0h8m1 0h3m6 0h3m32 0h3m4 0h3m15 0h3m6 0h3m2 0h3m7 0h6m2 0h3m7 0h3m1 0h3m2 0h3m11 0h3m25 0h3m6 0h3m5 0h6m1 0h3m9 0h5m7 0h3m4 0h3M1094 602h3m1 0h3m11 0h4m3 0h3m3 0h3m2 0h3m6 0h4m3 0h3m2 0h4m1 0h3m13 0h3m6 0h3m18 0h4m7 0h3m6 0h3m1 0h3m10 0h13m2 0h3m3 0h6m3 0h3m4 0h5m13 0h3m29 0h3m1 0h3m3 0h3m22 0h3m11 0h3m3 0h5m14 0h3m9 0h3m4 0h10m1 0h5m6 0h4m13 0h6m1 0h3m1 0h3m2 0h3M1099 603h3m2 0h3m9 0h13m1 0h10m13 0h3m6 0h6m5 0h5m2 0h3m1 0h3m9 0h3m9 0h3m8 0h3m5 0h5m2 0h4m8 0h3m5 0h3m45 0h3m37 0h3m16 0h7m2 0h3m3 0h3m4 0h9m9 0h6m5 0h3m5 0h3m8 0h7m1 0h3m9 0h3m1 0h7m3 0h3m1 0h4m2 0h6M1105 604h17m3 0h3m3 0h12m1 0h4m3 0h5m18 0h3m8 0h3m10 0h3m5 0h3m19 0h6m1 0h12m4 0h3m4 0h3m22 0h3m5 0h3m5 0h3m1 0h6m18 0h3m9 0h3m7 0h5m2 0h3m2 0h3m15 0h3m2 0h4m6 0h6m2 0h3m8 0h3m4 0h5m9 0h3m10 0h3m3 0h3m5 0h3M1095 605h3m1 0h3m11 0h6m3 0h6m5 0h4m1 0h10m4 0h7m3 0h4m2 0h6m3 0h3m1 0h10m6 0h3m5 0h3m6 0h6m2 0h3m1 0h3m1 0h8m2 0h6m1 0h8m18 0h3m3 0h3m27 0h3m15 0h3m2 0h5m7 0h6m3 0h3m4 0h3m1 0h3m5 0h3m6 0h3m5 0h3m1 0h3m1 0h12m2 0h5m3 0h6m11 0h3m4 0h3m2 0h6m3 0h3m1 0h5M1107 606h3m8 0h3m3 0h5m5 0h11m2 0h5m5 0h6m2 0h3m4 0h3m6 0h5m4 0h3m2 0h5m3 0h3m1 0h3m1 0h3m13 0h5m4 0h3m1 0h13m7 0h3m2 0h4m20 0h3m10 0h3m19 0h3m2 0h3m16 0h4m4 0h3m17 0h3m13 0h5m2 0h4m10 0h3m4 0h5m5 0h3m2 0h4m4 0h3m1 0h7m1 0h13m9 0h3M1060 607h3m27 0h3m9 0h3m5 0h4m3 0h3m4 0h9m9 0h3m1 0h4m2 0h3m6 0h3m35 0h10m3 0h3m1 0h6m4 0h3m6 0h4m5 0h4m4 0h4m6 0h3m9 0h3m14 0h3m3 0h5m20 0h3m2 0h3m1 0h5m5 0h3m4 0h6m4 0h3m2 0h3m6 0h3m3 0h10m4 0h3m4 0h5m1 0h7m6 0h6m4 0h6m3 0h3m11 0h3m9 0h4m1 0h3m4 0h3M1092 608h3m1 0h3m14 0h3m1 0h3m3 0h7m2 0h6m4 0h3m2 0h8m8 0h3m2 0h3m8 0h4m8 0h3m9 0h3m9 0h3m13 0h3m1 0h3m3 0h4m3 0h3m1 0h5m60 0h3m16 0h5m2 0h3m8 0h3m17 0h3m8 0h3m10 0h3m12 0h3m2 0h3m16 0h5m2 0h3m14 0h6m2 0h3M1101 609h3m6 0h3m2 0h4m1 0h3m8 0h11m2 0h4m9 0h5m3 0h3m12 0h4m18 0h3m5 0h4m2 0h14m6 0h4m10 0h3m4 0h4m5 0h3m2 0h3m25 0h3m4 0h4m3 0h3m7 0h3m3 0h3m1 0h4m2 0h3m3 0h3m2 0h3m3 0h3m15 0h8m7 0h3m4 0h13m2 0h3m22 0h3m2 0h3m1 0h6m5 0h8m3 0h4m2 0h6M1110 610h4m6 0h11m2 0h3m5 0h23m23 0h3m4 0h3m8 0h13m1 0h5m2 0h3m1 0h9m1 0h13m4 0h3m14 0h3m13 0h9m13 0h3m8 0h6m2 0h3m1 0h3m3 0h3m2 0h6m4 0h3m9 0h3m1 0h3m2 0h3m9 0h3m12 0h3m3 0h5m1 0h3m1 0h6m10 0h6m12 0h11m2 0h3m5 0h7M1086 611h3m6 0h6m1 0h3m6 0h5m4 0h3m10 0h9m1 0h3m3 0h3m6 0h5m1 0h6m3 0h5m10 0h3m5 0h3m3 0h3m1 0h3m3 0h4m3 0h3m5 0h3m3 0h3m2 0h4m1 0h4m4 0h3m1 0h8m1 0h3m3 0h3m17 0h5m2 0h6m3 0h3m5 0h3m27 0h10m5 0h7m1 0h6m16 0h4m1 0h3m3 0h3m10 0h5m4 0h6m1 0h3m2 0h3m3 0h6m3 0h3m4 0h3m1 0h4m5 0h3m1 0h6M1089 612h3m7 0h3m5 0h16m12 0h3m4 0h4m9 0h3m6 0h5m4 0h3m13 0h4m32 0h3m1 0h3m2 0h5m1 0h3m3 0h3m2 0h3m2 0h3m5 0h3m6 0h3m16 0h5m2 0h4m26 0h6m23 0h3m1 0h3m3 0h3m2 0h6m4 0h3m6 0h3m2 0h6m2 0h6m3 0h3m5 0h3m13 0h3m2 0h3m1 0h3m2 0h3m2 0h3m1 0h3m1 0h7m2 0h6M1103 613h3m12 0h3m8 0h11m8 0h3m4 0h12m2 0h5m9 0h3m6 0h3m15 0h8m4 0h5m6 0h5m1 0h5m4 0h3m1 0h3m1 0h12m2 0h3m3 0h3m9 0h3m3 0h3m2 0h5m3 0h8m3 0h6m2 0h6m3 0h3m1 0h10m6 0h6m6 0h3m8 0h5m4 0h3m2 0h5m6 0h3m9 0h3m7 0h3m6 0h4m1 0h6m1 0h3m14 0h7m3 0h3m3 0h3M1104 614h3m1 0h3m13 0h5m1 0h4m5 0h8m1 0h5m1 0h6m8 0h3m8 0h13m2 0h3m7 0h7m1 0h6m2 0h4m5 0h3m3 0h9m1 0h7m2 0h5m3 0h3m3 0h3m16 0h3m3 0h3m4 0h3m1 0h5m10 0h3m1 0h3m2 0h11m7 0h3m3 0h3m10 0h4m1 0h3m9 0h4m1 0h5m4 0h4m7 0h3m4 0h3m8 0h4m1 0h3m18 0h11m8 0h3m4 0h3M1084 615h6m7 0h3m1 0h6m3 0h4m4 0h8m3 0h10m1 0h3m8 0h3m4 0h3m8 0h4m10 0h6m4 0h3m10 0h3m4 0h4m7 0h3m7 0h3m3 0h3m4 0h7m3 0h3m9 0h6m6 0h3m3 0h3m14 0h3m1 0h4m1 0h8m2 0h11m1 0h3m3 0h10m1 0h6m4 0h3m2 0h3m1 0h3m2 0h4m9 0h6m12 0h6m11 0h3m1 0h3m5 0h3m2 0h3m3 0h8m1 0h4m4 0h7M1128 616h8m1 0h3m16 0h4m13 0h7m10 0h4m7 0h3m3 0h6m13 0h5m1 0h3m4 0h3m7 0h5m2 0h5m1 0h3m2 0h3m3 0h3m2 0h3m10 0h13m2 0h3m1 0h6m2 0h3m1 0h5m6 0h4m5 0h9m3 0h7m8 0h3m6 0h5m6 0h3m7 0h3m1 0h7m2 0h14m1 0h4m8 0h3m5 0h6m2 0h3m2 0h3m6 0h6m1 0h3M1099 617h3m10 0h5m9 0h13m6 0h6m1 0h11m4 0h5m3 0h3m1 0h5m4 0h6m2 0h5m1 0h10m6 0h3m1 0h3m1 0h3m1 0h4m2 0h20m7 0h3m2 0h6m17 0h3m5 0h3m1 0h4m1 0h5m3 0h3m1 0h3m12 0h7m7 0h15m2 0h6m1 0h3m5 0h3m2 0h3m8 0h3m22 0h7m3 0h6m7 0h3m3 0h4m6 0h6m1 0h13M1091 618h3m9 0h3m6 0h6m3 0h3m5 0h8m8 0h7m14 0h3m26 0h3m9 0h3m6 0h4m5 0h5m4 0h3m6 0h10m8 0h4m23 0h4m1 0h4m6 0h4m1 0h5m13 0h7m3 0h5m8 0h3m7 0h3m4 0h3m4 0h6m10 0h4m3 0h3m4 0h3m3 0h3m3 0h8m1 0h4m3 0h3m1 0h16m2 0h3m5 0h5m1 0h8m4 0h3M1097 619h3m3 0h3m18 0h3m2 0h3m7 0h11m3 0h6m2 0h3m5 0h4m2 0h7m4 0h4m2 0h3m3 0h3m4 0h4m2 0h3m3 0h3m4 0h3m4 0h3m3 0h3m4 0h3m7 0h5m5 0h4m1 0h3m6 0h6m1 0h10m2 0h3m1 0h3m1 0h4m2 0h3m2 0h3m2 0h4m12 0h3m7 0h6m10 0h4m1 0h3m1 0h3m6 0h3m24 0h3m9 0h5m1 0h3m2 0h3m2 0h4m7 0h12m2 0h9m1 0h7M1098 620h3m20 0h3m3 0h8m1 0h14m1 0h5m1 0h4m5 0h3m3 0h3m1 0h14m1 0h3m5 0h3m1 0h9m4 0h7m1 0h9m1 0h3m1 0h3m3 0h5m1 0h9m1 0h3m3 0h7m2 0h3m1 0h5m14 0h3m6 0h5m4 0h3m6 0h4m9 0h3m1 0h3m1 0h3m1 0h3m8 0h7m2 0h4m3 0h3m13 0h13m10 0h4m2 0h7m1 0h6m1 0h5m11 0h3m2 0h7m1 0h3m2 0h3m3 0h4M1111 621h3m1 0h3m4 0h3m6 0h4m1 0h3m11 0h3m1 0h3m1 0h5m1 0h5m1 0h10m1 0h8m4 0h6m9 0h5m5 0h5m2 0h3m2 0h7m5 0h18m4 0h3m28 0h6m2 0h4m9 0h3m6 0h3m3 0h3m6 0h4m3 0h3m2 0h5m5 0h3m14 0h11m2 0h3m8 0h3m3 0h10m4 0h5m2 0h5m3 0h6m12 0h3m1 0h3m1 0h3m4 0h9M1096 622h3m7 0h5m14 0h6m1 0h6m1 0h9m2 0h5m7 0h4m1 0h5m6 0h3m4 0h7m1 0h6m5 0h3m4 0h5m7 0h3m4 0h3m12 0h8m6 0h7m11 0h4m1 0h3m1 0h4m7 0h3m2 0h6m2 0h3m5 0h3m5 0h7m17 0h7m3 0h3m1 0h16m7 0h7m1 0h3m6 0h7m1 0h6m2 0h7m17 0h9m4 0h7m1 0h4m1 0h7m1 0h3M1109 623h3m11 0h3m1 0h3m1 0h3m7 0h5m9 0h7m1 0h3m1 0h3m7 0h5m7 0h3m8 0h3m4 0h4m1 0h3m3 0h15m3 0h5m5 0h3m1 0h6m1 0h5m2 0h3m14 0h5m8 0h6m2 0h5m3 0h5m1 0h3m2 0h6m1 0h4m1 0h3m5 0h3m1 0h3m4 0h6m6 0h4m1 0h7m1 0h3m4 0h10m2 0h3m4 0h3m4 0h5m14 0h14m2 0h7m1 0h9m4 0h4m1 0h5M1094 624h3m17 0h12m5 0h8m13 0h6m2 0h4m2 0h6m3 0h3m3 0h5m4 0h5m3 0h3m9 0h5m1 0h8m2 0h7m4 0h9m6 0h5m4 0h5m10 0h3m6 0h4m11 0h6m3 0h3m7 0h3m2 0h3m3 0h6m3 0h11m2 0h3m4 0h7m8 0h3m1 0h13m21 0h14m4 0h9m2 0h15m3 0h8m2 0h13M1121 625h3m5 0h3m13 0h6m2 0h4m3 0h3m3 0h4m1 0h3m4 0h3m1 0h3m3 0h9m1 0h9m5 0h3m8 0h3m2 0h8m3 0h4m3 0h3m4 0h3m1 0h3m2 0h4m1 0h3m1 0h3m1 0h5m5 0h4m22 0h3m3 0h3m2 0h4m6 0h3m5 0h5m1 0h3m3 0h4m1 0h7m2 0h5m1 0h6m3 0h6m7 0h3m5 0h5m9 0h9m7 0h8m4 0h5m1 0h3m3 0h3m5 0h11m2 0h5M1100 626h3m13 0h3m3 0h3m1 0h3m5 0h5m3 0h10m1 0h3m2 0h4m6 0h3m1 0h5m4 0h3m5 0h3m5 0h4m6 0h3m3 0h4m6 0h3m4 0h16m2 0h3m1 0h7m1 0h9m2 0h3m1 0h3m4 0h3m1 0h10m4 0h3m3 0h3m1 0h3m3 0h4m2 0h4m1 0h3m2 0h6m1 0h3m7 0h5m1 0h4m4 0h24m3 0h3m4 0h3m4 0h5m2 0h3m2 0h3m3 0h3m7 0h7m3 0h5m3 0h6m1 0h6m2 0h15M1106 627h7m1 0h3m10 0h3m1 0h9m3 0h3m6 0h9m5 0h3m1 0h3m1 0h3m10 0h3m11 0h3m7 0h3m4 0h3m2 0h3m8 0h8m3 0h6m8 0h4m2 0h3m10 0h6m1 0h3m16 0h3m2 0h3m4 0h3m6 0h3m6 0h3m3 0h3m3 0h6m4 0h3m3 0h3m1 0h3m2 0h3m1 0h12m7 0h3m5 0h4m5 0h4m4 0h13m1 0h8m6 0h7m1 0h5m2 0h7m4 0h6M1109 628h5m1 0h3m9 0h3m8 0h12m1 0h3m5 0h3m1 0h3m1 0h10m3 0h3m4 0h5m4 0h8m4 0h16m5 0h3m2 0h3m3 0h3m3 0h3m3 0h3m1 0h5m9 0h3m2 0h4m5 0h11m1 0h7m2 0h3m1 0h6m2 0h3m6 0h4m8 0h3m1 0h16m4 0h6m2 0h9m11 0h3m4 0h8m2 0h4m3 0h9m2 0h6m5 0h5m4 0h3m1 0h10m3 0h3m5 0h8M1096 629h3m30 0h14m3 0h10m4 0h3m9 0h3m3 0h6m1 0h7m11 0h12m1 0h6m2 0h3m3 0h9m5 0h3m3 0h14m2 0h3m4 0h7m7 0h3m1 0h9m1 0h3m1 0h6m4 0h3m5 0h18m2 0h4m1 0h6m11 0h6m1 0h5m6 0h5m2 0h15m10 0h7m1 0h8m1 0h5m1 0h3m1 0h9m2 0h25m1 0h3M1108 630h3m2 0h6m2 0h3m7 0h11m2 0h9m4 0h5m9 0h5m3 0h4m8 0h6m4 0h6m2 0h5m2 0h8m3 0h6m5 0h11m2 0h6m1 0h5m1 0h5m8 0h3m2 0h3m7 0h4m6 0h6m7 0h3m12 0h3m3 0h7m1 0h5m1 0h8m13 0h3m8 0h8m6 0h4m1 0h8m3 0h3m8 0h4m2 0h13m2 0h11m11 0h3m3 0h3M1106 631h3m7 0h3m5 0h3m2 0h3m4 0h3m7 0h11m4 0h3m3 0h3m10 0h6m1 0h3m12 0h7m2 0h4m4 0h3m1 0h4m1 0h5m4 0h13m2 0h9m3 0h5m1 0h4m3 0h3m4 0h3m2 0h3m8 0h7m4 0h28m2 0h5m1 0h3m1 0h3m5 0h10m5 0h3m7 0h12m4 0h3m1 0h3m2 0h6m2 0h4m3 0h6m1 0h7m4 0h16m5 0h4m4 0h3m1 0h3M1107 632h3m2 0h3m1 0h6m7 0h8m1 0h9m2 0h3m6 0h5m5 0h3m2 0h7m2 0h6m7 0h6m4 0h5m7 0h3m7 0h9m3 0h6m1 0h3m1 0h16m15 0h5m3 0h4m4 0h3m2 0h3m2 0h8m6 0h5m2 0h3m4 0h9m1 0h7m1 0h10m2 0h4m5 0h3m1 0h3m2 0h5m1 0h5m9 0h17m1 0h12m4 0h4m2 0h8m4 0h3m1 0h3m1 0h3m3 0h4m3 0h4M1097 633h3m4 0h3m18 0h3m2 0h3m1 0h4m6 0h5m3 0h11m1 0h3m1 0h7m9 0h7m1 0h4m1 0h5m4 0h3m8 0h3m8 0h3m2 0h6m3 0h5m1 0h8m1 0h9m7 0h5m6 0h6m16 0h10m2 0h6m2 0h3m3 0h4m2 0h8m7 0h3m2 0h5m2 0h3m1 0h11m2 0h9m7 0h3m2 0h3m1 0h5m2 0h7m5 0h4m3 0h5m4 0h5m1 0h5m1 0h3m1 0h3m2 0h11m2 0h3M1115 634h3m1 0h6m1 0h5m3 0h6m1 0h7m2 0h4m1 0h3m16 0h3m3 0h5m4 0h7m8 0h10m14 0h5m4 0h8m2 0h5m1 0h3m6 0h4m9 0h5m4 0h3m2 0h5m3 0h6m3 0h9m3 0h4m4 0h3m3 0h13m1 0h7m1 0h3m4 0h8m2 0h6m1 0h5m1 0h8m7 0h3m3 0h6m3 0h5m1 0h6m2 0h4m2 0h6m2 0h3m3 0h6m2 0h3m2 0h4m2 0h8m1 0h5M1099 635h3m23 0h5m1 0h14m9 0h4m1 0h5m6 0h6m2 0h3m2 0h9m8 0h5m2 0h3m5 0h4m3 0h5m1 0h3m5 0h6m5 0h4m1 0h11m1 0h12m1 0h3m1 0h3m2 0h3m1 0h8m7 0h3m5 0h11m3 0h3m3 0h3m2 0h5m9 0h7m6 0h3m2 0h12m7 0h3m5 0h6m3 0h3m5 0h10m3 0h5m2 0h8m2 0h4m5 0h4m4 0h10m1 0h5m2 0h3M1109 636h5m8 0h3m3 0h8m1 0h4m5 0h3m4 0h6m1 0h3m1 0h8m1 0h3m4 0h6m1 0h3m5 0h5m11 0h3m3 0h9m4 0h9m1 0h3m2 0h8m2 0h12m1 0h3m4 0h3m1 0h7m3 0h6m3 0h8m2 0h7m6 0h5m3 0h7m1 0h4m3 0h3m4 0h8m1 0h5m4 0h10m1 0h3m5 0h4m5 0h5m2 0h6m2 0h3m3 0h4m5 0h4m1 0h3m1 0h10m2 0h9m1 0h12m1 0h5m1 0h3M1102 637h3m9 0h3m9 0h11m6 0h7m8 0h3m8 0h6m3 0h3m2 0h5m2 0h4m3 0h3m4 0h3m12 0h4m2 0h3m1 0h17m3 0h6m3 0h20m1 0h3m7 0h3m1 0h3m1 0h3m1 0h7m7 0h3m1 0h3m1 0h21m5 0h13m4 0h14m6 0h6m1 0h14m2 0h3m1 0h7m2 0h4m1 0h3m14 0h6m2 0h6m1 0h3m4 0h6m5 0h4M1122 638h4m5 0h3m1 0h3m1 0h3m7 0h4m1 0h3m1 0h9m5 0h6m10 0h3m1 0h5m4 0h3m9 0h7m1 0h3m12 0h3m2 0h3m1 0h11m5 0h3m2 0h3m5 0h3m5 0h4m6 0h3m1 0h18m4 0h3m3 0h9m3 0h3m1 0h6m4 0h5m1 0h5m7 0h4m1 0h4m1 0h3m4 0h3m1 0h9m4 0h17m1 0h15m2 0h3m1 0h4m2 0h4m6 0h3m2 0h19M1109 639h3m1 0h6m17 0h5m4 0h3m1 0h7m1 0h17m1 0h8m1 0h3m5 0h4m10 0h5m5 0h5m2 0h4m4 0h7m1 0h15m5 0h3m4 0h3m9 0h4m3 0h3m1 0h5m2 0h11m2 0h6m4 0h3m1 0h3m1 0h7m3 0h4m4 0h3m2 0h4m1 0h6m2 0h4m2 0h17m6 0h3m3 0h10m5 0h15m1 0h3m7 0h4m2 0h15m5 0h3m1 0h9M1105 640h3m9 0h7m2 0h6m3 0h7m2 0h9m1 0h8m1 0h8m1 0h4m5 0h3m1 0h8m4 0h16m2 0h8m1 0h3m3 0h4m2 0h3m2 0h3m1 0h12m1 0h3m1 0h3m12 0h3m4 0h3m2 0h8m2 0h5m7 0h4m4 0h3m5 0h6m3 0h3m1 0h10m2 0h5m4 0h3m2 0h4m2 0h3m6 0h3m2 0h7m10 0h3m1 0h3m2 0h3m1 0h3m2 0h14m5 0h3m1 0h32m1 0h3M1110 641h3m3 0h5m5 0h7m2 0h7m4 0h5m2 0h8m1 0h4m2 0h3m2 0h4m1 0h5m3 0h7m1 0h17m9 0h3m7 0h6m4 0h18m2 0h8m2 0h3m1 0h3m1 0h9m2 0h3m7 0h13m6 0h5m3 0h12m7 0h11m4 0h8m1 0h33m2 0h3m1 0h9m5 0h4m1 0h5m1 0h4m3 0h16m4 0h13m1 0h8M1120 642h9m1 0h8m3 0h5m2 0h3m1 0h10m2 0h3m1 0h9m4 0h3m7 0h3m1 0h8m1 0h7m4 0h3m2 0h7m8 0h8m1 0h6m5 0h5m4 0h7m4 0h5m6 0h3m7 0h8m1 0h12m7 0h7m3 0h11m1 0h3m1 0h20m1 0h4m1 0h3m8 0h4m1 0h6m3 0h15m1 0h16m3 0h10m6 0h12m4 0h8M1109 643h3m9 0h4m3 0h3m1 0h3m1 0h8m1 0h3m2 0h8m3 0h3m4 0h6m1 0h8m2 0h3m2 0h4m11 0h12m1 0h5m2 0h12m1 0h12m5 0h3m3 0h3m7 0h8m3 0h3m3 0h7m6 0h3m2 0h7m2 0h10m4 0h4m4 0h7m1 0h3m2 0h3m3 0h11m4 0h7m1 0h11m4 0h3m1 0h6m1 0h3m8 0h18m1 0h7m1 0h6m5 0h3m4 0h3m1 0h11m3 0h3M1116 644h8m1 0h5m13 0h3m1 0h3m12 0h8m13 0h15m2 0h7m2 0h3m1 0h4m3 0h3m3 0h4m2 0h5m1 0h7m2 0h3m1 0h12m5 0h3m5 0h3m6 0h3m4 0h7m3 0h6m1 0h10m1 0h3m6 0h12m3 0h3m3 0h14m2 0h9m1 0h6m2 0h3m7 0h6m1 0h7m2 0h5m1 0h13m1 0h10m1 0h5m4 0h7m1 0h7m1 0h10m1 0h3M1110 645h4m4 0h3m6 0h6m3 0h10m7 0h5m5 0h13m1 0h3m1 0h3m6 0h8m3 0h6m1 0h13m4 0h5m1 0h16m2 0h7m5 0h4m3 0h5m9 0h9m4 0h3m1 0h6m4 0h3m2 0h4m5 0h17m1 0h8m2 0h10m2 0h3m3 0h4m3 0h6m10 0h5m5 0h3m1 0h13m1 0h9m2 0h11m3 0h6m4 0h13m3 0h4m3 0h4M1108 646h6m11 0h7m1 0h15m4 0h3m1 0h5m2 0h3m4 0h4m2 0h7m2 0h3m1 0h6m3 0h6m8 0h7m4 0h7m3 0h10m1 0h4m3 0h3m1 0h6m8 0h3m6 0h7m2 0h4m5 0h6m5 0h4m1 0h3m2 0h10m7 0h3m1 0h3m1 0h4m1 0h4m1 0h4m1 0h8m2 0h4m1 0h3m1 0h4m1 0h9m2 0h13m4 0h3m6 0h8m1 0h8m3 0h5m1 0h6m1 0h6m2 0h3m2 0h5m2 0h5m2 0h4M1119 647h5m22 0h4m7 0h7m3 0h4m7 0h7m4 0h16m1 0h8m2 0h6m7 0h4m5 0h3m3 0h12m3 0h7m3 0h3m2 0h3m3 0h3m2 0h3m1 0h7m6 0h5m1 0h3m2 0h3m2 0h12m1 0h5m1 0h6m6 0h3m1 0h11m2 0h3m5 0h6m2 0h11m2 0h18m1 0h6m2 0h3m1 0h3m2 0h5m1 0h16m1 0h27M1124 648h8m2 0h14m5 0h3m5 0h3m6 0h7m2 0h7m1 0h3m4 0h4m6 0h3m1 0h3m1 0h3m4 0h9m1 0h12m2 0h10m2 0h6m3 0h3m1 0h3m1 0h6m3 0h3m1 0h7m2 0h3m2 0h4m1 0h5m4 0h17m5 0h12m4 0h3m2 0h3m1 0h6m6 0h3m6 0h5m6 0h3m3 0h3m1 0h3m4 0h3m2 0h5m1 0h6m1 0h10m4 0h7m2 0h6m1 0h3m2 0h6m5 0h4m1 0h3M1114 649h5m9 0h3m2 0h3m1 0h9m1 0h3m2 0h3m3 0h8m5 0h3m4 0h7m1 0h10m1 0h3m2 0h5m1 0h3m1 0h3m2 0h3m4 0h7m1 0h6m2 0h5m2 0h3m1 0h3m4 0h3m2 0h4m1 0h4m2 0h7m7 0h4m3 0h3m8 0h7m1 0h7m1 0h3m1 0h3m3 0h3m3 0h8m5 0h10m1 0h5m1 0h7m7 0h7m1 0h8m4 0h10m1 0h6m1 0h4m1 0h3m2 0h10m5 0h7m1 0h3m2 0h18m1 0h3M1127 650h3m5 0h3m1 0h3m2 0h4m3 0h3m2 0h3m5 0h3m5 0h7m3 0h6m1 0h3m5 0h10m2 0h3m2 0h6m2 0h3m2 0h4m8 0h3m1 0h11m2 0h4m3 0h3m2 0h11m1 0h5m8 0h26m1 0h10m5 0h5m3 0h26m4 0h12m9 0h6m1 0h11m1 0h8m1 0h13m1 0h7m7 0h16m3 0h12M1106 651h3m1 0h3m9 0h3m5 0h6m4 0h5m10 0h3m3 0h15m3 0h27m5 0h26m1 0h3m8 0h5m2 0h6m2 0h5m2 0h4m1 0h10m10 0h3m1 0h3m3 0h8m2 0h3m2 0h4m3 0h6m1 0h12m1 0h14m2 0h3m1 0h7m2 0h3m1 0h3m2 0h11m1 0h12m4 0h8m3 0h32m4 0h3m2 0h5m3 0h8M1101 652h6m21 0h6m1 0h10m5 0h6m2 0h3m2 0h5m6 0h5m4 0h4m3 0h7m9 0h6m1 0h5m2 0h9m1 0h4m1 0h8m1 0h5m5 0h9m5 0h3m3 0h8m4 0h5m4 0h21m3 0h15m1 0h5m2 0h10m3 0h7m2 0h7m1 0h9m9 0h8m3 0h11m2 0h8m1 0h3m1 0h8m5 0h6m8 0h24m1 0h3M1124 653h3m2 0h3m4 0h3m2 0h6m1 0h4m7 0h6m7 0h4m10 0h7m3 0h9m9 0h3m1 0h8m3 0h3m1 0h3m4 0h9m1 0h8m1 0h12m1 0h5m3 0h4m1 0h13m2 0h7m9 0h15m10 0h19m1 0h3m1 0h8m3 0h13m4 0h5m4 0h3m2 0h6m2 0h16m3 0h3m2 0h3m6 0h32M1108 654h3m3 0h3m5 0h4m1 0h3m1 0h3m5 0h3m2 0h3m6 0h7m1 0h5m2 0h15m2 0h3m2 0h3m1 0h13m1 0h3m5 0h20m2 0h7m1 0h16m1 0h7m5 0h4m1 0h3m2 0h3m4 0h12m1 0h6m4 0h10m3 0h6m3 0h22m1 0h10m4 0h17m1 0h6m1 0h13m5 0h3m2 0h9m3 0h4m2 0h4m5 0h9m9 0h5m5 0h3M1115 655h3m10 0h3m1 0h10m6 0h6m2 0h3m2 0h3m6 0h5m3 0h3m1 0h4m1 0h6m5 0h3m4 0h8m2 0h5m5 0h4m3 0h19m1 0h14m2 0h3m2 0h5m1 0h20m6 0h9m4 0h3m5 0h8m1 0h4m2 0h4m1 0h8m2 0h6m7 0h25m1 0h9m1 0h3m1 0h5m2 0h16m4 0h3m5 0h4m2 0h3m3 0h20m1 0h5M1117 656h3m10 0h7m2 0h3m4 0h3m4 0h3m9 0h4m3 0h4m3 0h6m1 0h6m2 0h3m3 0h17m1 0h7m4 0h3m1 0h8m4 0h4m2 0h11m3 0h10m2 0h3m10 0h3m4 0h44m2 0h3m2 0h8m2 0h3m1 0h5m4 0h3m1 0h3m2 0h11m5 0h5m3 0h12m1 0h15m2 0h6m1 0h17m2 0h14m4 0h3M1125 657h8m5 0h13m9 0h3m1 0h5m1 0h5m7 0h11m1 0h7m2 0h6m4 0h3m3 0h10m1 0h7m1 0h4m2 0h8m10 0h4m1 0h3m1 0h8m4 0h4m2 0h4m1 0h6m3 0h3m1 0h22m1 0h19m4 0h7m2 0h3m2 0h5m2 0h29m10 0h4m5 0h9m5 0h14m2 0h29M1122 658h13m7 0h4m7 0h16m3 0h3m3 0h3m3 0h12m1 0h18m1 0h7m4 0h3m1 0h3m3 0h5m2 0h7m2 0h12m6 0h10m5 0h6m4 0h10m2 0h3m1 0h6m1 0h11m2 0h4m4 0h3m3 0h9m3 0h5m5 0h26m4 0h7m1 0h32m3 0h13m1 0h8m4 0h10m2 0h3M1116 659h14m4 0h15m1 0h6m3 0h4m4 0h3m2 0h3m5 0h5m15 0h6m3 0h5m1 0h3m13 0h4m2 0h16m2 0h3m1 0h17m3 0h4m1 0h6m7 0h3m1 0h8m3 0h9m1 0h3m2 0h7m6 0h14m1 0h8m4 0h18m1 0h7m4 0h16m1 0h36m1 0h16m1 0h3m2 0h3m2 0h3M1118 660h3m2 0h4m1 0h4m4 0h3m7 0h4m1 0h8m3 0h7m12 0h3m7 0h3m7 0h14m3 0h3m1 0h3m2 0h6m4 0h5m2 0h4m1 0h3m2 0h6m2 0h16m3 0h5m2 0h13m2 0h31m1 0h14m2 0h11m2 0h5m5 0h23m3 0h14m3 0h22m2 0h17m3 0h21M1125 661h8m1 0h3m4 0h3m2 0h11m1 0h3m3 0h3m2 0h12m2 0h3m1 0h4m2 0h3m5 0h4m1 0h7m5 0h4m2 0h21m1 0h6m5 0h6m4 0h6m2 0h3m1 0h7m5 0h6m2 0h5m1 0h15m2 0h3m2 0h7m1 0h3m2 0h9m1 0h7m4 0h5m3 0h11m4 0h15m1 0h20m1 0h4m2 0h6m1 0h15m2 0h16m7 0h7M1098 662h3m27 0h3m4 0h10m1 0h20m7 0h4m1 0h7m1 0h20m3 0h4m1 0h4m2 0h3m1 0h5m4 0h15m3 0h13m5 0h12m1 0h7m1 0h21m2 0h5m1 0h25m3 0h16m3 0h15m4 0h32m1 0h16m1 0h4m3 0h5m4 0h25m1 0h3M1123 663h3m7 0h7m8 0h5m2 0h9m7 0h8m1 0h17m8 0h4m1 0h10m1 0h3m1 0h8m5 0h11m1 0h3m1 0h19m1 0h6m3 0h3m1 0h16m1 0h3m1 0h7m2 0h3m4 0h3m2 0h9m1 0h3m5 0h4m2 0h5m2 0h7m2 0h3m2 0h5m4 0h7m3 0h7m2 0h6m1 0h6m3 0h4m3 0h4m2 0h11m2 0h6m2 0h14m3 0h5m1 0h6M1114 664h3m3 0h6m13 0h20m3 0h3m3 0h4m1 0h6m2 0h6m3 0h7m2 0h5m1 0h3m2 0h7m3 0h3m3 0h3m5 0h15m1 0h12m1 0h3m6 0h14m4 0h9m1 0h7m3 0h3m1 0h5m5 0h7m5 0h3m4 0h16m1 0h11m1 0h3m3 0h20m2 0h11m1 0h3m1 0h13m1 0h14m1 0h3m3 0h5m2 0h22M1124 665h3m16 0h3m1 0h3m1 0h12m5 0h10m5 0h9m3 0h4m1 0h7m3 0h9m16 0h19m1 0h5m1 0h3m2 0h14m2 0h3m1 0h20m1 0h16m2 0h12m2 0h4m1 0h4m1 0h10m2 0h3m2 0h3m1 0h5m4 0h3m2 0h45m1 0h10m2 0h23m1 0h4m5 0h5M1126 666h3m2 0h3m6 0h5m1 0h4m2 0h8m1 0h6m3 0h3m6 0h12m5 0h3m1 0h5m2 0h4m4 0h3m4 0h7m5 0h14m8 0h5m6 0h17m1 0h5m1 0h5m1 0h12m4 0h6m1 0h7m1 0h34m4 0h7m4 0h4m3 0h7m5 0h13m2 0h3m1 0h8m2 0h7m1 0h3m3 0h9m3 0h25m1 0h5M1109 667h3m8 0h3m21 0h20m6 0h3m3 0h9m3 0h3m1 0h11m1 0h3m6 0h10m5 0h12m2 0h11m1 0h18m2 0h3m1 0h7m1 0h10m4 0h4m1 0h14m1 0h8m2 0h11m2 0h4m1 0h14m2 0h6m1 0h11m1 0h8m1 0h6m2 0h3m6 0h3m7 0h3m2 0h6m1 0h6m2 0h4m2 0h10m2 0h3m1 0h6m1 0h14M1136 668h3m4 0h4m3 0h3m6 0h6m2 0h12m5 0h5m1 0h14m1 0h18m1 0h5m3 0h8m2 0h5m2 0h13m2 0h4m3 0h13m2 0h6m4 0h31m1 0h12m5 0h9m1 0h11m5 0h8m1 0h9m1 0h29m1 0h16m1 0h30m3 0h4m1 0h6M1128 669h3m3 0h3m3 0h4m9 0h16m5 0h13m4 0h4m3 0h3m6 0h5m10 0h5m3 0h10m1 0h9m1 0h3m1 0h3m2 0h4m3 0h6m5 0h4m4 0h12m1 0h42m1 0h5m2 0h19m3 0h5m1 0h10m7 0h16m1 0h11m2 0h13m1 0h9m1 0h3m7 0h21M1126 670h4m3 0h13m2 0h18m5 0h8m3 0h13m1 0h5m2 0h7m8 0h10m3 0h8m2 0h3m4 0h5m3 0h12m6 0h35m1 0h8m5 0h3m7 0h16m1 0h18m1 0h9m5 0h8m6 0h3m1 0h17m4 0h5m3 0h13m2 0h18m2 0h13M1097 671h3m28 0h12m3 0h3m3 0h9m1 0h17m1 0h14m3 0h10m1 0h7m3 0h4m4 0h8m2 0h9m2 0h9m2 0h70m2 0h25m2 0h7m1 0h4m3 0h7m2 0h5m1 0h14m4 0h33m3 0h5m2 0h4m4 0h22m1 0h6M1131 672h3m3 0h3m4 0h23m3 0h6m4 0h3m3 0h3m4 0h3m1 0h27m4 0h11m3 0h5m3 0h3m2 0h4m2 0h21m3 0h15m4 0h9m1 0h7m1 0h5m1 0h5m2 0h4m1 0h3m4 0h5m5 0h10m1 0h5m3 0h15m3 0h14m2 0h3m1 0h13m3 0h3m1 0h8m1 0h3m2 0h3m2 0h15m1 0h7m2 0h3M1139 673h3m6 0h4m2 0h3m4 0h3m1 0h6m4 0h7m4 0h3m1 0h8m5 0h16m6 0h22m3 0h19m1 0h5m6 0h18m4 0h17m5 0h5m1 0h14m3 0h8m7 0h6m1 0h15m3 0h4m5 0h27m4 0h11m2 0h9m1 0h4m2 0h5m1 0h5m1 0h6m3 0h3M1129 674h3m5 0h3m1 0h6m1 0h3m2 0h6m7 0h7m2 0h19m1 0h16m1 0h5m6 0h3m2 0h3m2 0h8m1 0h4m2 0h3m2 0h3m5 0h6m1 0h8m3 0h7m1 0h3m3 0h13m3 0h3m3 0h3m4 0h4m1 0h3m3 0h11m4 0h3m1 0h3m3 0h3m4 0h13m2 0h28m1 0h3m4 0h15m1 0h17m1 0h19m1 0h4m1 0h4M1134 675h3m19 0h3m5 0h3m8 0h9m3 0h4m1 0h8m3 0h17m1 0h14m1 0h12m6 0h6m1 0h7m2 0h6m1 0h3m2 0h4m1 0h3m4 0h16m1 0h11m1 0h10m1 0h3m3 0h7m3 0h24m2 0h14m1 0h3m1 0h3m1 0h3m2 0h6m1 0h53m2 0h8m2 0h6M1135 676h3m8 0h3m1 0h14m2 0h4m1 0h26m2 0h6m4 0h3m2 0h6m1 0h3m1 0h3m1 0h15m1 0h5m1 0h22m7 0h5m1 0h3m7 0h6m5 0h8m4 0h11m2 0h19m1 0h4m2 0h5m1 0h33m3 0h9m1 0h4m7 0h22m1 0h5m2 0h9m1 0h11m2 0h6M1106 677h3m10 0h3m2 0h3m8 0h3m1 0h3m4 0h7m1 0h7m2 0h6m1 0h6m2 0h15m3 0h6m5 0h3m3 0h6m2 0h11m1 0h9m4 0h6m1 0h5m3 0h3m3 0h16m1 0h3m5 0h3m1 0h3m1 0h3m3 0h6m2 0h7m1 0h4m2 0h3m1 0h42m1 0h3m1 0h4m1 0h3m3 0h8m1 0h26m1 0h5m4 0h12m7 0h19m1 0h8M1123 678h3m2 0h3m22 0h6m3 0h3m7 0h6m1 0h3m5 0h6m1 0h3m2 0h15m4 0h7m3 0h6m3 0h30m1 0h3m9 0h15m1 0h3m2 0h3m3 0h8m5 0h10m1 0h3m2 0h12m3 0h21m1 0h52m1 0h12m1 0h6m1 0h35M1113 679h3m13 0h3m2 0h3m6 0h3m2 0h7m1 0h3m1 0h3m1 0h6m9 0h7m5 0h7m2 0h7m3 0h20m1 0h8m1 0h4m2 0h4m4 0h10m1 0h6m2 0h3m2 0h9m1 0h3m1 0h13m1 0h5m2 0h8m3 0h7m1 0h17m7 0h3m1 0h6m3 0h23m1 0h16m1 0h4m1 0h3m1 0h24m1 0h5m1 0h19m2 0h10M1115 680h3m7 0h3m8 0h3m4 0h3m2 0h13m1 0h3m1 0h3m3 0h3m1 0h3m7 0h4m1 0h11m1 0h8m5 0h3m2 0h4m1 0h15m6 0h16m3 0h4m4 0h9m4 0h5m1 0h4m1 0h6m1 0h6m2 0h24m1 0h13m2 0h24m3 0h15m1 0h10m1 0h3m4 0h6m1 0h27m1 0h12m7 0h11M1115 681h3m7 0h3m1 0h7m7 0h3m1 0h17m1 0h3m5 0h3m6 0h3m3 0h4m7 0h3m6 0h7m8 0h4m1 0h7m1 0h4m2 0h4m2 0h3m5 0h6m1 0h11m2 0h7m2 0h3m1 0h9m2 0h15m2 0h12m4 0h6m2 0h7m2 0h5m2 0h4m3 0h19m1 0h22m2 0h16m2 0h13m1 0h23m1 0h16M1137 682h3m16 0h3m4 0h8m3 0h8m4 0h4m9 0h8m5 0h15m1 0h9m1 0h3m1 0h18m1 0h9m1 0h3m1 0h7m1 0h6m3 0h3m4 0h3m5 0h20m1 0h4m2 0h6m2 0h5m2 0h12m1 0h14m4 0h44m1 0h10m3 0h14m6 0h10m1 0h12M1138 683h6m4 0h5m3 0h4m3 0h3m2 0h5m3 0h3m12 0h3m1 0h16m1 0h10m1 0h3m3 0h4m1 0h7m3 0h3m1 0h20m3 0h16m3 0h40m1 0h5m2 0h29m1 0h3m1 0h13m6 0h26m1 0h38m1 0h10m2 0h6m2 0h3M1125 684h4m8 0h3m3 0h3m11 0h7m2 0h4m3 0h7m5 0h8m1 0h5m3 0h3m1 0h16m2 0h3m2 0h3m1 0h6m1 0h5m2 0h27m1 0h25m2 0h10m2 0h10m1 0h12m3 0h3m7 0h31m6 0h15m1 0h14m2 0h24m1 0h3m1 0h32M1132 685h6m2 0h4m8 0h6m4 0h4m8 0h3m1 0h4m3 0h14m2 0h3m7 0h25m1 0h3m1 0h9m4 0h4m9 0h4m1 0h16m2 0h3m2 0h12m3 0h4m1 0h8m2 0h13m1 0h10m1 0h16m2 0h5m1 0h8m1 0h8m3 0h5m1 0h3m1 0h14m2 0h12m5 0h12m5 0h18m4 0h5M1114 686h3m3 0h3m25 0h6m2 0h8m5 0h4m1 0h3m2 0h3m3 0h4m8 0h4m3 0h12m1 0h5m3 0h12m2 0h9m5 0h13m1 0h38m3 0h14m2 0h7m2 0h19m2 0h4m2 0h3m3 0h5m1 0h5m1 0h7m1 0h11m1 0h25m2 0h5m1 0h12m1 0h3m2 0h3m1 0h22M1132 687h3m19 0h10m6 0h4m6 0h6m7 0h4m3 0h4m6 0h3m5 0h3m2 0h10m5 0h3m1 0h3m4 0h6m3 0h4m1 0h4m4 0h8m1 0h6m1 0h15m3 0h13m1 0h22m1 0h13m1 0h3m1 0h3m1 0h7m2 0h12m2 0h43m1 0h15m1 0h10m1 0h23M1125 688h3m15 0h4m4 0h3m1 0h3m1 0h5m18 0h3m13 0h3m1 0h3m1 0h11m1 0h22m1 0h3m4 0h3m1 0h6m1 0h15m4 0h3m1 0h3m1 0h3m1 0h5m2 0h33m2 0h6m1 0h21m2 0h14m1 0h23m1 0h42m1 0h21m1 0h6m1 0h4m1 0h4M1130 689h3m10 0h3m2 0h4m2 0h3m1 0h6m3 0h3m9 0h3m8 0h12m2 0h4m5 0h10m5 0h3m3 0h3m1 0h3m2 0h6m4 0h7m1 0h6m1 0h34m1 0h24m2 0h3m1 0h13m3 0h3m1 0h4m2 0h5m4 0h19m1 0h13m1 0h4m1 0h20m2 0h32m3 0h18M1118 690h3m22 0h3m8 0h6m3 0h3m2 0h7m1 0h3m1 0h4m1 0h6m7 0h6m6 0h3m1 0h9m2 0h3m3 0h3m1 0h4m3 0h8m1 0h3m4 0h4m1 0h10m3 0h7m2 0h12m1 0h12m2 0h3m5 0h34m4 0h3m1 0h46m1 0h9m2 0h3m1 0h5m1 0h3m1 0h18m1 0h4m2 0h17m2 0h3M1136 691h3m2 0h3m3 0h7m17 0h3m1 0h5m2 0h6m2 0h4m6 0h13m2 0h7m10 0h5m1 0h9m1 0h34m1 0h7m1 0h17m2 0h3m2 0h24m1 0h24m3 0h3m2 0h3m1 0h7m5 0h14m1 0h42m1 0h3m1 0h31M1129 692h5m9 0h3m2 0h3m10 0h3m5 0h8m10 0h3m2 0h3m1 0h17m1 0h3m2 0h3m1 0h11m7 0h13m2 0h4m3 0h4m1 0h3m2 0h5m1 0h3m2 0h13m1 0h23m6 0h10m4 0h3m4 0h11m5 0h14m2 0h40m3 0h14m3 0h16m1 0h21M1117 693h3m12 0h5m10 0h3m7 0h9m4 0h3m1 0h3m1 0h3m4 0h3m3 0h8m3 0h5m3 0h3m2 0h14m1 0h6m4 0h11m6 0h15m1 0h3m3 0h4m1 0h20m1 0h7m2 0h10m2 0h18m2 0h54m1 0h26m1 0h11m2 0h23m1 0h7m1 0h7M1146 694h3m5 0h8m16 0h9m2 0h3m3 0h11m1 0h10m1 0h8m1 0h3m2 0h6m4 0h3m1 0h3m3 0h5m1 0h4m3 0h3m4 0h3m6 0h9m2 0h5m1 0h4m1 0h12m2 0h11m4 0h17m3 0h30m1 0h5m1 0h3m1 0h11m1 0h19m1 0h10m7 0h21m2 0h10m3 0h4M1131 695h3m21 0h3m5 0h3m1 0h9m3 0h3m3 0h3m5 0h12m1 0h12m2 0h3m2 0h3m1 0h7m2 0h3m2 0h6m1 0h3m6 0h5m3 0h6m2 0h24m1 0h5m4 0h3m5 0h5m2 0h3m3 0h6m1 0h14m1 0h3m3 0h3m1 0h9m2 0h7m2 0h45m1 0h13m1 0h4m1 0h15m3 0h10m2 0h4M1152 696h6m3 0h3m4 0h7m4 0h3m2 0h5m1 0h6m3 0h6m1 0h6m7 0h6m1 0h3m8 0h3m5 0h8m5 0h3m2 0h4m2 0h13m2 0h11m4 0h8m3 0h13m3 0h3m5 0h12m1 0h11m1 0h3m1 0h11m1 0h10m2 0h3m6 0h6m2 0h3m1 0h19m1 0h42m2 0h9M1120 697h3m22 0h4m10 0h7m5 0h3m3 0h5m1 0h3m2 0h6m3 0h3m13 0h3m7 0h10m1 0h14m2 0h6m1 0h7m3 0h3m1 0h14m1 0h12m1 0h26m2 0h3m2 0h3m3 0h3m2 0h3m6 0h5m4 0h5m1 0h17m2 0h5m1 0h31m1 0h30m2 0h24M1139 698h3m5 0h3m1 0h14m1 0h6m1 0h11m1 0h3m1 0h8m1 0h4m3 0h4m6 0h4m5 0h11m1 0h6m1 0h9m2 0h11m2 0h3m1 0h8m2 0h28m1 0h3m1 0h10m1 0h6m1 0h23m2 0h17m5 0h16m2 0h12m1 0h12m5 0h37m3 0h10m1 0h3M1127 699h3m8 0h3m5 0h3m9 0h5m1 0h6m1 0h6m15 0h6m12 0h5m4 0h5m3 0h12m3 0h12m2 0h5m3 0h22m4 0h20m4 0h9m2 0h9m1 0h3m2 0h11m1 0h3m2 0h4m1 0h18m1 0h3m1 0h6m2 0h7m1 0h30m2 0h14m1 0h6m1 0h26M1110 700h3m16 0h3m21 0h6m1 0h4m1 0h6m3 0h13m2 0h5m5 0h3m1 0h7m1 0h13m1 0h4m5 0h3m10 0h5m5 0h9m5 0h3m1 0h14m2 0h3m4 0h5m1 0h6m1 0h5m1 0h17m1 0h11m2 0h7m3 0h9m3 0h32m1 0h7m3 0h19m4 0h12m4 0h6m4 0h3m4 0h3m1 0h8M1124 701h3m15 0h3m11 0h4m3 0h4m8 0h13m3 0h7m2 0h6m2 0h3m5 0h11m1 0h3m9 0h3m1 0h12m1 0h3m7 0h7m5 0h12m2 0h35m1 0h21m2 0h3m1 0h48m7 0h9m3 0h44m1 0h11M1133 702h4m15 0h3m5 0h3m5 0h11m1 0h6m4 0h7m1 0h7m1 0h10m5 0h6m1 0h3m5 0h3m4 0h4m1 0h6m3 0h8m1 0h3m2 0h3m3 0h6m1 0h12m4 0h6m2 0h6m1 0h3m1 0h20m2 0h12m5 0h4m2 0h12m4 0h3m1 0h28m1 0h8m1 0h17m2 0h16m1 0h13m1 0h8M1136 703h3m1 0h3m8 0h13m2 0h10m1 0h3m3 0h10m1 0h26m4 0h3m2 0h3m2 0h7m1 0h7m2 0h11m2 0h3m2 0h23m1 0h8m1 0h41m1 0h6m2 0h6m3 0h7m5 0h3m2 0h3m4 0h13m1 0h6m1 0h3m11 0h17m3 0h5m2 0h8m1 0h3m2 0h3m5 0h3m5 0h5M1123 704h3m13 0h3m13 0h4m5 0h7m4 0h4m1 0h8m3 0h5m5 0h5m1 0h3m3 0h3m1 0h8m1 0h10m2 0h13m1 0h5m1 0h7m4 0h5m4 0h3m1 0h3m5 0h13m1 0h7m1 0h6m5 0h10m2 0h6m4 0h3m1 0h17m5 0h16m2 0h4m1 0h17m4 0h12m2 0h30m1 0h18M1126 705h3m3 0h3m19 0h5m9 0h3m2 0h13m1 0h8m4 0h3m2 0h3m4 0h6m5 0h6m5 0h3m3 0h3m8 0h6m3 0h11m2 0h14m1 0h6m1 0h5m6 0h3m2 0h7m1 0h3m1 0h7m1 0h3m2 0h9m1 0h3m2 0h20m2 0h9m3 0h28m1 0h6m1 0h18m3 0h4m2 0h4m2 0h14m1 0h6m2 0h5M1158 706h3m8 0h6m4 0h8m1 0h4m1 0h12m4 0h3m9 0h3m4 0h9m1 0h4m10 0h3m10 0h13m6 0h3m1 0h9m2 0h12m2 0h18m9 0h33m4 0h3m1 0h28m1 0h5m2 0h5m1 0h3m1 0h3m2 0h3m2 0h5m1 0h9m3 0h8m1 0h3m1 0h4m2 0h7M1153 707h3m1 0h6m1 0h3m3 0h5m1 0h3m4 0h3m1 0h8m10 0h3m2 0h3m4 0h5m1 0h4m5 0h8m1 0h5m2 0h5m2 0h8m1 0h7m2 0h3m3 0h11m1 0h7m2 0h3m2 0h3m1 0h7m4 0h3m1 0h9m1 0h3m1 0h9m2 0h10m1 0h6m6 0h8m1 0h23m3 0h9m1 0h36m1 0h5m1 0h8m1 0h8m1 0h3M1126 708h3m11 0h3m8 0h3m8 0h4m8 0h3m11 0h13m2 0h3m4 0h19m1 0h8m2 0h19m1 0h13m1 0h12m4 0h11m1 0h6m2 0h3m3 0h13m1 0h3m1 0h3m2 0h21m1 0h3m1 0h3m1 0h8m1 0h10m1 0h12m1 0h16m3 0h18m7 0h6m3 0h18m1 0h3M1127 709h3m6 0h3m3 0h6m2 0h3m2 0h8m1 0h11m9 0h4m1 0h13m3 0h9m3 0h9m1 0h14m3 0h16m4 0h20m4 0h3m3 0h15m1 0h5m1 0h9m2 0h27m1 0h3m4 0h23m3 0h9m1 0h9m1 0h3m1 0h5m3 0h39m6 0h17M1141 710h3m2 0h7m3 0h7m4 0h4m2 0h8m1 0h5m6 0h18m4 0h7m3 0h7m8 0h3m1 0h8m7 0h3m2 0h5m3 0h3m1 0h12m3 0h31m4 0h5m2 0h34m5 0h21m2 0h35m4 0h32m5 0h3m1 0h5M1114 711h3m9 0h3m7 0h3m16 0h6m3 0h5m11 0h6m3 0h3m4 0h7m4 0h3m3 0h4m10 0h3m5 0h3m2 0h5m7 0h9m2 0h8m3 0h6m1 0h10m1 0h26m2 0h3m1 0h20m2 0h20m3 0h3m2 0h3m1 0h21m1 0h13m1 0h9m1 0h11m2 0h11m1 0h14m3 0h3m1 0h4m1 0h7M1129 712h3m16 0h4m1 0h6m4 0h3m3 0h4m2 0h6m7 0h6m4 0h11m3 0h11m6 0h3m2 0h3m3 0h3m3 0h3m6 0h5m8 0h10m2 0h3m1 0h14m8 0h4m1 0h3m2 0h3m3 0h5m2 0h3m3 0h6m6 0h12m1 0h5m1 0h8m1 0h7m1 0h8m4 0h14m1 0h3m2 0h7m2 0h7m2 0h3m3 0h6m2 0h8m1 0h5m3 0h9m1 0h3m1 0h3M1138 713h3m1 0h3m12 0h3m15 0h6m3 0h3m4 0h10m1 0h3m2 0h3m6 0h6m3 0h3m7 0h8m13 0h3m1 0h3m4 0h3m1 0h3m1 0h5m2 0h3m3 0h23m1 0h18m1 0h4m4 0h5m3 0h11m1 0h3m2 0h8m1 0h8m2 0h5m4 0h14m1 0h8m1 0h10m1 0h13m3 0h13m5 0h5m1 0h13M1118 714h3m31 0h6m1 0h3m23 0h5m9 0h7m2 0h3m11 0h5m2 0h3m7 0h5m3 0h5m11 0h18m1 0h10m1 0h3m2 0h10m3 0h16m2 0h8m2 0h8m2 0h3m2 0h12m1 0h8m1 0h10m3 0h23m4 0h7m2 0h22m1 0h16m6 0h12M1161 715h8m6 0h3m1 0h12m7 0h5m11 0h5m4 0h8m18 0h3m2 0h6m3 0h10m2 0h13m3 0h11m2 0h9m2 0h3m4 0h4m2 0h21m2 0h9m12 0h7m3 0h4m10 0h3m4 0h3m1 0h24m2 0h3m2 0h3m2 0h9m1 0h3m1 0h6m2 0h16M1140 716h3m8 0h3m5 0h4m1 0h3m19 0h13m6 0h8m6 0h5m6 0h5m7 0h3m2 0h6m1 0h4m3 0h4m6 0h12m1 0h13m4 0h6m2 0h3m6 0h12m1 0h6m5 0h4m3 0h6m1 0h16m1 0h15m1 0h6m1 0h20m2 0h15m2 0h3m3 0h4m1 0h24m2 0h7M1139 717h4m2 0h3m8 0h4m1 0h3m3 0h4m1 0h6m3 0h8m5 0h5m5 0h3m3 0h3m2 0h3m5 0h3m1 0h3m4 0h3m1 0h3m5 0h6m2 0h3m5 0h3m2 0h23m7 0h5m6 0h5m1 0h3m2 0h7m2 0h5m2 0h3m4 0h3m1 0h5m2 0h19m2 0h12m1 0h6m2 0h12m5 0h3m5 0h15m1 0h7m1 0h22m1 0h9m1 0h3M1139 718h3m3 0h6m2 0h3m2 0h3m16 0h3m5 0h3m3 0h8m4 0h3m5 0h3m11 0h3m2 0h3m7 0h4m16 0h3m2 0h3m2 0h5m7 0h3m1 0h3m2 0h13m5 0h4m2 0h5m9 0h12m2 0h4m1 0h6m1 0h3m5 0h3m7 0h3m4 0h3m2 0h7m1 0h3m1 0h17m1 0h14m1 0h3m1 0h9m2 0h18m1 0h16M1168 719h5m1 0h7m4 0h13m7 0h3m2 0h3m2 0h6m5 0h3m4 0h4m4 0h3m3 0h6m2 0h3m5 0h3m4 0h12m1 0h3m1 0h4m1 0h3m1 0h3m2 0h3m4 0h9m2 0h3m10 0h21m3 0h9m1 0h4m3 0h7m7 0h19m1 0h14m7 0h12m2 0h3m4 0h31M1135 720h6m11 0h3m5 0h3m6 0h7m2 0h3m1 0h3m2 0h7m3 0h3m3 0h7m5 0h6m4 0h3m1 0h6m1 0h6m1 0h4m4 0h3m5 0h10m1 0h6m4 0h8m5 0h3m4 0h11m1 0h8m4 0h3m4 0h9m5 0h3m1 0h3m2 0h7m1 0h20m2 0h6m3 0h12m2 0h6m3 0h6m1 0h3m2 0h3m1 0h4m4 0h19m7 0h6m3 0h7M1132 721h3m22 0h3m11 0h16m6 0h8m3 0h6m12 0h5m4 0h17m1 0h9m5 0h4m3 0h18m6 0h4m3 0h7m4 0h4m3 0h3m2 0h4m4 0h8m1 0h4m1 0h15m2 0h3m1 0h4m2 0h4m7 0h8m1 0h6m3 0h3m1 0h30m1 0h13m4 0h3m5 0h19M1148 722h5m7 0h5m2 0h3m1 0h3m11 0h3m2 0h7m3 0h3m9 0h3m2 0h4m2 0h6m3 0h4m10 0h3m8 0h3m6 0h3m8 0h5m1 0h4m4 0h3m5 0h18m1 0h13m2 0h6m1 0h10m2 0h18m4 0h13m6 0h27m2 0h3m1 0h6m2 0h6m1 0h13m2 0h5m3 0h3m1 0h3m2 0h5m1 0h3M1140 723h3m28 0h5m9 0h3m10 0h3m2 0h6m11 0h9m10 0h3m17 0h4m8 0h6m1 0h12m3 0h11m3 0h5m1 0h8m2 0h3m9 0h3m1 0h3m1 0h3m1 0h3m2 0h8m2 0h5m1 0h3m2 0h6m4 0h15m1 0h7m1 0h6m4 0h13m2 0h4m3 0h3m2 0h28m2 0h8M1141 724h3m10 0h3m11 0h3m6 0h5m1 0h12m2 0h9m10 0h3m3 0h5m5 0h8m2 0h4m6 0h3m5 0h5m3 0h3m2 0h17m5 0h5m2 0h6m7 0h3m3 0h10m4 0h14m3 0h5m5 0h11m1 0h3m1 0h3m2 0h11m3 0h11m1 0h3m6 0h3m1 0h10m5 0h3m1 0h5m2 0h5m1 0h7m1 0h3m1 0h3m1 0h8M1147 725h3m11 0h9m3 0h3m1 0h3m3 0h6m5 0h6m4 0h6m1 0h6m12 0h5m8 0h4m2 0h3m1 0h3m3 0h3m4 0h6m11 0h11m2 0h6m5 0h6m3 0h4m1 0h16m1 0h5m1 0h3m1 0h7m1 0h5m2 0h15m7 0h6m2 0h14m2 0h10m3 0h8m9 0h7m4 0h8m11 0h3m1 0h4m1 0h4M1162 726h3m6 0h9m2 0h3m1 0h4m3 0h3m7 0h5m1 0h3m12 0h3m1 0h3m7 0h3m4 0h3m3 0h5m6 0h12m5 0h5m1 0h10m9 0h15m1 0h9m2 0h5m2 0h6m4 0h7m2 0h6m6 0h6m1 0h3m2 0h6m2 0h4m6 0h4m2 0h3m4 0h3m5 0h3m2 0h7m8 0h15m2 0h5m4 0h5m5 0h4M1157 727h7m13 0h9m2 0h5m2 0h6m3 0h3m2 0h3m1 0h3m1 0h4m9 0h3m11 0h5m12 0h3m4 0h3m3 0h4m2 0h9m1 0h3m18 0h21m4 0h3m1 0h22m1 0h10m1 0h5m1 0h10m3 0h3m2 0h16m1 0h4m3 0h9m3 0h3m5 0h18m1 0h7m1 0h5m2 0h5M1148 728h3m3 0h3m7 0h3m1 0h3m2 0h3m15 0h10m1 0h3m3 0h11m1 0h3m8 0h4m12 0h3m5 0h8m1 0h14m4 0h3m5 0h14m3 0h8m4 0h8m8 0h5m1 0h16m1 0h15m1 0h3m7 0h13m4 0h5m3 0h3m1 0h5m1 0h7m1 0h3m1 0h10m2 0h3m1 0h10m4 0h7m2 0h11M1152 729h3m13 0h9m5 0h3m4 0h3m12 0h3m1 0h3m5 0h4m1 0h4m1 0h13m3 0h4m2 0h5m9 0h3m7 0h9m2 0h4m1 0h3m1 0h8m2 0h10m1 0h6m2 0h4m4 0h10m3 0h3m4 0h3m1 0h6m6 0h3m2 0h9m3 0h5m3 0h3m1 0h10m1 0h5m1 0h4m3 0h9m6 0h3m3 0h10m2 0h11m2 0h6m2 0h3M1121 730h3m5 0h3m23 0h4m1 0h5m4 0h3m5 0h5m1 0h8m2 0h6m3 0h7m6 0h3m7 0h3m4 0h3m1 0h3m1 0h3m3 0h3m10 0h7m2 0h3m1 0h4m1 0h25m2 0h3m10 0h6m2 0h8m3 0h3m1 0h4m5 0h6m1 0h8m1 0h5m1 0h6m2 0h4m4 0h7m1 0h3m2 0h5m1 0h4m1 0h18m3 0h6m5 0h13m1 0h8m3 0h10M1180 731h5m5 0h3m9 0h3m8 0h3m5 0h6m2 0h6m3 0h7m5 0h5m3 0h3m5 0h4m1 0h20m1 0h7m3 0h5m6 0h4m3 0h3m1 0h3m1 0h3m11 0h4m8 0h8m3 0h3m1 0h8m1 0h4m3 0h9m3 0h3m1 0h6m5 0h6m4 0h15m1 0h9m4 0h3m5 0h4m4 0h4m2 0h3m2 0h4M1152 732h8m20 0h4m2 0h6m1 0h4m5 0h3m1 0h3m1 0h8m4 0h4m5 0h3m2 0h3m20 0h10m2 0h3m2 0h3m2 0h3m2 0h7m3 0h3m1 0h8m3 0h12m1 0h3m5 0h11m4 0h9m5 0h4m2 0h5m1 0h3m2 0h7m1 0h3m5 0h4m3 0h10m4 0h9m3 0h7m4 0h10m2 0h12m2 0h5m1 0h8m1 0h3M1165 733h5m16 0h3m2 0h6m7 0h5m1 0h3m1 0h12m3 0h6m5 0h5m2 0h3m7 0h5m4 0h14m2 0h3m7 0h3m1 0h5m6 0h6m4 0h4m6 0h8m1 0h4m3 0h8m3 0h9m2 0h3m5 0h15m3 0h3m3 0h9m9 0h3m3 0h4m4 0h4m3 0h3m1 0h12m1 0h11m1 0h5m3 0h7M1151 734h3m9 0h3m10 0h3m1 0h5m9 0h6m6 0h6m1 0h4m10 0h3m10 0h3m10 0h4m3 0h4m4 0h3m4 0h4m1 0h3m1 0h3m3 0h11m2 0h21m5 0h5m1 0h7m7 0h3m7 0h3m2 0h3m1 0h5m3 0h4m6 0h5m5 0h3m1 0h4m3 0h9m8 0h10m3 0h3m1 0h6m1 0h3m2 0h3m4 0h7m3 0h3m4 0h4M1144 735h3m21 0h3m13 0h3m2 0h5m5 0h3m11 0h8m17 0h4m19 0h3m3 0h3m1 0h9m4 0h3m1 0h6m2 0h3m5 0h4m1 0h13m5 0h3m4 0h8m4 0h10m1 0h3m5 0h3m1 0h6m7 0h8m10 0h3m6 0h4m2 0h6m4 0h3m2 0h3m1 0h3m1 0h13m3 0h7m7 0h6m1 0h7M1147 736h3m2 0h3m1 0h6m22 0h3m4 0h3m5 0h7m18 0h3m1 0h3m14 0h3m1 0h3m2 0h8m12 0h7m3 0h5m2 0h5m2 0h8m9 0h3m1 0h3m6 0h5m8 0h7m3 0h4m1 0h10m1 0h4m4 0h12m7 0h7m3 0h6m2 0h6m5 0h3m3 0h11m2 0h5m1 0h16m1 0h15M1161 737h3m7 0h3m2 0h3m5 0h5m8 0h8m5 0h5m2 0h3m12 0h3m13 0h4m1 0h3m13 0h6m4 0h3m1 0h4m2 0h5m2 0h6m4 0h9m5 0h11m2 0h4m1 0h3m3 0h3m18 0h6m8 0h3m1 0h10m15 0h9m2 0h3m2 0h8m1 0h7m4 0h6m5 0h20m1 0h6M1141 738h3m2 0h3m18 0h3m10 0h8m2 0h3m2 0h3m1 0h4m1 0h3m1 0h3m8 0h3m3 0h3m12 0h3m7 0h11m8 0h4m2 0h3m4 0h4m1 0h13m7 0h4m12 0h4m2 0h7m13 0h4m7 0h3m4 0h14m1 0h3m2 0h7m5 0h10m1 0h4m1 0h3m4 0h10m6 0h21m1 0h21M1149 739h3m14 0h3m14 0h3m2 0h3m3 0h3m2 0h5m3 0h3m6 0h3m5 0h3m3 0h3m6 0h3m6 0h3m11 0h3m1 0h3m5 0h11m2 0h5m9 0h9m4 0h3m4 0h8m8 0h8m1 0h13m6 0h12m2 0h4m1 0h3m7 0h9m2 0h3m5 0h3m1 0h8m3 0h3m4 0h3m4 0h6m1 0h4m1 0h10m1 0h3m1 0h12M1177 740h3m1 0h3m7 0h3m8 0h3m5 0h14m3 0h5m18 0h3m8 0h6m7 0h5m5 0h6m6 0h12m9 0h16m1 0h12m9 0h6m3 0h3m7 0h6m1 0h3m7 0h8m1 0h3m2 0h12m1 0h3m1 0h3m1 0h6m1 0h3m1 0h7m4 0h3m3 0h3m4 0h6m11 0h3M1156 741h3m9 0h3m13 0h6m7 0h8m4 0h8m18 0h3m2 0h3m7 0h3m1 0h3m10 0h3m6 0h8m5 0h6m3 0h3m8 0h10m3 0h3m1 0h3m4 0h5m1 0h6m1 0h3m7 0h10m1 0h3m6 0h3m2 0h8m5 0h3m5 0h7m2 0h3m3 0h5m7 0h14m4 0h11m1 0h9m4 0h3m1 0h5M1164 742h3m10 0h3m4 0h5m6 0h3m3 0h4m11 0h3m7 0h3m30 0h5m1 0h17m3 0h6m3 0h7m4 0h6m3 0h4m1 0h14m7 0h5m4 0h7m4 0h3m3 0h7m6 0h5m2 0h4m7 0h3m6 0h6m1 0h7m15 0h4m1 0h9m4 0h12m1 0h3m2 0h3M1164 743h4m12 0h5m8 0h6m3 0h4m5 0h3m8 0h3m2 0h3m20 0h6m16 0h8m1 0h4m1 0h3m13 0h12m1 0h3m1 0h4m5 0h5m1 0h5m5 0h10m1 0h3m1 0h3m1 0h16m8 0h3m21 0h10m2 0h4m1 0h5m3 0h3m1 0h5m2 0h3m1 0h15m2 0h10M1161 744h3m4 0h5m5 0h6m3 0h5m4 0h3m25 0h3m1 0h3m1 0h3m18 0h3m1 0h3m4 0h4m1 0h4m2 0h3m3 0h16m8 0h3m2 0h3m2 0h3m5 0h4m2 0h5m1 0h3m9 0h3m1 0h14m6 0h3m6 0h8m2 0h3m3 0h8m1 0h3m4 0h3m5 0h7m8 0h3m2 0h5m2 0h3m1 0h5m14 0h7M1155 745h3m29 0h3m12 0h6m11 0h3m6 0h3m4 0h3m3 0h3m10 0h5m9 0h3m3 0h6m2 0h6m2 0h4m4 0h3m2 0h14m4 0h3m1 0h3m1 0h3m1 0h3m4 0h3m7 0h5m3 0h5m2 0h5m1 0h3m5 0h4m7 0h3m2 0h3m8 0h18m4 0h6m2 0h4m1 0h3m3 0h6m2 0h3m3 0h3m2 0h6m1 0h3M1164 746h6m2 0h5m1 0h3m8 0h4m7 0h5m3 0h3m6 0h3m20 0h3m20 0h3m4 0h12m5 0h3m4 0h3m25 0h3m5 0h3m3 0h4m5 0h3m4 0h3m1 0h5m1 0h4m3 0h3m13 0h6m2 0h3m1 0h9m10 0h3m3 0h3m2 0h9m5 0h9m1 0h15m1 0h12M1154 747h3m9 0h3m10 0h6m27 0h3m14 0h3m19 0h4m5 0h3m11 0h10m6 0h3m3 0h6m3 0h4m8 0h4m14 0h5m2 0h3m1 0h5m1 0h3m14 0h3m5 0h3m1 0h3m1 0h3m5 0h3m7 0h5m3 0h3m3 0h9m3 0h3m1 0h10m3 0h9m5 0h5m6 0h6M1164 748h3m11 0h3m12 0h5m6 0h4m1 0h5m7 0h3m1 0h3m7 0h3m34 0h5m2 0h6m1 0h3m5 0h4m2 0h6m3 0h6m8 0h3m11 0h3m1 0h3m6 0h7m6 0h8m1 0h3m2 0h7m4 0h6m4 0h7m5 0h6m3 0h3m2 0h4m2 0h21m3 0h5m4 0h3m2 0h3m3 0h5M1158 749h3m19 0h3m10 0h5m15 0h3m19 0h4m28 0h3m13 0h7m5 0h5m3 0h5m2 0h3m2 0h6m18 0h9m4 0h6m1 0h16m2 0h3m2 0h3m3 0h6m1 0h3m5 0h3m1 0h4m16 0h3m1 0h3m4 0h4m2 0h3m1 0h6m4 0h3m2 0h3m6 0h5M1163 750h3m9 0h6m2 0h3m8 0h3m3 0h5m3 0h3m5 0h3m2 0h5m4 0h5m27 0h6m3 0h4m6 0h3m11 0h6m1 0h3m1 0h3m4 0h3m3 0h3m5 0h7m4 0h4m7 0h9m1 0h9m2 0h3m3 0h5m1 0h3m7 0h3m4 0h3m1 0h6m5 0h3m6 0h11m1 0h8m3 0h3m9 0h5m5 0h3m2 0h5M1164 751h3m12 0h3m4 0h3m4 0h3m1 0h5m13 0h3m5 0h3m3 0h3m1 0h3m14 0h3m6 0h3m5 0h3m6 0h19m1 0h7m1 0h6m2 0h3m1 0h10m1 0h4m4 0h3m5 0h3m4 0h9m1 0h3m6 0h3m6 0h3m1 0h3m9 0h9m1 0h3m2 0h9m3 0h3m3 0h3m5 0h3m3 0h4m2 0h6m3 0h10m1 0h3M1179 752h3m12 0h3m5 0h5m12 0h4m12 0h3m6 0h3m9 0h3m6 0h3m3 0h3m6 0h3m3 0h4m11 0h3m4 0h3m1 0h3m2 0h3m11 0h5m11 0h3m3 0h3m12 0h8m6 0h4m7 0h7m3 0h8m1 0h6m2 0h16m1 0h3m6 0h3m7 0h10m7 0h3m2 0h4M1161 753h3m10 0h3m6 0h3m4 0h4m4 0h4m4 0h3m23 0h3m7 0h3m6 0h3m12 0h6m1 0h5m8 0h5m9 0h3m2 0h3m8 0h9m2 0h11m5 0h3m3 0h11m5 0h3m1 0h3m8 0h6m1 0h3m1 0h6m10 0h3m1 0h6m7 0h11m11 0h3m2 0h3m7 0h7m8 0h6M1171 754h3m4 0h3m5 0h3m59 0h3m14 0h4m4 0h3m6 0h5m1 0h3m6 0h8m9 0h3m4 0h3m9 0h3m2 0h3m13 0h5m2 0h3m3 0h15m5 0h6m12 0h4m3 0h3m1 0h3m4 0h3m1 0h3m1 0h3m1 0h4m3 0h3m11 0h3m4 0h3m2 0h11M1193 755h3m3 0h6m18 0h5m19 0h3m16 0h8m4 0h3m14 0h6m4 0h3m3 0h3m7 0h3m11 0h5m2 0h5m2 0h5m1 0h5m1 0h3m10 0h17m5 0h4m2 0h8m7 0h5m2 0h4m1 0h3m1 0h11m5 0h3m2 0h16m7 0h5M1153 756h3m9 0h3m18 0h3m6 0h3m7 0h6m43 0h3m6 0h3m10 0h3m3 0h3m4 0h3m12 0h3m2 0h3m28 0h6m1 0h3m2 0h3m2 0h3m4 0h3m1 0h9m14 0h5m3 0h7m1 0h7m13 0h3m4 0h6m3 0h3m4 0h7m6 0h8m3 0h4M1180 757h3m3 0h3m6 0h3m17 0h3m10 0h3m11 0h3m1 0h3m1 0h3m11 0h3m14 0h3m4 0h15m2 0h4m3 0h3m6 0h6m1 0h3m13 0h4m7 0h3m1 0h3m8 0h4m6 0h3m1 0h5m5 0h3m5 0h4m15 0h3m1 0h6m3 0h3m3 0h7m8 0h7m5 0h4m6 0h3M1157 758h3m16 0h3m37 0h3m35 0h3m28 0h3m18 0h6m1 0h8m1 0h3m3 0h14m1 0h3m1 0h3m2 0h3m3 0h6m1 0h3m9 0h6m1 0h4m3 0h11m1 0h9m3 0h3m1 0h3m3 0h3m5 0h3m1 0h3m3 0h6m11 0h3M1150 759h3m54 0h3m35 0h3m18 0h3m10 0h3m10 0h4m4 0h3m17 0h6m3 0h3m8 0h3m2 0h3m2 0h3m5 0h9m7 0h6m7 0h3m8 0h5m1 0h3m5 0h4m5 0h3m10 0h7m8 0h6m3 0h3m1 0h3m8 0h3M1184 760h6m20 0h8m48 0h3m5 0h3m2 0h6m13 0h6m7 0h3m9 0h3m5 0h3m2 0h11m1 0h5m21 0h4m3 0h6m6 0h7m2 0h13m2 0h3m7 0h3m14 0h3m4 0h3m4 0h5m4 0h5m2 0h4m1 0h3M1160 761h7m16 0h3m5 0h3m3 0h3m66 0h3m2 0h5m17 0h3m2 0h3m6 0h3m5 0h3m1 0h4m9 0h3m25 0h11m1 0h11m4 0h3m7 0h3m9 0h4m2 0h3m2 0h10m9 0h3m7 0h5m3 0h4m2 0h5m4 0h10M1171 762h3m18 0h6m7 0h3m54 0h3m3 0h3m2 0h5m28 0h3m7 0h3m4 0h3m6 0h3m9 0h3m12 0h3m4 0h3m5 0h10m11 0h3m3 0h3m3 0h4m10 0h3m9 0h6m3 0h5m2 0h5m3 0h3m7 0h3m3 0h9M1176 763h3m20 0h3m5 0h3m5 0h3m6 0h3m43 0h10m2 0h3m2 0h5m8 0h3m4 0h4m1 0h3m4 0h3m36 0h5m17 0h3m3 0h3m8 0h8m3 0h3m1 0h5m1 0h3m7 0h7m6 0h6m4 0h3m2 0h6m5 0h3m4 0h5M1250 764h3m20 0h3m4 0h4m4 0h9m1 0h3m18 0h5m16 0h3m11 0h4m45 0h6m1 0h6m5 0h3m11 0h3m2 0h6m1 0h3m3 0h3m5 0h6m4 0h3m4 0h3M1166 765h5m100 0h3m2 0h3m1 0h3m15 0h3m14 0h3m21 0h3m9 0h3m11 0h3m15 0h3m1 0h9m1 0h3m14 0h6m12 0h3m4 0h3m4 0h8m1 0h3m4 0h6M1206 766h7m50 0h3m7 0h4m10 0h3m1 0h6m12 0h3m9 0h3m1 0h3m7 0h6m5 0h3m10 0h3m7 0h3m5 0h6m10 0h9m2 0h8m11 0h3m24 0h3m1 0h3m12 0h6M1169 767h3m14 0h3m8 0h3m8 0h4m1 0h3m2 0h3m37 0h4m38 0h4m10 0h3m11 0h3m11 0h3m8 0h3m4 0h3m2 0h3m28 0h3m5 0h3m10 0h5m9 0h14m9 0h3m9 0h5M1167 768h3m2 0h3m15 0h4m20 0h3m47 0h3m10 0h3m17 0h3m3 0h3m1 0h3m2 0h3m23 0h4m2 0h3m2 0h3m40 0h3m13 0h3m3 0h8m1 0h3m4 0h3m1 0h5m1 0h3m21 0h3m1 0h14M1162 769h3m17 0h3m49 0h3m28 0h3m10 0h3m8 0h4m1 0h3m9 0h3m5 0h3m7 0h4m3 0h3m20 0h3m1 0h5m2 0h6m2 0h5m3 0h3m1 0h3m3 0h4m6 0h3m1 0h4m7 0h3m2 0h3m7 0h3m4 0h3m7 0h3m14 0h6m5 0h3M1184 770h3m42 0h3m33 0h3m57 0h6m27 0h3m2 0h3m16 0h3m5 0h3m1 0h3m16 0h3m1 0h6m5 0h6m4 0h3m2 0h5m7 0h4m3 0h6m5 0h3m2 0h3M1198 771h6m3 0h3m47 0h3m4 0h3m28 0h3m17 0h8m7 0h8m14 0h4m32 0h4m21 0h3m5 0h3m31 0h3m6 0h3M1180 772h3m27 0h3m2 0h6m48 0h6m7 0h6m4 0h6m13 0h3m9 0h3m4 0h3m2 0h3m8 0h3m21 0h5m2 0h3m2 0h3m11 0h3m7 0h4m15 0h3m8 0h3m1 0h3m8 0h3m6 0h6m1 0h4m6 0h3M1193 773h3m4 0h3m57 0h3m8 0h3m1 0h3m12 0h3m3 0h5m14 0h3m1 0h3m2 0h3m9 0h3m15 0h3m33 0h3m3 0h8m18 0h7m7 0h3m21 0h3m5 0h3m2 0h3M1158 774h3m15 0h3m44 0h3m1 0h3m50 0h8m8 0h3m6 0h5m18 0h5m77 0h5m10 0h4m9 0h3m12 0h3m6 0h3m1 0h6m2 0h3M1152 775h3m14 0h5m11 0h3m12 0h3m79 0h3m8 0h3m10 0h3m21 0h3m12 0h3m22 0h3m19 0h3m2 0h3m10 0h5m16 0h3m3 0h3m14 0h3m1 0h3m1 0h4m10 0h5M1184 776h6m18 0h3m47 0h3m34 0h3m4 0h3m16 0h5m21 0h3m5 0h3m9 0h3m5 0h4m5 0h3m12 0h3m27 0h4m14 0h3m1 0h3m2 0h3m17 0h3M1264 777h3m5 0h4m10 0h4m20 0h3m5 0h4m14 0h3m2 0h3m21 0h3m2 0h4m7 0h3m5 0h3m9 0h5m12 0h3m35 0h3m5 0h3m2 0h5M1174 778h3m17 0h3m37 0h3m5 0h3m24 0h3m9 0h3m3 0h4m13 0h3m19 0h3m7 0h3m2 0h3m6 0h3m19 0h3m3 0h3m7 0h3m33 0h3m17 0h3m1 0h3M1204 779h3m16 0h3m36 0h5m8 0h3m4 0h6m10 0h3m28 0h3m11 0h3m14 0h3m38 0h3m1 0h3m13 0h3m21 0h6m10 0h7m10 0h4M1239 780h3m12 0h3m10 0h3m10 0h3m2 0h3m1 0h3m11 0h6m21 0h3m14 0h5m36 0h3m8 0h4m21 0h3m4 0h7m18 0h3M1186 781h3m15 0h3m59 0h3m9 0h3m6 0h8m12 0h3m26 0h6m17 0h3m11 0h3m17 0h3m21 0h3m5 0h3m4 0h3m12 0h3m6 0h3m12 0h3M1249 782h3m20 0h3m18 0h3m45 0h4m1 0h3m2 0h5m15 0h3m4 0h3m14 0h3m23 0h3m13 0h3m6 0h3m5 0h3m18 0h5M1281 783h3m20 0h3m60 0h3m21 0h3m8 0h3m21 0h3m5 0h3m3 0h3m24 0h3m2 0h3M1222 784h3m51 0h3m52 0h3m2 0h3m107 0h3m8 0h3M1199 785h3m49 0h3m92 0h3m34 0h3m5 0h4m1 0h3m1 0h3m29 0h3m4 0h3m2 0h3m2 0h4m6 0h7M1194 786h3m1 0h3m7 0h3m56 0h3m9 0h3m55 0h3m3 0h3m33 0h3m4 0h3m34 0h3m28 0h3m13 0h3m4 0h5M1180 787h3m105 0h3m89 0h4m9 0h3m7 0h3m1 0h3m6 0h3m26 0h3m15 0h7m7 0h3M1181 788h3m23 0h3m37 0h3m17 0h3m9 0h3m9 0h3m60 0h6m15 0h5m9 0h3m2 0h3m40 0h3m5 0h3m8 0h3m3 0h3m2 0h4m5 0h3M1227 789h3m31 0h3m9 0h3m27 0h3m43 0h3m44 0h3m1 0h3m22 0h3m29 0h3m2 0h3m1 0h4m5 0h3M1272 790h3m23 0h3m6 0h3m48 0h3m3 0h3m19 0h3m6 0h4m37 0h3m26 0h3m3 0h3M1217 791h3m9 0h3m126 0h3m20 0h3m25 0h3m33 0h3m10 0h7m9 0h6M1188 792h3m130 0h3m6 0h3m9 0h3m54 0h3m18 0h3m23 0h3m7 0h3m9 0h3m8 0h3M1349 793h3m87 0h3M1277 794h3m25 0h3m36 0h3m42 0h3m12 0h3m7 0h3m26 0h3m3 0h3m23 0h3m1 0h3M1208 795h3m72 0h3m5 0h6m11 0h3m34 0h3m67 0h3m28 0h3m22 0h6M1172 796h3m88 0h3m84 0h3m53 0h3m17 0h3m14 0h3m1 0h3m11 0h5m2 0h3M1220 797h3m136 0h3m1 0h6m89 0h6m2 0h4m6 0h3M1277 798h3m25 0h3m89 0h3m9 0h5m8 0h3m11 0h3m22 0h3m1 0h3m5 0h3m3 0h3M1361 799h3m15 0h3m15 0h3m47 0h3m11 0h4m6 0h3M1326 800h3m5 0h3m28 0h3m18 0h3m61 0h3m3 0h3m2 0h3M1270 801h3m56 0h3m30 0h3m18 0h3m1 0h3m58 0h3m23 0h3M1369 802h3m50 0h3m19 0h3m5 0h3m13 0h3M1194 803h3m69 0h3m21 0h3m83 0h3m64 0h3M1217 804h3m98 0h3m53 0h3m19 0h4m8 0h3m21 0h3m6 0h3m21 0h3M1455 805h3M1178 806h3m8 0h3m142 0h3m81 0h3m21 0h3m11 0h3M1420 807h3m44 0h6M1294 808h3M1274 809h3m97 0h3m25 0h3M1345 810h3M1404 811h3M1295 812h3m85 0h3m22 0h3m40 0h3m9 0h3m4 0h3m6 0h3M1346 813h3m123 0h3M1309 814h3m13 0h3m81 0h3m19 0h4m20 0h3m13 0h3M1399 815h3m27 0h3M1173 816h3m236 0h3m9 0h3m42 0h3m5 0h3M1181 818h3m244 0h3m35 0h3m7 0h3M1412 819h3M1266 820h3M1404 821h3m63 0h5M1381 822h3m38 0h3M1265 824h3m5 0h3m194 0h3M1207 825h3m71 0h3M1174 826h3m37 0h3m259 0h3M1208 827h3m123 0h3m119 0h3m10 0h3M1309 829h3M1453 830h3M1312 831h3m81 0h3m74 0h5M1474 835h3M1456 837h3m13 0h3M1448 838h3M1279 842h3M1288 846h3M1468 848h3M1328 850h3M1450 862h3M1478 870h3" stroke="#00f" stroke-width="3" fill="none"/></g>
<rect x="716.1" y="228.6" width="1.5" height="1.5" fill="#f00"/>
<path d="M230 146.2L270 163.7L302 175.6L325.2 186.9L340 192.8L350.4 199.5L378.9 213.5L378.9 225.6L350.4 208.2L340 201.2L325.2 194L302 182.1L270 167.3L230 147.4Z" fill="#b0b0ff"/>
<path d="M215 119.8L245 135.3L270 147.1L302 157.8L325.2 166.7L340 173.8L350.4 180.4L378.9 186.6L378.9 225.4L350.4 202.3L340 192.8L325.2 183.9L302 167.3L270 151.3L245 137.8L215 121Z" fill="#ffb0b0"/>
<path d="M80.1 34.8C81.2 36.2 84 39.8 86.8 43C89.6 46.2 93.4 50.8 96.7 54.2C100 57.6 103.8 61.1 106.6 63.6C109.4 66.1 111 67.4 113.5 69.4C116 71.4 118.1 73.3 121.4 75.8C124.7 78.3 128.9 81.3 133.2 84.4C137.5 87.5 142.3 91 147 94.4C151.7 97.8 157.8 102.1 161.6 104.8C165.4 107.5 167 108.6 169.9 110.6C172.8 112.6 175.8 114.8 179.2 117C182.6 119.2 186.5 121.4 190.3 123.6C194.1 125.8 197.7 127.8 201.9 130C206.1 132.2 210.9 134.6 215.4 136.9C219.9 139.2 224.3 141.6 229.2 144.1C234.1 146.6 239.5 149.4 245 152.2C250.5 155 256 157.8 262.2 160.7C268.4 163.6 275.4 166.7 282 169.7C288.6 172.7 294.5 175.3 301.7 178.6C308.9 181.9 316.9 185.7 325 189.4C333.1 193.1 341 196.8 350 200.8C359 204.9 374.1 211.5 378.9 213.7" stroke="#00f" stroke-width="0.95" fill="none"/>
<path d="M80.1 22.2C81.2 23.5 84 26.9 86.8 29.9C89.6 32.9 93.4 36.9 96.7 40.2C100 43.5 102.5 46.2 106.6 49.6C110.7 53 117 57.4 121.4 60.6C125.8 63.8 128.9 65.6 133.2 68.6C137.5 71.6 142.3 75 147 78.4C151.7 81.8 157.8 86.1 161.6 88.8C165.4 91.5 167 92.6 169.9 94.6C172.8 96.6 175.8 98.6 179.2 100.8C182.6 103 186.5 105.4 190.3 107.6C194.1 109.8 197.7 111.7 201.9 113.9C206.1 116.1 210.9 118.3 215.4 120.6C219.9 122.9 224.3 125.3 229.2 127.9C234.1 130.5 239.5 133.6 245 136.4C250.5 139.2 256 141.9 262.2 145C268.4 148.1 275.4 151.6 282 154.8C288.6 158 294.5 160.8 301.7 164.2C308.9 167.6 316.9 171.5 325 175.3C333.1 179.1 341 183.1 350 187.2C359 191.3 374.1 197.9 378.9 200" stroke="#f00" stroke-width="0.95" fill="none"/>
<path d="M72.4 83.6H131.4V255.5" stroke="#00f" stroke-width="1" fill="none" opacity="0.85"/>
<path d="M72.4 69.3H133.4V255.5" stroke="#f00" stroke-width="1" fill="none" opacity="0.85"/>
<path d="M375.8 226.6h6.4M379 223.4v6.4M379 221.8V230.6M375.8 221.8h6.4M375.8 230.6h6.4M347.9 200.7h6.4M351.1 197.5v6.4M351.1 197.6V203.8M347.9 197.6h6.4M347.9 203.8h6.4M322.6 188.1h6.4M325.8 184.9v6.4M325.8 186.6V189.6M322.6 186.6h6.4M322.6 189.6h6.4M299.6 177h6.4M302.8 173.8v6.4M302.8 175.9V178.1M299.6 175.9h6.4M299.6 178.1h6.4M278.6 167.9h6.4M281.8 164.7v6.4M259.6 160.1h6.4M262.8 156.9v6.4M242.3 151.8h6.4M245.5 148.6v6.4M226.5 144.5h6.4M229.7 141.3v6.4M212.2 136.9h6.4M215.4 133.7v6.4M199.2 129.9h6.4M202.4 126.7v6.4M187.4 123.1h6.4M190.6 119.9v6.4M176.7 116.7h6.4M179.9 113.5v6.4M166.9 110.4h6.4M170.1 107.2v6.4M158 104.4h6.4M161.2 101.2v6.4M149.9 98.9h6.4M153.1 95.7v6.4M142.6 93.7h6.4M145.8 90.5v6.4M135.9 89h6.4M139.1 85.8v6.4M129.9 84.6h6.4M133.1 81.4v6.4M124.3 80.5h6.4M127.5 77.3v6.4M119.3 76.8h6.4M122.5 73.6v6.4M114.8 73h6.4M118 69.8v6.4M110.6 69.4h6.4M113.8 66.2v6.4M106.9 68.4h6.4M110.1 65.2v6.4M103.4 66.4h6.4M106.6 63.2v6.4M100.3 64.3h6.4M103.5 61.1v6.4M97.5 62.3h6.4M100.7 59.1v6.4M94.9 60.6h6.4M98.1 57.4v6.4M92.6 59.1h6.4M95.8 55.9v6.4M90.5 57.9h6.4M93.7 54.7v6.4M88.5 56.9h6.4M91.7 53.7v6.4M86.8 55.9h6.4M90 52.7v6.4M85.2 55.1h6.4M88.4 51.9v6.4M83.7 54.3h6.4M86.9 51.1v6.4M82.4 53.8h6.4M85.6 50.6v6.4M81.2 53.5h6.4M84.4 50.3v6.4M80.1 53.1h6.4M83.3 49.9v6.4M79.1 52.8h6.4M82.3 49.6v6.4M78.2 52.6h6.4M81.4 49.4v6.4M77.4 52.3h6.4M80.6 49.1v6.4M76.7 52.1h6.4M79.9 48.9v6.4M76 51.9h6.4M79.2 48.7v6.4M75.4 51.7h6.4M78.6 48.5v6.4" stroke="#00f" stroke-width="0.9" fill="none"/>
<path d="M375.8 229.2h6.4M379 226v6.4M379 224.5V234.2M375.8 224.5h6.4M375.8 234.2h6.4M347.9 187h6.4M351.1 183.8v6.4M351.1 182.8V191M347.9 182.8h6.4M347.9 191h6.4M322.6 170h6.4M325.8 166.8v6.4M325.8 168.2V171.8M322.6 168.2h6.4M322.6 171.8h6.4M299.6 161.6h6.4M302.8 158.4v6.4M302.8 160.4V162.8M299.6 160.4h6.4M299.6 162.8h6.4M278.6 152.6h6.4M281.8 149.4v6.4M259.6 144.4h6.4M262.8 141.2v6.4M242.3 136.3h6.4M245.5 133.1v6.4M226.5 128.3h6.4M229.7 125.1v6.4M212.2 120.6h6.4M215.4 117.4v6.4M199.2 113.8h6.4M202.4 110.6v6.4M187.4 107.1h6.4M190.6 103.9v6.4M176.7 100.5h6.4M179.9 97.3v6.4M166.9 94.4h6.4M170.1 91.2v6.4M158 88.4h6.4M161.2 85.2v6.4M149.9 82.9h6.4M153.1 79.7v6.4M142.6 77.8h6.4M145.8 74.6v6.4M135.9 73.1h6.4M139.1 69.9v6.4M129.9 68.8h6.4M133.1 65.6v6.4M124.3 65h6.4M127.5 61.8v6.4M119.3 61.6h6.4M122.5 58.4v6.4M114.8 58.1h6.4M118 54.9v6.4M110.6 54.7h6.4M113.8 51.5v6.4M106.9 53h6.4M110.1 49.8v6.4M103.4 50.8h6.4M106.6 47.6v6.4M100.3 48.9h6.4M103.5 45.7v6.4M97.5 47.2h6.4M100.7 44v6.4M94.9 45.7h6.4M98.1 42.5v6.4M92.6 44.3h6.4M95.8 41.1v6.4M90.5 43.1h6.4M93.7 39.9v6.4M88.5 42.1h6.4M91.7 38.9v6.4M86.8 41.1h6.4M90 37.9v6.4M85.2 40.3h6.4M88.4 37.1v6.4M83.7 39.5h6.4M86.9 36.3v6.4M82.4 39.1h6.4M85.6 35.9v6.4M81.2 38.8h6.4M84.4 35.6v6.4M80.1 38.5h6.4M83.3 35.3v6.4M79.1 38.3h6.4M82.3 35.1v6.4M78.2 38h6.4M81.4 34.8v6.4M77.4 37.8h6.4M80.6 34.6v6.4M76.7 37.6h6.4M79.9 34.4v6.4M76 37.4h6.4M79.2 34.2v6.4M75.4 37.3h6.4M78.6 34.1v6.4" stroke="#f00" stroke-width="0.9" fill="none"/>
<path d="M187.4 122.4h6.4M187.4 123.8h6.4M176.7 116h6.4M176.7 117.4h6.4M166.9 109.7h6.4M166.9 111.1h6.4M158 103.7h6.4M158 105.1h6.4M149.9 98.2h6.4M149.9 99.6h6.4M142.6 93h6.4M142.6 94.4h6.4M135.9 88.3h6.4M135.9 89.7h6.4M129.9 83.9h6.4M129.9 85.3h6.4M124.3 79.8h6.4M124.3 81.2h6.4M119.3 76.1h6.4M119.3 77.5h6.4M114.8 72.3h6.4M114.8 73.7h6.4M110.6 68.7h6.4M110.6 70.1h6.4M106.9 67.7h6.4M106.9 69.1h6.4M103.4 65.7h6.4M103.4 67.1h6.4M100.3 63.6h6.4M100.3 65h6.4M97.5 61.6h6.4M97.5 63h6.4M94.9 59.9h6.4M94.9 61.3h6.4M92.6 58.4h6.4M92.6 59.8h6.4M90.5 57.2h6.4M90.5 58.6h6.4M88.5 56.2h6.4M88.5 57.6h6.4M86.8 55.2h6.4M86.8 56.6h6.4M85.2 54.4h6.4M85.2 55.8h6.4M83.7 53.6h6.4M83.7 55h6.4M82.4 53.1h6.4M82.4 54.5h6.4M81.2 52.8h6.4M81.2 54.2h6.4M80.1 52.4h6.4M80.1 53.8h6.4M79.1 52.1h6.4M79.1 53.5h6.4M78.2 51.9h6.4M78.2 53.3h6.4M77.4 51.6h6.4M77.4 53h6.4M76.7 51.4h6.4M76.7 52.8h6.4M76 51.2h6.4M76 52.6h6.4M75.4 51h6.4M75.4 52.4h6.4" stroke="#00f" stroke-width="0.7" fill="none" opacity="0.4"/>
<path d="M187.4 106.4h6.4M187.4 107.8h6.4M176.7 99.8h6.4M176.7 101.2h6.4M166.9 93.7h6.4M166.9 95.1h6.4M158 87.7h6.4M158 89.1h6.4M149.9 82.2h6.4M149.9 83.6h6.4M142.6 77.1h6.4M142.6 78.5h6.4M135.9 72.4h6.4M135.9 73.8h6.4M129.9 68.1h6.4M129.9 69.5h6.4M124.3 64.3h6.4M124.3 65.7h6.4M119.3 60.9h6.4M119.3 62.3h6.4M114.8 57.4h6.4M114.8 58.8h6.4M110.6 54h6.4M110.6 55.4h6.4M106.9 52.3h6.4M106.9 53.7h6.4M103.4 50.1h6.4M103.4 51.5h6.4M100.3 48.2h6.4M100.3 49.6h6.4M97.5 46.5h6.4M97.5 47.9h6.4M94.9 45h6.4M94.9 46.4h6.4M92.6 43.6h6.4M92.6 45h6.4M90.5 42.4h6.4M90.5 43.8h6.4M88.5 41.4h6.4M88.5 42.8h6.4M86.8 40.4h6.4M86.8 41.8h6.4M85.2 39.6h6.4M85.2 41h6.4M83.7 38.8h6.4M83.7 40.2h6.4M82.4 38.4h6.4M82.4 39.8h6.4M81.2 38.1h6.4M81.2 39.5h6.4M80.1 37.8h6.4M80.1 39.2h6.4M79.1 37.6h6.4M79.1 39h6.4M78.2 37.3h6.4M78.2 38.7h6.4M77.4 37.1h6.4M77.4 38.5h6.4M76.7 36.9h6.4M76.7 38.3h6.4M76 36.7h6.4M76 38.1h6.4M75.4 36.6h6.4M75.4 38h6.4" stroke="#f00" stroke-width="0.7" fill="none" opacity="0.4"/>
<path d="M72.4 305.4H250" stroke="#9a8ad0" stroke-width="1" fill="none"/>
<path d="M150 305.1L200 303.6L236 301.2L266.1 297.2L286.2 293.8L306.3 288.1L325.4 281.5L332.4 274.1L344.6 255.5L378.8 255.5L378.8 355.4L364.5 355.4L350.5 343.3L325.4 325.3L306.3 320.7L286.2 316.2L266.1 313.2L236 309.2L200 307.2L150 305.8Z" fill="#ffb0b0"/>
<path d="M150 305.2L200 304.4L236 303.2L266.1 300.2L286.2 297.2L306.3 293.1L325.4 288.1L350.5 276.1L356.5 255.5L378.8 255.5L378.8 355.4L372.5 355.4L350.5 329.3L325.4 321.3L306.3 317.2L286.2 314.2L266.1 311.2L236 308.6L200 306.6L150 305.6Z" fill="#b0b0ff"/>
<path d="M347.9 308.6h6.4M351.1 305.4v6.4M351.1 293.1V323.3M347.9 293.1h6.4M347.9 323.3h6.4M322.6 331.9h6.4M325.8 328.7v6.4M325.8 326.3V337.3M322.6 326.3h6.4M322.6 337.3h6.4M299.6 321h6.4M302.8 317.8v6.4M302.8 316.2V326.3M299.6 316.2h6.4M299.6 326.3h6.4M278.6 315.2h6.4M281.8 312v6.4M281.8 310.2V319.9M278.6 310.2h6.4M278.6 319.9h6.4M259.6 309h6.4M262.8 305.8v6.4M262.8 304.8V313.2M259.6 304.8h6.4M259.6 313.2h6.4M242.3 305.6h6.4M245.5 302.4v6.4M245.5 300.6V310.2M242.3 300.6h6.4M242.3 310.2h6.4M226.5 305.8h6.4M229.7 302.6v6.4M229.7 303.6V308M226.5 303.6h6.4M226.5 308h6.4M212.2 305h6.4M215.4 301.8v6.4M215.4 303.1V306.9M212.2 303.1h6.4M212.2 306.9h6.4M199.2 302.2h6.4M202.4 299v6.4M202.4 300.5V303.9M199.2 300.5h6.4M199.2 303.9h6.4M187.4 298.9h6.4M190.6 295.7v6.4M190.6 297.3V300.4M187.4 297.3h6.4M187.4 300.4h6.4M176.7 298.6h6.4M179.9 295.4v6.4M179.9 297.3V299.9M176.7 297.3h6.4M176.7 299.9h6.4M166.9 302.1h6.4M170.1 298.9v6.4M170.1 300.9V303.2M166.9 300.9h6.4M166.9 303.2h6.4M158 304.3h6.4M161.2 301.1v6.4M161.2 303.3V305.3M158 303.3h6.4M158 305.3h6.4M149.9 305.9h6.4M153.1 302.7v6.4M153.1 305V306.8M149.9 305h6.4M149.9 306.8h6.4M142.6 307h6.4M145.8 303.8v6.4M145.8 306.1V307.8M142.6 306.1h6.4M142.6 307.8h6.4M135.9 307.4h6.4M139.1 304.2v6.4M139.1 306.5V308.2M135.9 306.5h6.4M135.9 308.2h6.4M129.9 307.8h6.4M133.1 304.6v6.4M133.1 306.9V308.6M129.9 306.9h6.4M129.9 308.6h6.4M124.3 307.4h6.4M127.5 304.2v6.4M127.5 306.6V308.3M124.3 306.6h6.4M124.3 308.3h6.4M119.3 306.9h6.4M122.5 303.7v6.4M122.5 306V307.7M119.3 306h6.4M119.3 307.7h6.4M114.8 305.1h6.4M118 301.9v6.4M118 304.3V306M114.8 304.3h6.4M114.8 306h6.4M110.6 302.9h6.4M113.8 299.7v6.4M113.8 302V303.7M110.6 302h6.4M110.6 303.7h6.4" stroke="#f00" stroke-width="1" fill="none"/>
<path d="M347.9 310.2h6.4M351.1 307v6.4M351.1 300.2V321.3M347.9 300.2h6.4M347.9 321.3h6.4M322.6 317.2h6.4M325.8 314v6.4M325.8 313.2V321.3M322.6 313.2h6.4M322.6 321.3h6.4M299.6 320h6.4M302.8 316.8v6.4M302.8 316.2V323.3M299.6 316.2h6.4M299.6 323.3h6.4M278.6 316.4h6.4M281.8 313.2v6.4M281.8 313.2V319.9M278.6 313.2h6.4M278.6 319.9h6.4M259.6 310h6.4M262.8 306.8v6.4M262.8 307.2V313.2M259.6 307.2h6.4M259.6 313.2h6.4M242.3 308.2h6.4M245.5 305v6.4M245.5 305.2V311.2M242.3 305.2h6.4M242.3 311.2h6.4M226.5 306.2h6.4M229.7 303v6.4M229.7 304.6V307.8M226.5 304.6h6.4M226.5 307.8h6.4M212.2 305.4h6.4M215.4 302.2v6.4M215.4 304V306.8M212.2 304h6.4M212.2 306.8h6.4M199.2 302.6h6.4M202.4 299.4v6.4M202.4 301.4V303.8M199.2 301.4h6.4M199.2 303.8h6.4M187.4 299.3h6.4M190.6 296.1v6.4M190.6 298.2V300.3M187.4 298.2h6.4M187.4 300.3h6.4M176.7 299h6.4M179.9 295.8v6.4M179.9 298V300M176.7 298h6.4M176.7 300h6.4M166.9 302.5h6.4M170.1 299.3v6.4M170.1 301.6V303.3M166.9 301.6h6.4M166.9 303.3h6.4M158 304.7h6.4M161.2 301.5v6.4M161.2 304V305.4M158 304h6.4M158 305.4h6.4M149.9 306.3h6.4M153.1 303.1v6.4M153.1 305.7V307M149.9 305.7h6.4M149.9 307h6.4M142.6 307.4h6.4M145.8 304.2v6.4M145.8 306.8V308M142.6 306.8h6.4M142.6 308h6.4M135.9 307.8h6.4M139.1 304.6v6.4M139.1 307.2V308.4M135.9 307.2h6.4M135.9 308.4h6.4M129.9 308.2h6.4M133.1 305v6.4M133.1 307.6V308.8M129.9 307.6h6.4M129.9 308.8h6.4M124.3 307.8h6.4M127.5 304.6v6.4M127.5 307.2V308.4M124.3 307.2h6.4M124.3 308.4h6.4M119.3 307.3h6.4M122.5 304.1v6.4M122.5 306.7V307.9M119.3 306.7h6.4M119.3 307.9h6.4M114.8 305.5h6.4M118 302.3v6.4M118 304.9V306.1M114.8 304.9h6.4M114.8 306.1h6.4M110.6 303.3h6.4M113.8 300.1v6.4M113.8 302.7V303.9M110.6 302.7h6.4M110.6 303.9h6.4" stroke="#00f" stroke-width="1" fill="none"/>
<path d="M375.8 391.2h6.4M379 388v6.4M379 374.7V408.5M375.8 374.7h6.4M375.8 408.5h6.4M322.6 404.7h6.4M325.8 401.5v6.4M325.8 390V454.3M322.6 390h6.4M322.6 454.3h6.4M299.6 403.4h6.4M302.8 400.2v6.4M302.8 376.7V430.2M299.6 376.7h6.4M299.6 430.2h6.4M278.6 427.6h6.4M281.8 424.4v6.4M281.8 417.7V436.5M278.6 417.7h6.4M278.6 436.5h6.4M259.6 437.3h6.4M262.8 434.1v6.4M262.8 426.5V443.6M259.6 426.5h6.4M259.6 443.6h6.4M242.3 431.9h6.4M245.5 428.7v6.4M245.5 423.8V440.4M242.3 423.8h6.4M242.3 440.4h6.4M226.5 418.2h6.4M229.7 415v6.4M229.7 414.9V421.4M226.5 414.9h6.4M226.5 421.4h6.4M212.2 421.8h6.4M215.4 418.6v6.4M215.4 417.5V425.9M212.2 417.5h6.4M212.2 425.9h6.4M199.2 422.5h6.4M202.4 419.3v6.4M202.4 418.7V426.3M199.2 418.7h6.4M199.2 426.3h6.4M187.4 423h6.4M190.6 419.8v6.4M190.6 420.3V425.8M187.4 420.3h6.4M187.4 425.8h6.4M176.7 424.4h6.4M179.9 421.2v6.4M179.9 421.9V426.9M176.7 421.9h6.4M176.7 426.9h6.4M166.9 424.6h6.4M170.1 421.4v6.4M170.1 422.3V426.9M166.9 422.3h6.4M166.9 426.9h6.4M158 425.2h6.4M161.2 422v6.4M161.2 423.1V427.3M158 423.1h6.4M158 427.3h6.4M149.9 426h6.4M153.1 422.8v6.4M153.1 424.1V428M149.9 424.1h6.4M149.9 428h6.4M142.6 426.5h6.4M145.8 423.3v6.4M145.8 424.6V428.3M142.6 424.6h6.4M142.6 428.3h6.4M135.9 426.8h6.4M139.1 425.6v2.4M139.1 425.1V428.5M135.9 425.1h6.4M135.9 428.5h6.4M129.9 428.5h6.4M133.1 427.3v2.4M133.1 426.9V430M129.9 426.9h6.4M129.9 430h6.4M124.3 430.2h6.4M127.5 429v2.4M127.5 428.8V431.7M124.3 428.8h6.4M124.3 431.7h6.4M119.3 431.9h6.4M122.5 430.7v2.4M122.5 430.6V433.3M119.3 430.6h6.4M119.3 433.3h6.4M114.8 433.2h6.4M118 432v2.4M118 431.9V434.5M114.8 431.9h6.4M114.8 434.5h6.4M110.6 434h6.4M113.8 432.8v2.4M113.8 432.9V435.2M110.6 432.9h6.4M110.6 435.2h6.4M106.9 434.8h6.4M110.1 433.6v2.4M110.1 433.7V435.9M106.9 433.7h6.4M106.9 435.9h6.4M103.4 435.2h6.4M106.6 434v2.4M106.6 434.2V436.2M103.4 434.2h6.4M103.4 436.2h6.4M100.3 435.6h6.4M103.5 434.4v2.4M103.5 434.6V436.5M100.3 434.6h6.4M100.3 436.5h6.4M97.5 435.9h6.4M100.7 434.7v2.4M100.7 435V436.8M97.5 435h6.4M97.5 436.8h6.4M94.9 436.3h6.4M98.1 435.1v2.4M98.1 435.4V437.2M94.9 435.4h6.4M94.9 437.2h6.4M92.6 436.7h6.4M95.8 435.5v2.4M95.8 435.8V437.6M92.6 435.8h6.4M92.6 437.6h6.4M90.5 437h6.4M93.7 435.8v2.4M93.7 436.1V437.9M90.5 436.1h6.4M90.5 437.9h6.4M88.5 437.3h6.4M91.7 436.1v2.4M91.7 436.4V438.2M88.5 436.4h6.4M88.5 438.2h6.4M86.8 437.6h6.4M90 436.4v2.4M90 436.7V438.5M86.8 436.7h6.4M86.8 438.5h6.4M85.2 438h6.4M88.4 436.8v2.4M88.4 437.1V438.9M85.2 437.1h6.4M85.2 438.9h6.4M83.7 438.3h6.4M86.9 437.1v2.4M86.9 437.4V439.2M83.7 437.4h6.4M83.7 439.2h6.4M82.4 438.6h6.4M85.6 437.4v2.4M85.6 437.7V439.5M82.4 437.7h6.4M82.4 439.5h6.4M81.2 438.9h6.4M84.4 437.7v2.4M84.4 438V439.8M81.2 438h6.4M81.2 439.8h6.4M80.1 439.1h6.4M83.3 437.9v2.4M83.3 438.2V440M80.1 438.2h6.4M80.1 440h6.4M79.1 439.3h6.4M82.3 438.1v2.4M82.3 438.4V440.2M79.1 438.4h6.4M79.1 440.2h6.4M78.2 439.5h6.4M81.4 438.3v2.4M81.4 438.6V440.4M78.2 438.6h6.4M78.2 440.4h6.4M77.4 439.7h6.4M80.6 438.5v2.4M80.6 438.8V440.6M77.4 438.8h6.4M77.4 440.6h6.4M76.7 439.9h6.4M79.9 438.7v2.4M79.9 439V440.8M76.7 439h6.4M76.7 440.8h6.4M76 440h6.4M79.2 438.8v2.4M79.2 439.1V440.9M76 439.1h6.4M76 440.9h6.4M75.4 440.2h6.4M78.6 439v2.4M78.6 439.3V441.1M75.4 439.3h6.4M75.4 441.1h6.4" stroke="#a8a8a8" stroke-width="1" fill="none" opacity="0.9"/>
<path d="M347.9 448.7h6.4M351.1 445.5v6.4M351.1 409.3V451M347.9 409.3h6.4M347.9 451h6.4M322.6 403.9h6.4M325.8 400.7v6.4M325.8 388.7V418.2M322.6 388.7h6.4M322.6 418.2h6.4M299.6 431.4h6.4M302.8 428.2v6.4M302.8 417.7V444.1M299.6 417.7h6.4M299.6 444.1h6.4M278.6 436.5h6.4M281.8 433.3v6.4M281.8 424.3V448M278.6 424.3h6.4M278.6 448h6.4M259.6 431.4h6.4M262.8 428.2v6.4M262.8 419.2V443.6M259.6 419.2h6.4M259.6 443.6h6.4M242.3 433.5h6.4M245.5 430.3v6.4M245.5 421.2V446.2M242.3 421.2h6.4M242.3 446.2h6.4M226.5 425.8h6.4M229.7 422.6v6.4M229.7 418.2V434M226.5 418.2h6.4M226.5 434h6.4M212.2 425.8h6.4M215.4 422.6v6.4M215.4 421.2V430.2M212.2 421.2h6.4M212.2 430.2h6.4M199.2 424.3h6.4M202.4 421.1v6.4M202.4 420V427.8M199.2 420h6.4M199.2 427.8h6.4M187.4 424.4h6.4M190.6 421.2v6.4M190.6 421.8V427.1M187.4 421.8h6.4M187.4 427.1h6.4M176.7 425.6h6.4M179.9 422.4v6.4M179.9 423.2V428M176.7 423.2h6.4M176.7 428h6.4M166.9 425.2h6.4M170.1 422v6.4M170.1 423V427.4M166.9 423h6.4M166.9 427.4h6.4M158 425.4h6.4M161.2 422.2v6.4M161.2 423.4V427.4M158 423.4h6.4M158 427.4h6.4M149.9 425.6h6.4M153.1 422.4v6.4M153.1 423.7V427.4M149.9 423.7h6.4M149.9 427.4h6.4M142.6 425.5h6.4M145.8 422.3v6.4M145.8 423.8V427.2M142.6 423.8h6.4M142.6 427.2h6.4M135.9 425.4h6.4M139.1 423.8v3.2M139.1 423.8V427M135.9 423.8h6.4M135.9 427h6.4M129.9 426.8h6.4M133.1 425.2v3.2M133.1 425.3V428.3M129.9 425.3h6.4M129.9 428.3h6.4M124.3 428.3h6.4M127.5 426.7v3.2M127.5 427V429.7M124.3 427h6.4M124.3 429.7h6.4M119.3 429.8h6.4M122.5 428.2v3.2M122.5 428.6V431.1M119.3 428.6h6.4M119.3 431.1h6.4M114.8 431h6.4M118 429.4v3.2M118 429.8V432.2M114.8 429.8h6.4M114.8 432.2h6.4M110.6 431.8h6.4M113.8 430.2v3.2M113.8 430.8V432.9M110.6 430.8h6.4M110.6 432.9h6.4M106.9 432.6h6.4M110.1 431v3.2M110.1 431.6V433.6M106.9 431.6h6.4M106.9 433.6h6.4M103.4 433h6.4M106.6 431.4v3.2M106.6 432.1V433.9M103.4 432.1h6.4M103.4 433.9h6.4M100.3 433.4h6.4M103.5 431.8v3.2M103.5 432.5V434.2M100.3 432.5h6.4M100.3 434.2h6.4M97.5 433.7h6.4M100.7 432.1v3.2M100.7 432.9V434.5M97.5 432.9h6.4M97.5 434.5h6.4M94.9 434h6.4M98.1 432.4v3.2M98.1 433.2V434.8M94.9 433.2h6.4M94.9 434.8h6.4M92.6 434.3h6.4M95.8 432.7v3.2M95.8 433.5V435.1M92.6 433.5h6.4M92.6 435.1h6.4M90.5 434.6h6.4M93.7 433v3.2M93.7 433.8V435.4M90.5 433.8h6.4M90.5 435.4h6.4M88.5 434.8h6.4M91.7 433.2v3.2M91.7 434V435.6M88.5 434h6.4M88.5 435.6h6.4M86.8 435h6.4M90 433.4v3.2M90 434.2V435.8M86.8 434.2h6.4M86.8 435.8h6.4M85.2 435.3h6.4M88.4 433.7v3.2M88.4 434.5V436.1M85.2 434.5h6.4M85.2 436.1h6.4M83.7 435.5h6.4M86.9 433.9v3.2M86.9 434.7V436.3M83.7 434.7h6.4M83.7 436.3h6.4M82.4 435.7h6.4M85.6 434.1v3.2M85.6 434.9V436.5M82.4 434.9h6.4M82.4 436.5h6.4M81.2 435.9h6.4M84.4 434.3v3.2M84.4 435.1V436.7M81.2 435.1h6.4M81.2 436.7h6.4M80.1 436.1h6.4M83.3 434.5v3.2M83.3 435.3V436.9M80.1 435.3h6.4M80.1 436.9h6.4M79.1 436.2h6.4M82.3 434.6v3.2M82.3 435.4V437M79.1 435.4h6.4M79.1 437h6.4M78.2 436.4h6.4M81.4 434.8v3.2M81.4 435.6V437.2M78.2 435.6h6.4M78.2 437.2h6.4M77.4 436.5h6.4M80.6 434.9v3.2M80.6 435.7V437.3M77.4 435.7h6.4M77.4 437.3h6.4M76.7 436.6h6.4M79.9 435v3.2M79.9 435.8V437.4M76.7 435.8h6.4M76.7 437.4h6.4M76 436.7h6.4M79.2 435.1v3.2M79.2 435.9V437.5M76 435.9h6.4M76 437.5h6.4M75.4 436.8h6.4M78.6 435.2v3.2M78.6 436V437.6M75.4 436h6.4M75.4 437.6h6.4" stroke="#1a1a1a" stroke-width="0.8" fill="none" opacity="0.85"/>
<path d="M72.4 7H385.1V451H72.4ZM72.4 255.5H385.1M72.4 355.4H385.1M111.49 7V13M150.58 7V13M189.66 7V13M228.75 7V13M267.84 7V13M306.93 7V13M346.01 7V13M111.49 249.5V255.5M150.58 249.5V255.5M189.66 249.5V255.5M228.75 249.5V255.5M267.84 249.5V255.5M306.93 249.5V255.5M346.01 249.5V255.5M111.49 255.5V261.5M150.58 255.5V261.5M189.66 255.5V261.5M228.75 255.5V261.5M267.84 255.5V261.5M306.93 255.5V261.5M111.49 349.4V361.4M150.58 349.4V361.4M189.66 349.4V361.4M228.75 349.4V361.4M267.84 349.4V361.4M306.93 349.4V361.4M346.01 349.4V361.4M111.49 445V451M150.58 445V451M189.66 445V451M228.75 445V451M267.84 445V451M306.93 445V451M346.01 445V451M72.4 52.1H78.4M72.4 97.2H78.4M72.4 142.3H78.4M72.4 187.4H78.4M72.4 232.5H78.4M379.1 52.1H385.1M379.1 97.2H385.1M379.1 142.3H385.1M379.1 187.4H385.1M379.1 232.5H385.1M72.4 275.48H78.4M72.4 305.45H78.4M72.4 335.42H78.4M379.1 275.48H385.1M379.1 305.45H385.1M379.1 335.42H385.1M72.4 379.3H78.4M72.4 427.1H78.4M379.1 385.4H385.1M379.1 444.5H385.1M463.3 7H740.3V451H463.3ZM463.3 230.8H740.3M492.98 7V13M542.44 7V13M591.91 7V13M641.37 7V13M690.84 7V13M492.98 224.8V236.8M542.44 224.8V236.8M591.91 224.8V236.8M641.37 224.8V236.8M690.84 224.8V236.8M492.98 445V451M542.44 445V451M591.91 445V451M641.37 445V451M690.84 445V451M463.3 44.3H469.3M463.3 118.9H469.3M463.3 193.5H469.3M734.3 44.3H740.3M734.3 118.9H740.3M734.3 193.5H740.3M463.3 267.5H469.3M463.3 340.9H469.3M463.3 414.3H469.3M734.3 267.5H740.3M734.3 340.9H740.3M734.3 414.3H740.3" stroke="#111" stroke-width="1.3" fill="none"/>
<path d="M464 119H739.6" stroke="#7d7d7d" stroke-width="1" stroke-dasharray="4.4 1.5" stroke-dashoffset="2.4" fill="none"/>
<path d="M464 120.5H739.6" stroke="#00e600" stroke-width="3" stroke-dasharray="4.2 1.7" fill="none"/>
<path d="M464 341H739.6" stroke="#7d7d7d" stroke-width="1" stroke-dasharray="4.4 1.5" stroke-dashoffset="2.4" fill="none"/>
<path d="M464 342.5H739.6" stroke="#00e600" stroke-width="3" stroke-dasharray="4.2 1.7" fill="none"/>
<text x="61.8" y="13.6" text-anchor="end" font-size="17.8" fill="#000">16</text>
<text x="61.8" y="58.7" text-anchor="end" font-size="17.8" fill="#000">18</text>
<text x="61.8" y="103.8" text-anchor="end" font-size="17.8" fill="#000">20</text>
<text x="61.8" y="148.9" text-anchor="end" font-size="17.8" fill="#000">22</text>
<text x="61.8" y="194" text-anchor="end" font-size="17.8" fill="#000">24</text>
<text x="61.8" y="239.1" text-anchor="end" font-size="17.8" fill="#000">26</text>
<text x="61.8" y="282.08" text-anchor="end" font-size="17.8" fill="#000">0.3</text>
<text x="61.8" y="312.05" text-anchor="end" font-size="17.8" fill="#000">0</text>
<text x="61.8" y="342.02" text-anchor="end" font-size="17.8" fill="#000">-0.3</text>
<text x="61.8" y="385.9" text-anchor="end" font-size="17.8" fill="#000">0.9</text>
<text x="61.8" y="433.7" text-anchor="end" font-size="17.8" fill="#000">0.7</text>
<text x="74.8" y="475.4" text-anchor="middle" font-size="17.8" fill="#000">0</text>
<text x="113.89" y="475.4" text-anchor="middle" font-size="17.8" fill="#000">0.2</text>
<text x="152.98" y="475.4" text-anchor="middle" font-size="17.8" fill="#000">0.4</text>
<text x="192.06" y="475.4" text-anchor="middle" font-size="17.8" fill="#000">0.6</text>
<text x="231.15" y="475.4" text-anchor="middle" font-size="17.8" fill="#000">0.8</text>
<text x="270.24" y="475.4" text-anchor="middle" font-size="17.8" fill="#000">1</text>
<text x="309.33" y="475.4" text-anchor="middle" font-size="17.8" fill="#000">1.2</text>
<text x="348.41" y="475.4" text-anchor="middle" font-size="17.8" fill="#000">1.4</text>
<text x="387.5" y="475.4" text-anchor="middle" font-size="17.8" fill="#000">1.6</text>
<text x="228.75" y="501.6" text-anchor="middle" font-size="17.9" fill="#000">r [arcsec]</text>
<text x="452.3" y="50.4" text-anchor="end" font-size="17.8" fill="#000">0.02</text>
<text x="452.3" y="273.6" text-anchor="end" font-size="17.8" fill="#000">0.02</text>
<text x="452.3" y="125" text-anchor="end" font-size="17.8" fill="#000">0</text>
<text x="452.3" y="347" text-anchor="end" font-size="17.8" fill="#000">0</text>
<text x="452.3" y="199.6" text-anchor="end" font-size="17.8" fill="#000">-0.02</text>
<text x="452.3" y="420.4" text-anchor="end" font-size="17.8" fill="#000">-0.02</text>
<text x="495.78" y="475.4" text-anchor="middle" font-size="17.8" fill="#000">0.5</text>
<text x="545.24" y="475.4" text-anchor="middle" font-size="17.8" fill="#000">1</text>
<text x="594.71" y="475.4" text-anchor="middle" font-size="17.8" fill="#000">1.5</text>
<text x="644.17" y="475.4" text-anchor="middle" font-size="17.8" fill="#000">2</text>
<text x="693.64" y="475.4" text-anchor="middle" font-size="17.8" fill="#000">2.5</text>
<text x="743.1" y="475.4" text-anchor="middle" font-size="17.8" fill="#000">3</text>
<text x="601.8" y="501.6" text-anchor="middle" font-size="17.9" fill="#000">r [arcsec]</text>
<text transform="translate(19.2 225.6) rotate(-90)" text-anchor="middle" font-size="18">Surface brightness [mag arcsec<tspan font-size="14.2" dy="-8.2">-2</tspan><tspan dy="8.2">]</tspan></text>
<text transform="translate(428.4 118.7) rotate(-90)" text-anchor="middle" font-size="17.8">Flux</text>
<text transform="translate(428.4 340.7) rotate(-90)" text-anchor="middle" font-size="17.8">Flux</text>
<text x="278.2" y="57.9" text-anchor="start" font-size="32.8" fill="#000">S928</text>
<text x="139.3" y="59.6" text-anchor="start" font-size="17.8" fill="#f00">I</text>
<text x="139.3" y="122.9" text-anchor="start" font-size="17.8" fill="#00f">V</text>
<text x="139.4" y="235.0" font-size="16.9">R<tspan font-size="13.2" dy="5.8">e</tspan></text>
<text x="83.2" y="276.7" text-anchor="start" font-size="17.8" fill="#000">Residual</text>
<text x="83.4" y="378.6" text-anchor="start" font-size="17.8" fill="#000">V-I</text>
<text x="318.0" y="375.4" font-size="17.8" fill="#a6a6a6">(g-z)<tspan font-size="13.6" dy="4.2">AB</tspan></text>
<text x="390" y="391.7" text-anchor="start" font-size="17.8" fill="#a6a6a6">1.5</text>
<text x="390" y="450.8" text-anchor="start" font-size="17.8" fill="#a6a6a6">0.7</text>
<text x="475.9" y="37.8" text-anchor="start" font-size="17.8" fill="#f00">I</text>
<text x="476.3" y="262.4" text-anchor="start" font-size="17.8" fill="#00f">V</text>
</svg>
</body></html>
